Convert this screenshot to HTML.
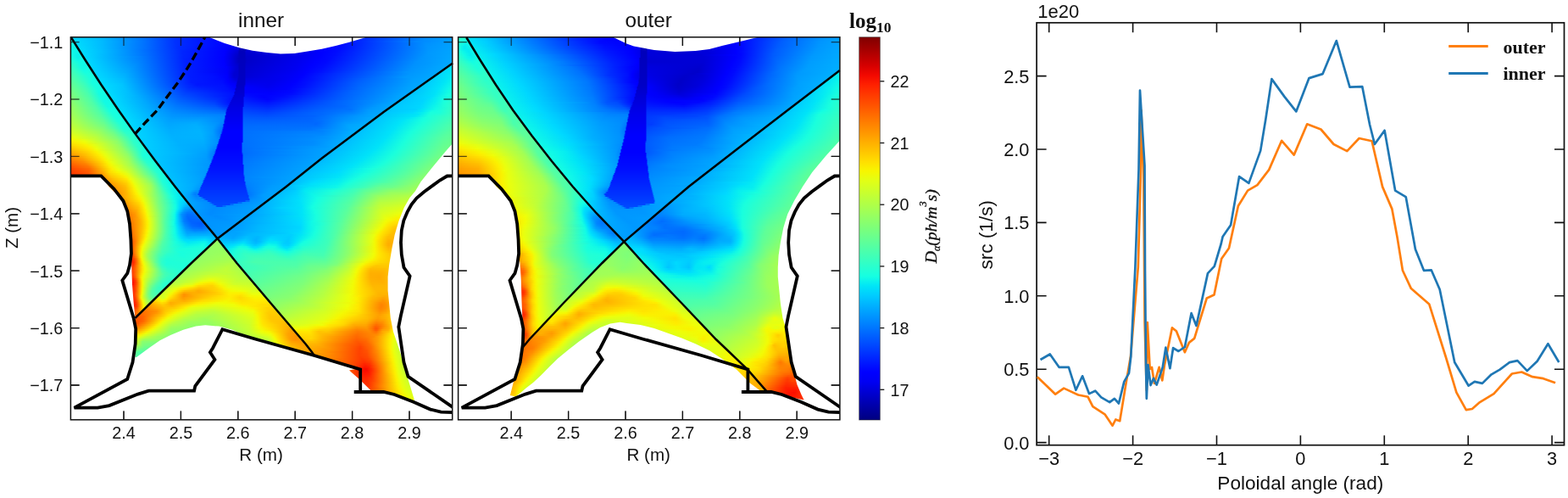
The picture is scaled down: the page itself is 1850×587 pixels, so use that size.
<!DOCTYPE html>
<html lang="en"><head><meta charset="utf-8"><title>Figure</title>
<style>
html,body{margin:0;padding:0;background:#fff}
body{width:1850px;height:587px;position:relative;overflow:hidden;font-family:'Liberation Sans', sans-serif}
.hm{position:absolute;left:0;top:0}
.hm i{display:block;height:2px}
svg{position:absolute;left:0;top:0}
text{font-family:'Liberation Sans', sans-serif;fill:#111}
.tk{font-size:19.8px}
.tt{font-size:24.3px}
.lb{font-size:20.6px}
.lc{font-size:22px}
.sf{font-family:'Liberation Serif', serif;font-weight:bold}
</style></head><body>
<svg width="1850" height="587" viewBox="0 0 1850 587"><path d="M146.0 494.8v-10.2M146.0 43.8v10.2M213.4 494.8v-10.2M213.4 43.8v10.2M280.8 494.8v-10.2M280.8 43.8v10.2M348.2 494.8v-10.2M348.2 43.8v10.2M415.6 494.8v-10.2M415.6 43.8v10.2M483.0 494.8v-10.2M483.0 43.8v10.2M83.4 49.6h10.2M533.7 49.6h-10.2M83.4 117.0h10.2M533.7 117.0h-10.2M83.4 184.4h10.2M533.7 184.4h-10.2M83.4 251.8h10.2M533.7 251.8h-10.2M83.4 319.2h10.2M533.7 319.2h-10.2M83.4 386.6h10.2M533.7 386.6h-10.2M83.4 454.0h10.2M533.7 454.0h-10.2" stroke="#111" stroke-width="1.3" fill="none"/><path d="M603.2 494.8v-10.2M603.2 43.8v10.2M670.6 494.8v-10.2M670.6 43.8v10.2M738.0 494.8v-10.2M738.0 43.8v10.2M805.4 494.8v-10.2M805.4 43.8v10.2M872.8 494.8v-10.2M872.8 43.8v10.2M940.2 494.8v-10.2M940.2 43.8v10.2M540.6 49.6h10.2M990.9 49.6h-10.2M540.6 117.0h10.2M990.9 117.0h-10.2M540.6 184.4h10.2M990.9 184.4h-10.2M540.6 251.8h10.2M990.9 251.8h-10.2M540.6 319.2h10.2M990.9 319.2h-10.2M540.6 386.6h10.2M990.9 386.6h-10.2M540.6 454.0h10.2M990.9 454.0h-10.2" stroke="#111" stroke-width="1.3" fill="none"/></svg>
<div class="hm" style="left:83.4px;top:43.8px;width:450px;height:451px;clip-path:polygon(0.0px 0.0px,163.2px 0.0px,167.0px 1.5px,181.6px 7.2px,199.0px 12.4px,214.6px 15.9px,231.5px 18.3px,247.6px 19.8px,263.9px 19.1px,279.6px 16.8px,296.3px 14.0px,312.6px 10.2px,328.8px 5.9px,345.0px 1.1px,348.6px 0.0px,450.7px 0.0px,450.7px 125.1px,442.3px 134.8px,426.1px 154.3px,413.1px 170.5px,406.6px 181.4px,400.1px 189.2px,393.6px 200.5px,387.1px 216.7px,382.3px 233.0px,379.0px 249.2px,375.8px 268.2px,374.2px 282.4px,374.2px 298.6px,375.8px 314.8px,377.4px 331.1px,380.6px 347.3px,385.5px 361.4px,389.6px 374.2px,393.6px 388.6px,400.1px 409.7px,405.0px 425.9px,405.6px 429.2px,385.5px 422.7px,372.5px 418.6px,354.6px 417.0px,341.7px 404.2px,328.6px 392.7px,341.7px 390.3px,287.2px 375.2px,224.6px 357.2px,206.6px 352.2px,191.6px 345.2px,175.0px 340.8px,158.8px 339.4px,147.8px 340.7px,132.8px 345.0px,117.8px 351.2px,105.3px 357.5px,92.7px 366.2px,77.7px 377.2px,76.1px 377.2px,76.9px 361.2px,76.9px 347.2px,76.1px 331.1px,74.1px 311.2px,72.6px 291.2px,71.9px 271.2px,71.5px 257.2px,71.5px 233.0px,70.4px 216.7px,66.3px 203.8px,58.2px 189.2px,45.2px 176.2px,35.5px 163.3px,0.0px 163.3px)"><i style="background:linear-gradient(90deg,#20ffd7 0px,#00dbff 1px,#00baff 36px,#0071ff 87px,#0030ff 125px,#0000ff 185px,#0000dc 222px,#0000e4 265px,#0000ff 304px,#000bff 322px,#008dff 419px,#009cff 449px)"></i><i style="background:linear-gradient(90deg,#1cffdb 0px,#1bffdc 1px,#00dbff 3px,#00baff 37px,#0075ff 85px,#0030ff 124px,#0000ff 185px,#0000dc 219px,#0000e2 262px,#0000ff 304px,#000cff 322px,#008dff 418px,#009dff 449px)"></i><i style="background:linear-gradient(90deg,#17ffe0 0px,#16ffe1 2px,#00dcfe 4px,#00bbff 37px,#0076ff 85px,#0030ff 124px,#0000ff 185px,#0000db 217px,#0000e0 259px,#0000ff 303px,#000bff 321px,#0086ff 408px,#009eff 449px)"></i><i style="background:linear-gradient(90deg,#12fce4 0px,#13fde4 3px,#00ddfe 5px,#00bbff 37px,#0074ff 86px,#0030ff 124px,#0000ff 185px,#0000dc 213px,#0000dd 254px,#0000ff 303px,#000dff 322px,#0090ff 419px,#009fff 449px)"></i><i style="background:linear-gradient(90deg,#0ff8e8 0px,#11fbe5 5px,#00ddfd 6px,#00bbff 37px,#0072ff 87px,#002fff 125px,#0000ff 185px,#0000dd 208px,#0000da 247px,#0000ff 302px,#000dff 321px,#0092ff 420px,#00a0ff 449px)"></i><i style="background:linear-gradient(90deg,#0ef6e9 0px,#10fae7 6px,#00ddfd 8px,#00bcff 37px,#0071ff 88px,#002dff 126px,#000bff 170px,#0000fa 188px,#0000e2 199px,#0000ce 200px,#0000cb 207px,#0000db 208px,#0000db 250px,#0000ff 301px,#000dff 320px,#0094ff 421px,#00a1ff 449px)"></i><i style="background:linear-gradient(90deg,#0df6e9 0px,#0ff8e8 7px,#00defd 9px,#00bcff 37px,#006fff 89px,#002cff 127px,#000aff 169px,#0000fa 187px,#0000dd 199px,#0000ba 200px,#0000ba 207px,#0000d8 208px,#0000dd 254px,#0000ff 300px,#000dff 319px,#0095ff 422px,#00a2ff 449px)"></i><i style="background:linear-gradient(90deg,#0ff8e8 0px,#0ef7e9 8px,#00defd 10px,#00bfff 36px,#009dff 59px,#0067ff 93px,#0027ff 131px,#0000ff 183px,#0000d9 198px,#0000ba 200px,#0000ba 207px,#0000d5 208px,#0000e0 258px,#0000ff 299px,#000eff 318px,#0096ff 422px,#00a3ff 449px)"></i><i style="background:linear-gradient(90deg,#11fae6 0px,#0cf4eb 8px,#0ef7e9 10px,#00ddfd 11px,#00c0ff 36px,#009fff 58px,#0068ff 93px,#0024ff 133px,#0000ff 182px,#0000ea 190px,#0000d3 198px,#0000bb 199px,#0000bb 206px,#0000d2 207px,#0000e4 263px,#0000ff 297px,#000bff 314px,#0097ff 422px,#00a4ff 449px)"></i><i style="background:linear-gradient(90deg,#14fee3 0px,#0af2ed 8px,#0df6e9 11px,#00ddfe 13px,#00bbff 39px,#006fff 90px,#0025ff 132px,#0000ff 182px,#0000cd 198px,#0000bb 199px,#0000bb 206px,#0000ce 207px,#0000e8 267px,#0000ff 296px,#000cff 313px,#0098ff 422px,#00a4ff 449px)"></i><i style="background:linear-gradient(90deg,#17ffe0 0px,#09f1ee 8px,#0df6e9 12px,#00ddfe 14px,#00b5ff 43px,#006fff 90px,#0023ff 134px,#0000ff 182px,#0000c7 198px,#0000bc 199px,#0000bc 206px,#0000cb 207px,#0000ea 269px,#0000ff 295px,#000bff 311px,#0097ff 420px,#00a5ff 449px)"></i><i style="background:linear-gradient(90deg,#1bffdc 0px,#0af1ed 8px,#0ef7e8 13px,#00dcfe 15px,#0080ff 82px,#0024ff 133px,#0000ff 181px,#0000ea 188px,#0000bc 200px,#0000bc 206px,#0000c9 207px,#0000ed 271px,#0000ff 294px,#000bff 309px,#0096ff 418px,#00a6ff 449px)"></i><i style="background:linear-gradient(90deg,#20ffd7 0px,#0bf3eb 9px,#11fae6 15px,#00dcfe 16px,#007bff 85px,#0022ff 134px,#0000ff 181px,#0000e5 189px,#0000bd 199px,#0000bd 206px,#0000ca 208px,#0000ee 270px,#0000ff 292px,#0009ff 306px,#0094ff 415px,#00a7ff 449px)"></i><i style="background:linear-gradient(90deg,#25ffd2 0px,#0ef7e9 9px,#12fbe5 16px,#00dbff 18px,#007eff 84px,#0021ff 135px,#0000ff 181px,#0000ea 188px,#0000be 199px,#0000be 206px,#0000c9 208px,#0000ef 270px,#0000ff 290px,#0008ff 304px,#0093ff 412px,#00a8ff 449px)"></i><i style="background:linear-gradient(90deg,#2affcd 0px,#0ff9e7 11px,#11fbe5 17px,#00dbff 19px,#0083ff 82px,#0021ff 135px,#0000ff 181px,#0000eb 188px,#0000be 199px,#0000be 206px,#0000ca 208px,#0000ef 269px,#0000ff 288px,#0008ff 302px,#0092ff 409px,#00a8ff 449px)"></i><i style="background:linear-gradient(90deg,#30ffc7 0px,#10fae6 12px,#11fae6 18px,#00dbff 20px,#008aff 79px,#0020ff 136px,#0000ff 182px,#0000c7 198px,#0000bf 200px,#0000bf 206px,#0000cb 207px,#0000f0 268px,#0000ff 286px,#0009ff 301px,#0091ff 407px,#00a9ff 449px)"></i><i style="background:linear-gradient(90deg,#35ffc1 0px,#0ff8e8 14px,#12fbe5 20px,#00dbff 21px,#0091ff 76px,#0020ff 136px,#0000ff 182px,#0000e1 191px,#0000cc 198px,#0000bf 199px,#0000bf 206px,#0000cd 207px,#0000f0 267px,#0000ff 284px,#000bff 300px,#0091ff 405px,#00a9ff 446px,#00defc 448px,#00e0fc 449px)"></i><i style="background:linear-gradient(90deg,#3affbc 0px,#10f9e7 14px,#12fce5 21px,#00daff 23px,#0096ff 74px,#001fff 137px,#0000fe 184px,#0000d1 197px,#0000cf 198px,#0000c0 199px,#0000c0 206px,#0000cf 207px,#0000f1 266px,#0000ff 282px,#000bff 298px,#0092ff 404px,#00a9ff 443px,#00dcfe 445px,#00e1fa 449px)"></i><i style="background:linear-gradient(90deg,#3fffb8 0px,#11fae6 15px,#14fee3 22px,#00daff 24px,#009dff 71px,#001eff 138px,#0000fb 185px,#0000d3 196px,#0000d1 198px,#0000c0 199px,#0000c0 206px,#0000d1 207px,#0000f0 264px,#0000ff 280px,#000dff 297px,#0093ff 403px,#00a8ff 440px,#00daff 442px,#00e2f9 449px)"></i><i style="background:linear-gradient(90deg,#43ffb4 0px,#13fde4 16px,#17ffe0 24px,#00daff 25px,#00a2ff 69px,#001eff 138px,#0000fb 185px,#0000d4 195px,#0000d1 198px,#0000c1 199px,#0000c1 206px,#0000d2 207px,#0000f1 263px,#0000ff 279px,#0010ff 297px,#0094ff 402px,#00a8ff 437px,#00c0ff 438px,#00c0ff 439px,#00d9ff 440px,#00e4f8 449px)"></i><i style="background:linear-gradient(90deg,#47ffb0 0px,#16ffe1 17px,#18ffde 25px,#00daff 27px,#00a6ff 68px,#001dff 139px,#0000fb 185px,#0000d3 194px,#0000d0 198px,#0000c1 199px,#0000c1 206px,#0000d3 207px,#0000f2 261px,#0000ff 277px,#0011ff 295px,#0093ff 397px,#00a7ff 434px,#00beff 435px,#00bfff 436px,#00d7ff 437px,#00e6f7 449px)"></i><i style="background:linear-gradient(90deg,#4bffac 0px,#1affdd 18px,#19ffde 26px,#00daff 28px,#00acff 66px,#001dff 139px,#000cff 168px,#0000fc 185px,#0000d4 193px,#0000d0 198px,#0000c2 199px,#0000c2 206px,#0000d5 207px,#0000f3 260px,#0000ff 276px,#0022ff 304px,#0097ff 401px,#00a7ff 432px,#00d5ff 434px,#01e7f5 449px)"></i><i style="background:linear-gradient(90deg,#4fffa8 0px,#1affdd 21px,#19ffde 28px,#00daff 29px,#00b0ff 65px,#001cff 140px,#000eff 168px,#0000fe 185px,#0000d4 193px,#0000d1 198px,#0000c2 199px,#0000c2 206px,#0000d6 207px,#0000f4 258px,#0000ff 274px,#0024ff 303px,#0097ff 398px,#00a7ff 429px,#00d3ff 431px,#03e9f4 449px)"></i><i style="background:linear-gradient(90deg,#53ffa4 0px,#17ffdf 24px,#17ffdf 29px,#00dbff 30px,#00b4ff 64px,#001bff 141px,#000fff 170px,#0000ff 185px,#0000d7 193px,#0000d4 197px,#0000c3 199px,#0000c3 206px,#0000d9 207px,#0000f2 254px,#0000ff 272px,#0027ff 303px,#0097ff 394px,#00a7ff 426px,#00d0ff 428px,#02e8f5 447px,#04ebf2 449px)"></i><i style="background:linear-gradient(90deg,#57ffa0 0px,#15ffe1 26px,#17ffe0 30px,#00dbff 32px,#00b9ff 63px,#001cff 141px,#0011ff 165px,#0007ff 180px,#0000fd 186px,#0000dc 194px,#0000da 197px,#0000c3 198px,#0000c3 206px,#0000df 207px,#0000ee 247px,#0000ff 269px,#0013ff 287px,#005fff 344px,#009dff 403px,#00a7ff 423px,#00baff 424px,#00bbff 425px,#00cfff 426px,#01e7f5 445px,#06edf1 449px)"></i><i style="background:linear-gradient(90deg,#5bff9c 0px,#2effc9 17px,#15ffe2 27px,#16ffe0 31px,#00dbff 33px,#00bdff 62px,#001bff 142px,#000bff 179px,#0000ff 186px,#0000e3 195px,#0000e3 196px,#0000c4 198px,#0000c4 206px,#0000e5 207px,#0000eb 241px,#0000ff 267px,#0013ff 285px,#005eff 341px,#009fff 403px,#00a7ff 420px,#00b9ff 421px,#00baff 422px,#00cdff 423px,#01e6f6 443px,#08efef 449px)"></i><i style="background:linear-gradient(90deg,#5fff97 0px,#37ffc0 16px,#16ffe1 26px,#18ffdf 33px,#00dcfe 34px,#00bfff 62px,#001aff 143px,#000dff 179px,#0000ff 187px,#0000ed 196px,#0000c4 197px,#0000c4 206px,#0000eb 207px,#0000eb 237px,#0000ff 265px,#0014ff 283px,#005fff 339px,#00a0ff 403px,#00a7ff 417px,#00b8ff 418px,#00b9ff 419px,#00cbff 420px,#00e5f7 441px,#0af1ed 449px)"></i><i style="background:linear-gradient(90deg,#63ff93 0px,#3cffbb 16px,#17ffe0 27px,#18ffdf 34px,#00dcfe 36px,#00c4ff 61px,#0026ff 138px,#0016ff 149px,#000fff 179px,#0000ff 189px,#0000f8 195px,#0000c5 197px,#0000c5 206px,#0000f1 207px,#0000ec 235px,#0000ff 262px,#000eff 277px,#0063ff 340px,#00a2ff 403px,#00a7ff 415px,#00c9ff 417px,#00e3f9 438px,#0bf4eb 449px)"></i><i style="background:linear-gradient(90deg,#67ff8f 0px,#41ffb6 16px,#18ffde 28px,#17ffe0 35px,#00ddfe 37px,#00c6ff 61px,#0031ff 134px,#0019ff 149px,#0011ff 180px,#0000ff 192px,#0000ff 195px,#0000c6 196px,#0000c6 205px,#0000f8 207px,#0000ed 233px,#0000ff 260px,#000eff 275px,#0067ff 342px,#00a2ff 402px,#00a7ff 412px,#00c7ff 414px,#00e2f9 436px,#0ef6e9 449px)"></i><i style="background:linear-gradient(90deg,#6bff8b 0px,#42ffb4 17px,#18ffdf 30px,#17ffe0 37px,#00ddfd 38px,#00c5ff 62px,#0029ff 140px,#001eff 153px,#0011ff 182px,#0000ff 195px,#0000c8 196px,#0000c8 205px,#0000fe 206px,#0000f0 233px,#0000ff 257px,#000dff 272px,#0069ff 341px,#00a3ff 400px,#00a7ff 409px,#00c5ff 411px,#00e3f9 435px,#10f9e7 449px)"></i><i style="background:linear-gradient(90deg,#6fff87 0px,#44ffb2 18px,#16ffe1 32px,#15ffe2 38px,#00ddfd 40px,#00c3ff 64px,#0030ff 139px,#0022ff 156px,#0010ff 185px,#0003ff 194px,#0000cb 195px,#0000cb 205px,#0000ff 206px,#0000f5 235px,#0000ff 256px,#001aff 278px,#0075ff 350px,#00a4ff 400px,#00a7ff 406px,#00b5ff 407px,#00b6ff 408px,#00c4ff 409px,#00e2fa 433px,#12fce4 449px)"></i><i style="background:linear-gradient(90deg,#74ff83 0px,#46ffb1 19px,#14fee3 33px,#14fee3 39px,#00defd 41px,#00c1ff 66px,#0036ff 138px,#0026ff 159px,#000cff 191px,#0009ff 194px,#0000cd 195px,#0000cd 205px,#0000ff 206px,#0000f9 236px,#0007ff 263px,#0063ff 332px,#00a3ff 395px,#00a7ff 403px,#00b4ff 404px,#00b5ff 405px,#00c3ff 406px,#00e2fa 432px,#15ffe2 449px)"></i><i style="background:linear-gradient(90deg,#78ff7f 0px,#48ffaf 20px,#13fde4 34px,#13fee3 41px,#00defd 42px,#00bfff 68px,#003fff 136px,#0029ff 162px,#000eff 193px,#0000cf 194px,#0000cf 205px,#0001ff 206px,#0000fd 236px,#0008ff 261px,#0061ff 328px,#00a2ff 392px,#00a7ff 400px,#00b4ff 401px,#00b5ff 402px,#00c2ff 403px,#00e2f9 431px,#17ffdf 449px)"></i><i style="background:linear-gradient(90deg,#7bff7b 0px,#49ffae 21px,#12fce5 35px,#13fce4 42px,#00defd 44px,#00baff 72px,#0047ff 134px,#0011ff 193px,#0000d2 194px,#0000d2 205px,#0007ff 206px,#0000ff 236px,#000dff 262px,#005bff 321px,#00a2ff 389px,#00a7ff 398px,#00c2ff 400px,#00e2f9 430px,#18ffdf 447px,#1affdd 449px)"></i><i style="background:linear-gradient(90deg,#7fff78 0px,#4affac 22px,#12fce5 36px,#12fbe5 43px,#00defd 45px,#00b7ff 75px,#004eff 133px,#001aff 183px,#0012ff 192px,#0000d4 193px,#0000d4 205px,#000cff 206px,#0000ff 226px,#0008ff 250px,#0022ff 273px,#0064ff 328px,#00a2ff 387px,#00a7ff 395px,#00c2ff 397px,#00e0fb 428px,#18ffdf 445px,#1dffda 449px)"></i><i style="background:linear-gradient(90deg,#83ff74 0px,#4fffa8 22px,#12fce5 37px,#12fce5 45px,#00defd 47px,#00b0ff 80px,#0056ff 131px,#0024ff 178px,#0012ff 191px,#0000d6 192px,#0000d6 204px,#0013ff 205px,#0000ff 229px,#0011ff 254px,#0062ff 324px,#00a4ff 387px,#00a6ff 392px,#00c2ff 394px,#00dcfe 424px,#0cf4eb 436px,#1bffdc 445px,#20ffd7 449px)"></i><i style="background:linear-gradient(90deg,#86ff70 0px,#50ffa6 23px,#12fce5 38px,#11fbe5 46px,#00defd 48px,#00afff 82px,#005dff 130px,#002eff 174px,#0012ff 189px,#0012ff 190px,#0000d9 191px,#0000d9 204px,#0019ff 205px,#0002ff 233px,#0033ff 278px,#00a4ff 384px,#00a6ff 389px,#00b5ff 390px,#00b5ff 391px,#00c3ff 392px,#00d7ff 419px,#07eef0 432px,#1bffdc 443px,#23ffd4 449px)"></i><i style="background:linear-gradient(90deg,#8aff6d 0px,#4effa9 25px,#11fae6 40px,#12fce5 48px,#00defd 49px,#00aeff 84px,#0065ff 128px,#0038ff 171px,#0012ff 189px,#0000db 190px,#0000db 204px,#001eff 205px,#000aff 233px,#003cff 281px,#007cff 342px,#00a6ff 386px,#00b5ff 387px,#00b5ff 388px,#00c4ff 389px,#00d5ff 416px,#07eef0 431px,#1affdd 441px,#26ffd1 449px)"></i><i style="background:linear-gradient(90deg,#8eff69 0px,#50ffa7 26px,#11fbe5 41px,#12fce5 49px,#00ddfd 51px,#00abff 87px,#006bff 127px,#0041ff 170px,#0015ff 188px,#0000dd 189px,#0000dd 204px,#0024ff 205px,#0013ff 233px,#0046ff 286px,#0078ff 338px,#00a5ff 381px,#00a6ff 383px,#00b5ff 384px,#00b6ff 385px,#00c4ff 386px,#00d6ff 415px,#08efef 430px,#1cffdb 441px,#29ffce 449px)"></i><i style="background:linear-gradient(90deg,#92ff65 0px,#4dffa9 28px,#12fce4 42px,#12fbe5 50px,#00ddfd 52px,#00acff 88px,#0072ff 126px,#0049ff 170px,#001dff 187px,#0000df 188px,#0000df 204px,#002bff 205px,#001bff 233px,#0050ff 292px,#0075ff 335px,#009dff 368px,#00a6ff 381px,#00c5ff 383px,#00d5ff 413px,#09f0ee 429px,#1effd9 441px,#2bffcc 449px)"></i><i style="background:linear-gradient(90deg,#95ff61 0px,#4fffa8 29px,#12fbe5 44px,#13fde4 52px,#00defd 53px,#00aeff 88px,#0078ff 125px,#0051ff 171px,#0029ff 186px,#0000e2 187px,#0000e2 204px,#0031ff 205px,#0023ff 233px,#0058ff 296px,#006aff 324px,#009cff 364px,#00a6ff 378px,#00c5ff 380px,#00d7ff 413px,#0cf5ea 430px,#1fffd7 441px,#2dffca 449px)"></i><i style="background:linear-gradient(90deg,#99ff5e 0px,#51ffa6 30px,#13fde4 45px,#14fee3 53px,#00ddfe 55px,#00adff 90px,#007eff 124px,#0059ff 173px,#0039ff 185px,#0000e4 186px,#0000e4 203px,#0038ff 204px,#002bff 233px,#005eff 299px,#006cff 323px,#0076ff 333px,#0099ff 357px,#00a6ff 375px,#00c5ff 377px,#00d7ff 412px,#11fae6 432px,#2fffc8 449px)"></i><i style="background:linear-gradient(90deg,#9bff5b 0px,#52ffa4 31px,#15ffe2 46px,#14ffe3 54px,#00ddfd 56px,#00b0ff 90px,#0084ff 123px,#0060ff 176px,#004bff 184px,#0000e6 185px,#0000e6 203px,#003eff 204px,#0033ff 233px,#0063ff 300px,#0070ff 322px,#0071ff 330px,#0097ff 351px,#00a6ff 372px,#00b5ff 373px,#00b6ff 374px,#00c6ff 375px,#00d2ff 407px,#01e7f6 417px,#12fce5 431px,#31ffc6 449px)"></i><i style="background:linear-gradient(90deg,#9fff58 0px,#51ffa6 33px,#17ffdf 47px,#16ffe1 56px,#00defd 57px,#00b2ff 90px,#0089ff 122px,#0069ff 179px,#005fff 183px,#0000e9 185px,#0000e9 203px,#0045ff 204px,#003aff 232px,#0066ff 300px,#0074ff 321px,#0079ff 331px,#009bff 352px,#00a6ff 369px,#00b5ff 370px,#00b6ff 371px,#00c5ff 372px,#00d6ff 405px,#00e3f9 414px,#15fee2 427px,#1cffdb 437px,#33ffc4 449px)"></i><i style="background:linear-gradient(90deg,#a2ff55 0px,#53ffa4 34px,#18ffdf 49px,#15ffe1 57px,#00ddfd 59px,#00b3ff 91px,#008dff 122px,#0071ff 182px,#006eff 183px,#0000eb 184px,#0000eb 203px,#004aff 204px,#0042ff 232px,#0069ff 300px,#0079ff 321px,#0082ff 333px,#009fff 353px,#00a6ff 367px,#00c5ff 369px,#00daff 404px,#06eef0 416px,#19ffde 425px,#1cffdb 436px,#35ffc1 449px)"></i><i style="background:linear-gradient(90deg,#a5ff52 0px,#55ffa1 35px,#1affdc 50px,#16ffe1 59px,#00defd 60px,#00b7ff 90px,#0093ff 120px,#007eff 182px,#007aff 183px,#0000ec 184px,#0000ec 203px,#0050ff 204px,#0049ff 232px,#0069ff 298px,#007eff 319px,#008cff 335px,#00a2ff 353px,#00a7ff 364px,#00c4ff 366px,#00e5f7 410px,#1affdd 423px,#25ffd2 438px,#38ffbf 449px)"></i><i style="background:linear-gradient(90deg,#a9ff4e 0px,#58ff9f 36px,#1affdd 52px,#16ffe1 60px,#00ddfe 62px,#00b7ff 91px,#0096ff 120px,#008cff 161px,#0084ff 182px,#0000ee 183px,#0000ee 203px,#0055ff 204px,#0050ff 232px,#0062ff 287px,#0083ff 319px,#0098ff 339px,#00a7ff 360px,#00a7ff 361px,#00b5ff 362px,#00b6ff 363px,#00c4ff 364px,#00e5f7 406px,#1cffdb 422px,#32ffc4 443px,#3bffbc 449px)"></i><i style="background:linear-gradient(90deg,#acff4a 0px,#5bff9c 37px,#19ffde 54px,#16ffe0 61px,#00ddfe 63px,#00b9ff 91px,#009aff 120px,#0096ff 156px,#0086ff 182px,#0000f0 183px,#0000f0 203px,#005aff 204px,#0057ff 232px,#0064ff 284px,#0071ff 300px,#0087ff 318px,#00a7ff 353px,#00a9ff 359px,#00c4ff 361px,#00e5f7 399px,#17ffe0 418px,#3effb8 449px)"></i><i style="background:linear-gradient(90deg,#b0ff46 0px,#5fff98 38px,#1bffdc 55px,#19ffde 63px,#00dcfe 65px,#009fff 117px,#009dff 154px,#0087ff 181px,#0000f2 183px,#0000f2 203px,#005eff 204px,#005cff 230px,#0065ff 285px,#0075ff 301px,#008fff 323px,#00a9ff 354px,#00aaff 356px,#00c3ff 358px,#00e3f9 393px,#16ffe0 416px,#42ffb5 449px)"></i><i style="background:linear-gradient(90deg,#b5ff42 0px,#62ff95 39px,#1dffd9 56px,#1affdd 64px,#00dcfe 66px,#00a2ff 116px,#00a4ff 151px,#0087ff 180px,#0085ff 181px,#0000f4 182px,#0000f4 203px,#0062ff 204px,#0061ff 221px,#0066ff 284px,#006dff 295px,#0094ff 323px,#00abff 353px,#00b6ff 354px,#00b7ff 355px,#00c3ff 356px,#00e3f9 390px,#1affdd 416px,#45ffb2 449px)"></i><i style="background:linear-gradient(90deg,#b9ff3e 0px,#69ff8e 39px,#1fffd8 58px,#1bffdc 66px,#00dcff 67px,#00a5ff 116px,#00aaff 149px,#0092ff 173px,#0081ff 181px,#0000f6 182px,#0000f6 203px,#0065ff 204px,#0065ff 220px,#0069ff 283px,#0068ff 291px,#009aff 324px,#00acff 351px,#00c2ff 353px,#00e3f9 388px,#1cffdb 415px,#48ffae 449px)"></i><i style="background:linear-gradient(90deg,#beff39 0px,#6dff8a 40px,#1fffd8 60px,#1cffdb 67px,#00daff 69px,#00a7ff 116px,#00aeff 148px,#0096ff 171px,#007eff 180px,#0000f8 181px,#0000f8 203px,#0068ff 204px,#0069ff 220px,#006cff 282px,#0069ff 290px,#00a3ff 328px,#00adff 348px,#00c1ff 350px,#00e3f9 386px,#1cffdb 413px,#4cffab 449px)"></i><i style="background:linear-gradient(90deg,#c2ff34 0px,#75ff82 40px,#1effd9 62px,#1cffdb 68px,#00daff 70px,#00a9ff 116px,#00b0ff 150px,#009bff 169px,#0078ff 180px,#0000fa 181px,#0000fa 203px,#006aff 204px,#006dff 221px,#006eff 283px,#0071ff 293px,#00a6ff 329px,#00adff 345px,#00c0ff 347px,#00e3f9 384px,#1bffdc 410px,#4fffa8 449px)"></i><i style="background:linear-gradient(90deg,#c7ff2f 0px,#7fff78 39px,#4affad 53px,#21ffd6 62px,#1effd9 70px,#00d9ff 72px,#00abff 117px,#00b1ff 151px,#009bff 169px,#0074ff 179px,#0000fc 181px,#0000fc 203px,#006dff 204px,#0072ff 283px,#007aff 296px,#00a9ff 331px,#00aeff 342px,#00c1ff 346px,#00e3f9 382px,#1bffdc 408px,#52ffa5 449px)"></i><i style="background:linear-gradient(90deg,#cdff2a 0px,#8bff6c 37px,#5eff99 51px,#24ffd2 63px,#20ffd7 71px,#00d8ff 73px,#00adff 117px,#00b2ff 152px,#009dff 168px,#0070ff 179px,#0000fe 180px,#0000fe 203px,#006eff 204px,#0076ff 285px,#0089ff 303px,#00acff 335px,#00aeff 340px,#00c0ff 342px,#00e2f9 380px,#1bffdc 406px,#54ffa2 449px)"></i><i style="background:linear-gradient(90deg,#d3ff24 0px,#99ff5e 34px,#67ff90 51px,#29ffcd 64px,#23ffd4 73px,#00d7ff 74px,#00aeff 118px,#00b3ff 153px,#009dff 168px,#0071ff 178px,#0000ff 180px,#0000ff 203px,#0070ff 204px,#0081ff 296px,#00abff 330px,#00aeff 337px,#00c0ff 340px,#00e2fa 378px,#1affdd 403px,#55ffa1 447px,#57ffa0 449px)"></i><i style="background:linear-gradient(90deg,#daff1d 0px,#a2ff54 33px,#71ff86 51px,#2dffca 66px,#25ffd2 74px,#00d6ff 76px,#00afff 119px,#00b3ff 154px,#009eff 168px,#0072ff 178px,#0000ff 179px,#0000ff 203px,#0070ff 204px,#0086ff 297px,#00acff 330px,#00aeff 334px,#00c0ff 338px,#00e3f9 377px,#19ffdd 401px,#56ffa0 445px,#5aff9d 449px)"></i><i style="background:linear-gradient(90deg,#e2ff15 0px,#acff4b 32px,#76ff81 52px,#32ffc5 67px,#26ffd1 76px,#00d5ff 77px,#00b0ff 120px,#00b2ff 155px,#009bff 169px,#0079ff 177px,#0000ff 178px,#0000ff 203px,#0071ff 204px,#008aff 298px,#00adff 329px,#00afff 332px,#00bfff 335px,#00e2f9 375px,#1bffdc 400px,#57ff9f 443px,#5cff9b 449px)"></i><i style="background:linear-gradient(90deg,#eaff0d 0px,#b6ff41 31px,#7cff7b 53px,#30ffc7 70px,#26ffd1 77px,#00d4ff 79px,#00b1ff 121px,#00b2ff 155px,#0098ff 170px,#0081ff 176px,#0000ff 178px,#0000ff 203px,#0071ff 204px,#0087ff 285px,#0095ff 304px,#00aeff 329px,#00beff 332px,#00e2fa 373px,#1affdd 398px,#58ff9f 441px,#5fff98 449px)"></i><i style="background:linear-gradient(90deg,#f1fc05 0px,#c2ff34 29px,#7eff79 55px,#2fffc8 72px,#25ffd2 79px,#00d3ff 80px,#00b1ff 123px,#00b1ff 156px,#0096ff 171px,#0085ff 176px,#0000ff 177px,#0000ff 203px,#0071ff 204px,#008aff 284px,#0094ff 302px,#00adff 326px,#00beff 330px,#00e3f9 372px,#1bffdc 397px,#59ff9e 439px,#61ff95 449px)"></i><i style="background:linear-gradient(90deg,#f9f300 0px,#e3ff14 17px,#88ff6f 55px,#2fffc8 73px,#25ffd2 80px,#00d2ff 82px,#00b1ff 124px,#00afff 157px,#0091ff 173px,#008cff 175px,#0000ff 176px,#0000ff 203px,#0071ff 204px,#008cff 285px,#009aff 305px,#00adff 324px,#00beff 327px,#00e3f9 370px,#1affdd 395px,#5cff9b 440px,#64ff93 449px)"></i><i style="background:linear-gradient(90deg,#ffea00 0px,#ecff0b 17px,#90ff67 55px,#2cffca 75px,#24ffd3 82px,#00d2ff 83px,#00b1ff 126px,#00aeff 157px,#0090ff 174px,#0000ff 176px,#0000ff 203px,#0071ff 204px,#008cff 287px,#00acff 321px,#00bdff 324px,#00e2f9 368px,#1bffdc 394px,#5fff98 440px,#66ff90 449px)"></i><i style="background:linear-gradient(90deg,#ffe100 0px,#f4f903 17px,#c2ff35 39px,#86ff71 59px,#30ffc7 75px,#23ffd4 83px,#00d0ff 85px,#00b1ff 128px,#00acff 158px,#008fff 174px,#0000ff 175px,#0000ff 202px,#0070ff 203px,#008dff 287px,#00abff 318px,#00bdff 322px,#00e2f9 366px,#1affdc 392px,#61ff95 440px,#69ff8e 449px)"></i><i style="background:linear-gradient(90deg,#ffd800 0px,#f9f300 19px,#e4ff13 28px,#95ff62 57px,#2effc9 77px,#21ffd6 85px,#00d0ff 86px,#00b0ff 129px,#00aaff 158px,#008eff 173px,#0000ff 174px,#0000ff 202px,#0070ff 203px,#008fff 287px,#00aaff 316px,#00bcff 318px,#00e2f9 364px,#1bffdc 391px,#64ff93 440px,#6bff8b 449px)"></i><i style="background:linear-gradient(90deg,#ffcd00 0px,#faf200 22px,#e6ff10 30px,#93ff63 59px,#2bffcb 79px,#1fffd7 86px,#00ceff 88px,#00b1ff 130px,#00a8ff 159px,#008bff 172px,#0000ff 174px,#0000ff 202px,#006fff 203px,#009bff 300px,#00a8ff 313px,#00bbff 315px,#00e2f9 362px,#1affdc 389px,#66ff90 440px,#6dff89 448px)"></i><i style="background:linear-gradient(90deg,#ffc200 0px,#ffe900 22px,#ebff0c 31px,#92ff65 61px,#28ffcf 81px,#1dffd9 87px,#00ceff 89px,#00b1ff 131px,#00a5ff 160px,#0085ff 172px,#0001ff 173px,#0001ff 202px,#006eff 203px,#0084ff 254px,#00a3ff 306px,#00a6ff 310px,#00bcff 314px,#00e2f9 360px,#1bffdc 388px,#69ff8e 440px,#6eff88 446px)"></i><i style="background:linear-gradient(90deg,#ffb700 0px,#ffe100 22px,#f2fb05 31px,#94ff63 62px,#27ffd0 82px,#1bffdc 89px,#00ccff 91px,#00b0ff 133px,#00a3ff 160px,#0081ff 171px,#0003ff 172px,#0003ff 202px,#006dff 203px,#0077ff 220px,#00a3ff 305px,#00a6ff 308px,#00baff 310px,#00e3f9 358px,#1bffdc 386px,#6cff8b 440px,#6fff88 444px)"></i><i style="background:linear-gradient(90deg,#ffad00 0px,#ffd300 20px,#f9f300 31px,#e5ff11 38px,#8eff69 65px,#21ffd5 84px,#19ffde 90px,#00ccff 92px,#00afff 136px,#00a1ff 160px,#007fff 170px,#0004ff 172px,#0004ff 202px,#006dff 203px,#0074ff 217px,#0085ff 250px,#00a4ff 305px,#00baff 307px,#00e2fa 355px,#1bffdc 384px,#6eff88 440px,#71ff86 443px)"></i><i style="background:linear-gradient(90deg,#ffa200 0px,#ffc500 18px,#fbf100 33px,#e6ff11 40px,#8dff6a 67px,#1effd9 85px,#18ffdf 92px,#00caff 94px,#00aeff 140px,#009dff 161px,#007aff 170px,#0006ff 171px,#0006ff 202px,#006dff 204px,#0086ff 248px,#00a3ff 302px,#00aeff 303px,#00afff 304px,#00baff 305px,#00e3f9 353px,#1affdc 382px,#71ff86 440px,#72ff85 441px)"></i><i style="background:linear-gradient(90deg,#ff9800 0px,#ffba00 17px,#fcf000 35px,#e9ff0e 41px,#90ff67 68px,#1bffdc 86px,#18ffdf 93px,#00caff 95px,#009eff 160px,#007dff 169px,#0007ff 170px,#0007ff 203px,#006fff 204px,#0087ff 252px,#00a3ff 300px,#00b9ff 302px,#00e2f9 350px,#1affdc 380px,#73ff84 439px)"></i><i style="background:linear-gradient(90deg,#ff8e00 0px,#ffaa00 15px,#fcef00 37px,#e8ff0f 43px,#93ff64 69px,#20ffd7 86px,#18ffde 95px,#00c8ff 97px,#009dff 160px,#0081ff 168px,#0009ff 169px,#0009ff 203px,#0071ff 204px,#00a2ff 297px,#00b9ff 299px,#00e2fa 347px,#1bffdc 378px,#75ff82 438px)"></i><i style="background:linear-gradient(90deg,#ff8400 0px,#ff9f00 15px,#fcef00 39px,#e6ff10 45px,#9aff5c 69px,#23ffd3 87px,#19ffde 96px,#00c8ff 98px,#009aff 161px,#0087ff 167px,#000aff 169px,#000aff 203px,#0073ff 204px,#00a2ff 294px,#00adff 295px,#00aeff 296px,#00b9ff 297px,#00e3f9 345px,#1bffdc 376px,#76ff81 436px)"></i><i style="background:linear-gradient(90deg,#ff7900 0px,#ff9400 15px,#ffdf00 37px,#f4f903 43px,#d1ff26 54px,#9eff58 69px,#27ffcf 88px,#1affdd 96px,#1bffdc 98px,#00c7ff 100px,#009aff 161px,#008dff 166px,#000cff 168px,#000cff 203px,#0075ff 204px,#00a3ff 292px,#00b9ff 294px,#00e2f9 342px,#1bffdc 374px,#76ff80 434px)"></i><i style="background:linear-gradient(90deg,#ff6e00 0px,#ff8a00 16px,#ffd200 36px,#faf100 43px,#e9ff0e 48px,#a4ff53 69px,#27ffcf 90px,#1bffdb 99px,#00c6ff 101px,#0099ff 162px,#008fff 166px,#000dff 167px,#000dff 203px,#0077ff 204px,#00a3ff 289px,#00aeff 290px,#00aeff 291px,#00b9ff 292px,#00e2f9 339px,#1bffdc 371px,#78ff7e 433px)"></i><i style="background:linear-gradient(90deg,#ff6400 0px,#ff8300 18px,#ffcd00 37px,#f9f300 45px,#e8ff0f 50px,#a5ff52 70px,#2cffcb 91px,#1cffdb 100px,#1cffdb 101px,#00c5ff 103px,#0097ff 163px,#0093ff 165px,#000fff 166px,#000fff 203px,#0079ff 204px,#00a3ff 287px,#00baff 289px,#00e2f9 336px,#1affdd 368px,#79ff7d 431px)"></i><i style="background:linear-gradient(90deg,#ff5900 0px,#ff7b00 20px,#ffde00 42px,#f4f903 48px,#d4ff23 59px,#98ff5e 74px,#2cffcb 93px,#1cffdb 102px,#00c5ff 104px,#0096ff 164px,#0010ff 165px,#0010ff 204px,#007aff 205px,#00a3ff 284px,#00afff 285px,#00afff 286px,#00bbff 287px,#00e2fa 333px,#1affdc 365px,#56ffa1 405px,#7aff7c 429px)"></i><i style="background:linear-gradient(90deg,#ff4f00 0px,#ff7500 22px,#fdee00 47px,#e8ff0f 54px,#afff48 71px,#28ffcf 96px,#1cffdb 104px,#00c4ff 106px,#0098ff 163px,#0012ff 165px,#0012ff 204px,#007cff 205px,#00a3ff 282px,#00bcff 284px,#00e2fa 330px,#1affdd 361px,#4fffa8 399px,#7dff7a 428px)"></i><i style="background:linear-gradient(90deg,#ff4600 0px,#ff6900 22px,#fcf000 49px,#e9ff0e 56px,#b3ff44 72px,#27ffcf 98px,#1cffda 105px,#00c4ff 107px,#0098ff 162px,#0013ff 164px,#0013ff 204px,#007dff 205px,#00a3ff 279px,#00b0ff 280px,#00b1ff 281px,#00bdff 282px,#00ddfd 323px,#14fee3 352px,#4affad 394px,#7eff79 426px)"></i><i style="background:linear-gradient(90deg,#ff3f00 0px,#ff6000 22px,#ffbd00 40px,#ffe600 48px,#eeff09 57px,#c0ff36 71px,#27ffd0 100px,#1cffdb 107px,#00c3ff 109px,#0098ff 162px,#0015ff 163px,#0015ff 204px,#007fff 205px,#00a3ff 277px,#00beff 279px,#00d9ff 317px,#0cf4eb 341px,#1effd9 358px,#51ffa5 396px,#7fff78 424px)"></i><i style="background:linear-gradient(90deg,#ff3a00 0px,#ff5800 21px,#ffae00 39px,#ffd900 46px,#f8f501 56px,#e1ff16 65px,#b4ff43 75px,#26ffd1 102px,#1affdd 109px,#00c3ff 110px,#0098ff 161px,#0018ff 162px,#0018ff 204px,#0080ff 205px,#00a3ff 274px,#00b1ff 275px,#00b2ff 276px,#00c0ff 277px,#00daff 315px,#0df5ea 339px,#1fffd7 356px,#54ffa3 395px,#82ff75 423px)"></i><i style="background:linear-gradient(90deg,#ff3600 0px,#ff5400 21px,#ffa700 39px,#ffd300 47px,#f7f501 60px,#e0ff17 68px,#4effa9 96px,#21ffd6 105px,#19ffde 110px,#00c3ff 112px,#009aff 159px,#0099ff 160px,#001aff 161px,#001aff 204px,#0081ff 205px,#00a3ff 272px,#00c0ff 274px,#00e0fb 318px,#1affdd 348px,#56ffa1 394px,#83ff73 421px)"></i><i style="background:linear-gradient(90deg,#ff3200 0px,#ff4d00 20px,#ff9a00 38px,#ffcc00 48px,#f9f300 63px,#e4ff12 69px,#60ff97 95px,#24ffd3 105px,#17ffe0 112px,#00c3ff 113px,#009fff 155px,#009aff 159px,#001dff 161px,#001dff 204px,#0083ff 206px,#00a3ff 269px,#00b1ff 270px,#00b2ff 271px,#00c1ff 272px,#00e2f9 317px,#1affdd 345px,#5bff9c 394px,#86ff70 420px)"></i><i style="background:linear-gradient(90deg,#ff8500 35px,#ffc500 49px,#faf200 66px,#e4ff13 71px,#6cff8b 95px,#23ffd4 106px,#15ffe2 113px,#00c2ff 115px,#00a2ff 153px,#009aff 158px,#001fff 160px,#001fff 205px,#0084ff 206px,#008eff 222px,#00a3ff 267px,#00c0ff 269px,#00e3f9 315px,#19ffde 341px,#5fff97 394px,#88ff6f 418px)"></i><i style="background:linear-gradient(90deg,#ff8900 37px,#ffc000 51px,#ffe600 66px,#edff0a 71px,#9cff5b 88px,#6aff8d 97px,#22ffd4 107px,#14fee3 115px,#00c2ff 117px,#00a3ff 152px,#009bff 157px,#0022ff 159px,#0022ff 205px,#0084ff 206px,#008aff 219px,#00a3ff 264px,#00beff 266px,#00d7ff 294px,#05ecf2 319px,#19ffde 337px,#66ff91 395px,#8aff6c 416px)"></i><i style="background:linear-gradient(90deg,#ff8700 38px,#ffb900 52px,#ffdc00 66px,#fbf100 70px,#e5ff12 74px,#a3ff54 89px,#75ff82 97px,#21ffd6 108px,#12fce4 115px,#12fce4 116px,#00c2ff 118px,#00a5ff 151px,#009cff 156px,#0024ff 158px,#0024ff 205px,#0084ff 206px,#008cff 220px,#00a3ff 262px,#00bdff 264px,#00d9ff 289px,#06ecf1 317px,#19ffde 333px,#4cffab 373px,#8eff69 415px)"></i><i style="background:linear-gradient(90deg,#ff8900 40px,#ffb600 55px,#ffd200 66px,#f8f400 72px,#e7ff10 75px,#8eff68 95px,#20ffd7 109px,#11fbe5 117px,#11fbe5 118px,#00c1ff 120px,#00a6ff 150px,#009bff 156px,#0027ff 157px,#0027ff 206px,#0083ff 207px,#00a0ff 253px,#00a3ff 259px,#00bbff 261px,#00dcfe 287px,#07eff0 316px,#19ffde 329px,#39ffbe 352px,#52ffa5 373px,#90ff67 413px)"></i><i style="background:linear-gradient(90deg,#ff8700 41px,#ffaf00 56px,#ffca00 66px,#f9f300 73px,#e8ff0e 76px,#98ff5f 95px,#27ffd0 109px,#12fbe5 116px,#10fae6 119px,#00c1ff 121px,#00aaff 147px,#009bff 155px,#0029ff 156px,#0029ff 206px,#0081ff 207px,#009bff 242px,#00a3ff 257px,#00baff 259px,#00e0fc 285px,#09f1ee 315px,#1affdd 326px,#39ffbe 349px,#58ff9f 368px,#66ff91 384px,#94ff63 412px)"></i><i style="background:linear-gradient(90deg,#ff8800 43px,#ffbf00 65px,#f9f300 74px,#e9ff0e 77px,#9fff57 95px,#28ffcf 110px,#11fbe6 117px,#0ff9e7 121px,#00c0ff 123px,#00acff 145px,#009aff 154px,#002bff 155px,#002bff 206px,#0080ff 208px,#009bff 238px,#00a2ff 254px,#00b9ff 256px,#00d5ff 272px,#04eaf3 297px,#0df5ea 315px,#1dffd9 325px,#3affbc 347px,#5fff97 366px,#69ff8e 381px,#98ff5f 411px)"></i><i style="background:linear-gradient(90deg,#ff8500 44px,#ffb900 65px,#f9f300 75px,#e9ff0d 78px,#a3ff53 95px,#29ffce 111px,#11fae6 118px,#0ef7e9 122px,#00bfff 124px,#00acff 144px,#0098ff 153px,#002eff 154px,#002eff 207px,#007eff 208px,#009cff 237px,#00a3ff 252px,#00b9ff 254px,#00cbff 267px,#01e6f6 282px,#0ef6e9 313px,#1effd9 322px,#40ffb7 346px,#67ff90 364px,#6fff88 379px,#8eff68 401px,#9cff5a 410px)"></i><i style="background:linear-gradient(90deg,#ff8500 46px,#ffb500 65px,#fdee00 75px,#eaff0d 79px,#a5ff52 95px,#29ffce 112px,#0ef7e8 120px,#0cf5ea 124px,#00beff 126px,#00adff 143px,#0095ff 152px,#0030ff 154px,#0030ff 207px,#007dff 209px,#009dff 235px,#00a2ff 249px,#00b9ff 251px,#00c7ff 265px,#01e7f6 278px,#20ffd7 319px,#5bff9c 352px,#7aff7d 374px,#8eff69 398px,#a0ff57 408px)"></i><i style="background:linear-gradient(90deg,#ff8500 48px,#ffb300 65px,#fcef00 76px,#eaff0d 80px,#a5ff51 95px,#23ffd3 114px,#0cf4eb 122px,#0af2ed 126px,#00bdff 127px,#00aaff 142px,#0092ff 148px,#008fff 151px,#0033ff 153px,#0033ff 208px,#007bff 209px,#009fff 235px,#00a2ff 246px,#00aeff 247px,#00aeff 248px,#00baff 249px,#00ceff 266px,#03e9f4 277px,#1cffda 309px,#40ffb7 336px,#5cff9a 347px,#8cff6a 378px,#94ff63 397px,#a5ff52 407px)"></i><i style="background:linear-gradient(90deg,#ff8600 50px,#ffb000 65px,#fcef00 77px,#eaff0d 81px,#9fff57 96px,#1effd8 116px,#09f0ee 125px,#08f0ef 127px,#00bbff 129px,#00a6ff 141px,#0085ff 147px,#0089ff 151px,#0035ff 152px,#0035ff 208px,#0079ff 210px,#009fff 233px,#00a3ff 244px,#00baff 246px,#00d1ff 266px,#08efef 281px,#22ffd5 309px,#42ffb5 334px,#68ff8e 349px,#97ff60 378px,#9dff5a 397px,#aaff4d 406px)"></i><i style="background:linear-gradient(90deg,#ff8700 52px,#ffb300 66px,#fdef00 78px,#ebff0c 82px,#9aff5d 97px,#1affdd 118px,#06edf0 127px,#06ecf1 129px,#00b9ff 131px,#00a1ff 141px,#007dff 147px,#0083ff 150px,#0038ff 151px,#0038ff 209px,#0077ff 210px,#009cff 228px,#00a3ff 241px,#00baff 243px,#00d3ff 266px,#0bf4eb 284px,#22ffd5 307px,#48ffaf 334px,#81ff76 357px,#9fff58 379px,#a8ff4f 399px,#aeff48 404px)"></i><i style="background:linear-gradient(90deg,#ff8800 54px,#ffc300 70px,#faf200 80px,#e7ff0f 84px,#15ffe2 120px,#03eaf3 129px,#03e9f4 130px,#00b7ff 132px,#00a0ff 141px,#0083ff 148px,#0086ff 151px,#003aff 153px,#003aff 210px,#007cff 211px,#009cff 227px,#00a3ff 238px,#00aeff 239px,#00aeff 240px,#00baff 241px,#00d7ff 267px,#10f9e7 288px,#48ffaf 332px,#96ff61 363px,#a7ff50 381px,#b2ff44 402px)"></i><i style="background:linear-gradient(90deg,#ff8a00 56px,#fcf000 81px,#e8ff0f 85px,#28ffcf 117px,#11fbe6 122px,#00e4f8 132px,#00b4ff 134px,#0089ff 149px,#008aff 154px,#0063ff 155px,#0063ff 156px,#003dff 157px,#003dff 210px,#0082ff 211px,#009fff 230px,#00a3ff 236px,#00b9ff 238px,#00daff 268px,#15ffe2 292px,#4fffa8 333px,#a1ff55 365px,#afff48 385px,#b8ff3f 401px)"></i><i style="background:linear-gradient(90deg,#ff8d00 58px,#feed00 82px,#e8ff0e 86px,#65ff92 107px,#11fae6 123px,#00e3f9 130px,#00ddfe 134px,#00b1ff 135px,#008eff 150px,#008cff 157px,#0065ff 158px,#0065ff 159px,#003fff 160px,#003fff 211px,#008bff 212px,#00a2ff 233px,#00b8ff 235px,#00ddfe 269px,#16ffe1 291px,#51ffa6 332px,#a9ff4e 365px,#bdff39 399px)"></i><i style="background:linear-gradient(90deg,#ff8c00 59px,#ffe500 82px,#eefe08 86px,#72ff84 105px,#14fee3 123px,#00e2f9 129px,#00d6ff 135px,#00acff 137px,#0092ff 152px,#008bff 161px,#0042ff 163px,#0042ff 206px,#0066ff 207px,#0068ff 211px,#0090ff 212px,#00a1ff 230px,#00b8ff 234px,#00e1fb 271px,#17ffe0 291px,#55ffa2 332px,#b0ff47 365px,#c4ff33 398px)"></i><i style="background:linear-gradient(90deg,#ff8a00 60px,#ffd800 81px,#fbf100 85px,#e7ff10 88px,#7aff7d 104px,#11fae6 124px,#00e0fb 129px,#00caff 137px,#00a8ff 139px,#008aff 164px,#0067ff 165px,#0067ff 166px,#0045ff 167px,#0045ff 197px,#0067ff 198px,#0068ff 202px,#008bff 203px,#00a1ff 228px,#00b4ff 230px,#00e0fb 271px,#16ffe1 289px,#56ffa0 331px,#b7ff40 365px,#caff2d 397px)"></i><i style="background:linear-gradient(90deg,#ff8900 61px,#ffd100 81px,#faf200 86px,#e5ff12 89px,#7dff7a 104px,#13fde4 124px,#00dffc 129px,#00bcff 138px,#00a6ff 140px,#0089ff 167px,#0068ff 168px,#0068ff 169px,#0047ff 170px,#0047ff 188px,#0068ff 189px,#0069ff 192px,#008aff 193px,#00a0ff 225px,#00b2ff 228px,#00ceff 254px,#00e2fa 272px,#16ffe1 288px,#5aff9d 331px,#bcff3b 365px,#d0ff26 396px)"></i><i style="background:linear-gradient(90deg,#ff8600 62px,#ffc500 80px,#feec00 86px,#eaff0d 89px,#7aff7d 105px,#14fee3 124px,#00ddfd 129px,#00b2ff 137px,#009cff 148px,#0089ff 170px,#0089ff 171px,#004aff 173px,#004aff 179px,#0069ff 180px,#006aff 183px,#008aff 184px,#00a0ff 222px,#00b1ff 227px,#00ceff 252px,#00e3f9 273px,#14ffe3 286px,#56ffa1 328px,#c1ff36 365px,#d6ff21 395px)"></i><i style="background:linear-gradient(90deg,#ff8400 63px,#ffbe00 80px,#fdef00 87px,#eeff09 89px,#7cff7b 105px,#14ffe2 124px,#00dcfe 129px,#00acff 135px,#009bff 142px,#00a1ff 144px,#008aff 169px,#009aff 212px,#00a5ff 221px,#00ceff 247px,#00e0fc 272px,#13fee3 285px,#54ffa3 326px,#a9ff4e 354px,#ccff2a 370px,#dbff1c 394px)"></i><i style="background:linear-gradient(90deg,#ff8400 65px,#ffb300 79px,#faf200 88px,#e3ff14 91px,#72ff85 107px,#13fde4 124px,#00ddfd 128px,#009eff 135px,#008dff 141px,#008eff 143px,#009fff 145px,#008aff 168px,#009dff 215px,#00b1ff 226px,#00cfff 253px,#00e3f9 273px,#16ffe1 287px,#59ff9e 327px,#cbff2c 366px,#e0ff16 393px)"></i><i style="background:linear-gradient(90deg,#ff8100 66px,#ffa900 78px,#feee00 88px,#eefe08 90px,#73ff84 107px,#17ffe0 123px,#00dbfe 127px,#0095ff 134px,#0080ff 140px,#0085ff 145px,#009dff 147px,#008bff 167px,#009dff 214px,#00aeff 223px,#00cfff 254px,#00e3f9 273px,#18ffdf 289px,#5cff9b 327px,#cfff28 366px,#e5ff11 392px)"></i><i style="background:linear-gradient(90deg,#ff7b00 66px,#ff9e00 77px,#ffe900 88px,#eaff0c 91px,#68ff8f 109px,#14fee3 123px,#00defd 126px,#0096ff 132px,#0077ff 138px,#0078ff 144px,#007dff 146px,#009bff 148px,#008bff 166px,#009dff 212px,#00abff 219px,#00d0ff 258px,#00e3f9 273px,#18ffdf 289px,#5cff9b 326px,#d4ff23 367px,#ebff0c 391px)"></i><i style="background:linear-gradient(90deg,#ff7800 67px,#ff9400 76px,#ffe500 88px,#eeff09 91px,#62ff95 110px,#12fce5 123px,#00e6f7 125px,#00ccff 127px,#0092ff 131px,#006fff 138px,#006fff 144px,#0079ff 148px,#0098ff 150px,#008cff 165px,#00a0ff 210px,#00d0ff 259px,#00e4f8 274px,#19ffde 290px,#5cff9b 325px,#d9ff1e 368px,#f0fd07 390px)"></i><i style="background:linear-gradient(90deg,#ff7300 67px,#ff9600 77px,#ffe100 88px,#f2fb05 91px,#61ff96 110px,#11fbe5 123px,#00e5f7 125px,#00caff 127px,#008bff 132px,#006aff 138px,#006bff 145px,#0075ff 150px,#0096ff 152px,#008dff 172px,#009fff 208px,#00e2fa 273px,#19ffde 290px,#59ff9d 323px,#e0ff16 370px,#f6f701 390px)"></i><i style="background:linear-gradient(90deg,#ff7200 68px,#ff9f00 79px,#fdee00 90px,#edff09 92px,#5aff9d 111px,#12fbe5 123px,#00e6f6 125px,#00cbff 127px,#0084ff 133px,#0066ff 139px,#006dff 151px,#0095ff 153px,#008fff 177px,#00a1ff 206px,#00dffc 272px,#19ffde 290px,#56ffa0 321px,#e8ff0e 372px,#faf200 386px,#fbf100 389px)"></i><i style="background:linear-gradient(90deg,#ff7200 69px,#ffa800 81px,#ffeb00 90px,#e8ff0f 93px,#59ff9e 111px,#10fae6 123px,#00e5f7 125px,#00cdff 127px,#007dff 134px,#0065ff 140px,#0067ff 153px,#0094ff 155px,#0092ff 184px,#00a5ff 209px,#00defd 272px,#19ffde 290px,#56ffa1 320px,#f1fc06 374px,#ffea00 388px)"></i><i style="background:linear-gradient(90deg,#ff6f00 69px,#ffad00 82px,#faf200 91px,#e2ff15 94px,#58ff9f 111px,#16ffe1 122px,#00e5f7 125px,#00ceff 127px,#007fff 134px,#0063ff 142px,#0063ff 155px,#0093ff 157px,#0096ff 190px,#00ddfe 272px,#12fce5 286px,#4fffa7 317px,#f1fc06 372px,#ffe600 382px,#ffe300 387px)"></i><i style="background:linear-gradient(90deg,#ff6f00 70px,#ffb200 83px,#fbf100 91px,#e3ff14 94px,#58ff9e 111px,#16ffe1 122px,#00e5f7 125px,#00d1ff 127px,#0081ff 135px,#0064ff 143px,#005cff 154px,#0061ff 156px,#0094ff 158px,#0098ff 193px,#00b5ff 227px,#00dcff 272px,#0ff8e8 284px,#23ffd4 296px,#5dff9a 321px,#f3fa04 371px,#ffe300 379px,#ffdc00 387px)"></i><i style="background:linear-gradient(90deg,#ff6d00 70px,#ffb200 83px,#fbf000 91px,#e3ff13 94px,#52ffa4 112px,#16ffe1 122px,#00dffc 126px,#0089ff 135px,#0068ff 143px,#005dff 154px,#0069ff 158px,#0094ff 160px,#009aff 195px,#00b4ff 222px,#00dbff 272px,#0ff8e8 284px,#25ffd2 297px,#5cff9b 320px,#f1fc05 369px,#ffe400 376px,#ffd400 385px,#ffd500 386px)"></i><i style="background:linear-gradient(90deg,#ff6a00 70px,#ffba00 84px,#fbf100 91px,#e3ff14 94px,#52ffa4 112px,#11fbe5 123px,#00daff 127px,#008bff 136px,#006cff 144px,#0062ff 154px,#0077ff 160px,#0094ff 162px,#009dff 197px,#00b6ff 222px,#00d7ff 271px,#0af2ed 281px,#1bffdc 291px,#55ffa2 317px,#f2fb04 368px,#ffe400 374px,#ffcc00 383px,#ffcd00 385px)"></i><i style="background:linear-gradient(90deg,#ff6700 70px,#ffbb00 84px,#f9f300 91px,#e2ff15 94px,#52ffa4 112px,#13fde4 123px,#00defc 127px,#0094ff 136px,#0076ff 144px,#006fff 155px,#0083ff 161px,#0095ff 163px,#009eff 197px,#00b8ff 223px,#00d7ff 271px,#0af2ed 281px,#1bffdc 291px,#56ffa0 317px,#f1fc06 366px,#ffe100 373px,#ffc500 383px,#ffc700 385px)"></i><i style="background:linear-gradient(90deg,#ff6400 70px,#ffbc00 84px,#ffec00 90px,#e8ff0f 93px,#4bffab 113px,#13fee3 123px,#00e1fb 127px,#0097ff 137px,#0080ff 146px,#007fff 156px,#0095ff 165px,#00a1ff 198px,#00b9ff 223px,#00d9ff 271px,#08f0ef 280px,#1affdd 290px,#55ffa2 316px,#f0fd07 364px,#ffe300 371px,#ffc200 382px,#ffc200 384px)"></i><i style="background:linear-gradient(90deg,#ff6100 70px,#ffb600 83px,#fdef00 90px,#edff0a 92px,#4bffac 113px,#14fee3 123px,#00dcfe 128px,#00a0ff 137px,#008fff 147px,#0095ff 159px,#00a1ff 165px,#0095ff 168px,#009cff 184px,#00a9ff 202px,#00c7ff 244px,#00d8ff 269px,#07efef 279px,#19ffde 289px,#51ffa6 314px,#f1fc05 363px,#ffe400 369px,#ffc100 381px,#ffc000 384px)"></i><i style="background:linear-gradient(90deg,#ff5e00 70px,#ffaf00 82px,#faf200 90px,#e2ff14 93px,#49ffad 113px,#14ffe2 123px,#00dffc 128px,#00a5ff 138px,#00a3ff 157px,#00a9ff 166px,#0096ff 168px,#0097ff 180px,#00a3ff 183px,#00a4ff 197px,#00b7ff 214px,#00caff 252px,#00dffc 271px,#19ffde 288px,#4fffa7 313px,#f3fa04 362px,#ffe500 367px,#ffbf00 380px,#ffbd00 383px)"></i><i style="background:linear-gradient(90deg,#ff5a00 70px,#ffa800 81px,#feee00 89px,#eeff08 91px,#4effa9 112px,#11fbe6 124px,#00defd 129px,#00afff 138px,#00b1ff 168px,#0097ff 170px,#0098ff 177px,#00a2ff 178px,#00a8ff 182px,#00a4ff 195px,#00b8ff 211px,#00beff 225px,#00cdff 243px,#00d0ff 261px,#01e6f6 273px,#18ffde 287px,#4effa9 312px,#ebff0c 359px,#feec00 364px,#ffbf00 377px,#ffbb00 382px)"></i><i style="background:linear-gradient(90deg,#ff5600 70px,#ff9700 79px,#faf200 89px,#e3ff14 92px,#4cffab 112px,#13fde4 124px,#00dffc 130px,#00bdff 138px,#00c3ff 160px,#00b8ff 170px,#0098ff 172px,#0098ff 175px,#00b1ff 177px,#00a5ff 193px,#00bdff 208px,#00b7ff 221px,#00d2ff 238px,#00cdff 259px,#01e6f6 271px,#19ffde 286px,#4affad 310px,#eaff0d 358px,#ffec00 363px,#ffbe00 375px,#ffb800 382px)"></i><i style="background:linear-gradient(90deg,#ff5100 70px,#ff8d00 78px,#fdee00 88px,#eeff09 90px,#4fffa7 111px,#12fbe5 125px,#00ddfd 132px,#00c9ff 140px,#00d4ff 159px,#00beff 171px,#00acff 172px,#00aaff 173px,#00b8ff 174px,#00a9ff 192px,#00c3ff 207px,#00b4ff 220px,#00d8ff 236px,#00ccff 258px,#00e3f9 268px,#17ffe0 283px,#45ffb1 308px,#e8ff0f 357px,#feee00 362px,#ffbc00 374px,#ffb600 382px)"></i><i style="background:linear-gradient(90deg,#ff4d00 70px,#ff8000 77px,#ffeb00 87px,#f0fd07 89px,#52ffa5 110px,#11fbe6 126px,#00defd 135px,#00d9ff 145px,#01e4f8 159px,#00c6ff 170px,#95ff62 172px,#95ff62 173px,#00bdff 175px,#00b3ff 192px,#00ccff 206px,#00b2ff 219px,#00c5ff 226px,#00dffc 236px,#00d3ff 248px,#00caff 257px,#00e4f8 267px,#17ffe0 280px,#3fffb8 305px,#e5ff12 356px,#f7f600 360px,#ffe100 364px,#ffb500 375px,#ffb300 381px)"></i><i style="background:linear-gradient(90deg,#ff4a00 70px,#ff7300 76px,#ffe900 86px,#e9ff0d 89px,#53ffa4 109px,#1affdd 124px,#00e3f9 138px,#0af2ed 159px,#00d7ff 166px,#00d2ff 168px,#94ff62 170px,#95ff62 175px,#00c2ff 176px,#00c0ff 192px,#00d7ff 205px,#00b5ff 219px,#00bfff 224px,#00e3f9 233px,#00e5f7 242px,#00c9ff 256px,#00e0fb 265px,#16ffe1 276px,#3effb9 304px,#e6ff11 356px,#f3fa04 359px,#ffdf00 364px,#ffb200 375px,#ffb200 381px)"></i><i style="background:linear-gradient(90deg,#ff4700 70px,#ff7600 76px,#fbf100 86px,#eaff0d 88px,#4fffa8 109px,#19ffdd 125px,#05ecf2 140px,#11fae6 158px,#00dffc 166px,#94ff63 168px,#95ff62 176px,#00c8ff 178px,#00ceff 192px,#01e5f7 204px,#00c9ff 213px,#00bcff 219px,#00cfff 225px,#08efef 234px,#04eaf3 243px,#00ceff 252px,#00cdff 258px,#01e7f6 265px,#16ffe1 273px,#3dffba 303px,#daff1c 353px,#f3fa04 359px,#ffdf00 364px,#ffae00 375px,#ffb000 380px)"></i><i style="background:linear-gradient(90deg,#ff4600 70px,#ff7900 76px,#fbf100 85px,#eaff0d 87px,#50ffa7 108px,#22ffd5 122px,#0bf4eb 138px,#15fee2 157px,#04ebf2 164px,#94ff63 166px,#96ff61 178px,#00cfff 180px,#00defc 193px,#0cf4eb 203px,#00e2f9 210px,#00c8ff 218px,#00dcfd 225px,#11fbe6 234px,#0bf3ec 243px,#00d6ff 251px,#00d0ff 257px,#01e6f7 263px,#18ffde 271px,#3fffb8 303px,#d3ff23 351px,#f3fa04 359px,#ffdf00 364px,#ffae00 375px,#ffb100 380px)"></i><i style="background:linear-gradient(90deg,#ff4400 70px,#ff7c00 76px,#fdee00 84px,#ebff0c 86px,#51ffa5 107px,#2affcd 119px,#11fae6 135px,#1affdd 155px,#0ff9e7 161px,#93ff64 163px,#96ff61 179px,#00d7ff 181px,#02e8f5 192px,#16fee0 200px,#11fae6 208px,#00dcfd 215px,#00ddfd 221px,#17ffdf 231px,#16ffe1 241px,#00dcfe 252px,#00dcfe 258px,#0ff8e8 265px,#24ffd3 274px,#3dffba 301px,#91ff66 330px,#f3fa04 359px,#ffe000 364px,#ffb400 375px,#ffb400 380px)"></i><i style="background:linear-gradient(90deg,#ff4300 70px,#ff7e00 76px,#faf100 84px,#effe07 85px,#95ff62 96px,#45ffb2 109px,#17ffdf 129px,#1bffdc 145px,#1fffd8 153px,#16ffe1 159px,#93ff64 161px,#97ff60 181px,#00e0fb 183px,#0ef7e9 193px,#21ffd6 200px,#19ffde 209px,#04eaf3 218px,#1effd9 229px,#21ffd5 239px,#0ef7e8 247px,#00e3f9 255px,#10fae6 263px,#2cffca 276px,#3dffba 300px,#88ff6f 327px,#f3fa04 359px,#ffe200 364px,#ffba00 375px,#ffb700 379px)"></i><i style="background:linear-gradient(90deg,#ff4100 70px,#ff7f00 76px,#ffe600 83px,#f8f500 84px,#ecff0b 85px,#a3ff54 93px,#46ffb1 108px,#1effd9 125px,#19ffdd 140px,#21ffd6 153px,#1bffdc 157px,#93ff64 159px,#99ff5e 183px,#03eaf3 184px,#1fffd8 196px,#29ffce 205px,#14fce3 219px,#2dffc9 234px,#17ffe0 247px,#0af1ed 256px,#20ffd7 265px,#34ffc3 278px,#3fffb8 300px,#8cff6b 328px,#f3fa04 359px,#ffe300 364px,#ffbf00 375px,#ffbc00 379px)"></i><i style="background:linear-gradient(90deg,#ff3d00 70px,#ff7d00 76px,#ffe900 83px,#f5f802 84px,#d1ff26 87px,#86ff70 96px,#3effb8 109px,#19ffde 129px,#20ffd7 154px,#1effd8 155px,#93ff64 157px,#9aff5c 184px,#0cf5ea 186px,#20ffd6 195px,#2effc9 206px,#23ffd4 220px,#36ffc1 234px,#15fee2 256px,#39ffbe 275px,#40ffb7 299px,#8aff6d 327px,#f3fa04 359px,#ffe500 364px,#ffc300 376px,#ffc100 378px)"></i><i style="background:linear-gradient(90deg,#ff3900 70px,#ff7700 76px,#ffeb00 83px,#f2fb05 84px,#a6ff51 91px,#4cffab 105px,#2cffcb 115px,#19ffdd 132px,#21ffd6 153px,#93ff64 155px,#9dff5a 186px,#14fee3 187px,#32ffc4 205px,#31ffc6 222px,#3bffbb 235px,#20ffd7 256px,#40ffb7 276px,#43ffb4 299px,#8eff69 328px,#f0fe07 358px,#ffe600 364px,#ffc500 378px)"></i><i style="background:linear-gradient(90deg,#ff3300 70px,#ff5f00 75px,#ffc600 81px,#ffec00 83px,#f0fd06 84px,#a4ff53 91px,#4cffaa 104px,#2affcc 113px,#1affdd 131px,#22ffd5 151px,#93ff64 153px,#a0ff57 187px,#1cffdb 189px,#37ffc0 207px,#3effb8 238px,#2affcd 256px,#45ffb1 276px,#44ffb2 298px,#85ff72 324px,#d5ff22 349px,#f2fc05 358px,#ffe600 364px,#ffc800 378px)"></i><i style="background:linear-gradient(90deg,#ff3100 71px,#ff5300 75px,#ff9600 79px,#ffe900 83px,#f2fc05 84px,#9cff5b 92px,#3dffba 106px,#25ffd2 114px,#1cffdb 134px,#23ffd4 149px,#94ff63 151px,#a3ff54 189px,#23ffd3 191px,#3dffba 213px,#41ffb5 239px,#33ffc3 257px,#4bffac 277px,#4bffac 299px,#82ff74 322px,#d7ff1f 348px,#f1fc06 357px,#ffe700 363px,#ffcc00 377px)"></i><i style="background:linear-gradient(90deg,#ff2700 71px,#ff4300 75px,#ff7400 78px,#faf200 84px,#ebff0b 85px,#97ff5f 93px,#33ffc4 107px,#20ffd6 115px,#20ffd7 138px,#23ffd4 147px,#94ff63 149px,#a7ff50 190px,#28ffce 192px,#44ffb3 219px,#42ffb5 242px,#3cffbb 260px,#50ffa7 280px,#51ffa6 299px,#7dff7a 319px,#dcff1b 347px,#f3fa04 356px,#ffe400 363px,#ffcd00 377px)"></i><i style="background:linear-gradient(90deg,#ff1f00 71px,#ff3500 75px,#ff6700 78px,#ffe800 84px,#f4f903 85px,#baff3d 90px,#36ffc1 106px,#1effd8 113px,#22ffd4 141px,#23ffd4 144px,#94ff63 146px,#a9ff4d 192px,#2effc9 194px,#47ffb0 219px,#44ffb2 264px,#55ffa2 282px,#59ff9d 301px,#7fff78 318px,#e6ff10 348px,#f8f401 355px,#ffdc00 365px,#ffce00 377px)"></i><i style="background:linear-gradient(90deg,#ff1b00 71px,#ff2d00 75px,#ff7800 79px,#ffe000 84px,#eefe08 86px,#5fff98 101px,#2bffcc 108px,#1dffda 115px,#21ffd5 142px,#95ff62 144px,#adff49 191px,#abff4c 194px,#32ffc5 195px,#49ffae 217px,#4affad 266px,#5aff9c 283px,#60ff97 301px,#7dff7a 316px,#f2fa04 349px,#ffe100 358px,#ffcd00 376px)"></i><i style="background:linear-gradient(90deg,#ff1d00 71px,#ff3500 75px,#ff7a00 79px,#ffea00 85px,#eaff0d 87px,#33ffc4 107px,#1effd8 113px,#1fffd8 140px,#95ff61 142px,#b2ff45 189px,#adff4a 195px,#36ffc1 197px,#48ffaf 223px,#4cffab 266px,#60ff97 282px,#66ff91 301px,#7cff7b 314px,#f1fd06 345px,#ffe200 353px,#ffcf00 366px,#ffcb00 376px)"></i><i style="background:linear-gradient(90deg,#ff2100 71px,#ff4100 75px,#ffa500 81px,#f9f200 86px,#f0fe07 87px,#39ffbe 107px,#22ffd5 113px,#1dffd9 138px,#96ff60 140px,#b6ff40 188px,#adff4a 197px,#39ffbe 199px,#4dffaa 246px,#4fffa8 266px,#66ff91 282px,#6dff8a 301px,#85ff72 314px,#caff2d 333px,#f2fb05 343px,#ffe300 349px,#ffc800 361px,#ffc900 376px)"></i><i style="background:linear-gradient(90deg,#ff2400 71px,#ff5700 76px,#ffe500 85px,#ebff0c 88px,#82ff74 100px,#3bffbc 108px,#25ffd2 115px,#1dffda 136px,#97ff5f 138px,#bbff3c 185px,#adff4a 199px,#3bffbc 200px,#3fffb8 217px,#4fffa8 242px,#54ffa2 267px,#6bff8c 282px,#73ff83 301px,#b2ff45 326px,#f2fb04 341px,#ffe000 347px,#ffc200 357px,#ffc500 376px)"></i><i style="background:linear-gradient(90deg,#ff2600 71px,#ff5b00 76px,#ffe300 85px,#ecff0b 88px,#95ff62 99px,#43ffb4 108px,#2bffcc 115px,#1effd8 134px,#99ff5e 136px,#beff39 184px,#adff4a 200px,#3dffba 202px,#40ffb7 218px,#52ffa4 247px,#5aff9d 268px,#6eff89 283px,#7cff7b 302px,#bcff3b 327px,#f1fd06 339px,#ffe100 345px,#ffbc00 354px,#ffbd00 371px,#ffc100 375px)"></i><i style="background:linear-gradient(90deg,#ff2600 71px,#ff6a00 77px,#ffe300 85px,#ecff0b 88px,#9aff5d 99px,#4bffac 108px,#31ffc6 115px,#22ffd5 132px,#9bff5c 134px,#c1ff36 183px,#adff4a 202px,#3fffb8 204px,#46ffb1 221px,#61ff96 270px,#73ff84 288px,#8bff6c 306px,#c5ff32 328px,#f1fc06 338px,#ffe400 343px,#ffb500 354px,#ffb700 370px,#ffbe00 375px)"></i><i style="background:linear-gradient(90deg,#ff2600 71px,#ff5a00 76px,#ffd900 84px,#f2fb05 87px,#89ff6e 101px,#4affac 109px,#32ffc5 117px,#25ffd2 130px,#9dff5a 132px,#bbff3c 163px,#c1ff35 187px,#adff49 204px,#41ffb6 205px,#4effa9 228px,#64ff92 270px,#8cff6a 304px,#ceff29 329px,#f0fe07 337px,#ffe400 342px,#ffb100 354px,#ffb100 368px,#ffbc00 375px)"></i><i style="background:linear-gradient(90deg,#ff2500 71px,#ff5c00 76px,#ffdf00 84px,#f6f701 86px,#e5ff12 88px,#6fff88 104px,#3fffb7 112px,#29ffce 128px,#9fff57 130px,#bdff3a 160px,#c7ff2f 173px,#bcff3a 192px,#afff47 205px,#43ffb3 207px,#69ff8e 271px,#92ff65 304px,#d6ff21 330px,#f3fa04 337px,#ffe100 342px,#ffaf00 354px,#ffae00 367px,#ffba00 375px)"></i><i style="background:linear-gradient(90deg,#ff2200 71px,#ff5900 76px,#ffd800 83px,#f9f300 85px,#e6ff11 87px,#4cffab 109px,#34ffc3 117px,#2dffca 126px,#a2ff55 128px,#b8ff3f 149px,#cbff2c 163px,#cbff2c 181px,#b2ff44 205px,#b3ff44 207px,#46ffb0 209px,#6fff88 273px,#97ff60 304px,#ddff1a 331px,#f1fc06 336px,#ffe400 341px,#ffaf00 354px,#ffac00 366px,#ffb700 374px)"></i><i style="background:linear-gradient(90deg,#ff1d00 71px,#ff4f00 76px,#ff9d00 80px,#ffdc00 83px,#ffeb00 84px,#e9ff0e 86px,#58ff9f 106px,#36ffc1 114px,#2fffc8 124px,#a5ff52 126px,#baff3d 146px,#d4ff23 162px,#d7ff20 171px,#b6ff41 205px,#b6ff40 209px,#4affad 211px,#73ff84 274px,#9cff5b 304px,#e4ff13 332px,#f3fa04 336px,#ffe200 341px,#ffaf00 354px,#ffab00 366px,#ffb700 374px)"></i><i style="background:linear-gradient(90deg,#ff1500 71px,#ff3100 75px,#ff6200 78px,#ffe900 84px,#f3fa04 85px,#b8ff3f 91px,#41ffb6 109px,#2effc8 117px,#2fffc8 122px,#a8ff4f 124px,#c1ff36 145px,#e5ff11 166px,#bbff3c 202px,#bbff3c 210px,#4dffa9 212px,#76ff81 274px,#a1ff56 304px,#eaff0d 333px,#ffea00 339px,#ffb100 354px,#ffac00 366px,#ffb600 374px)"></i><i style="background:linear-gradient(90deg,#f90e00 71px,#ff2100 75px,#ff3b00 77px,#ffe400 84px,#f6f701 85px,#daff1d 87px,#91ff66 95px,#3dffba 108px,#2bffcc 116px,#2dffca 120px,#adff4a 122px,#b9ff3e 133px,#cbff2c 145px,#e9ff0e 158px,#f1fc06 168px,#c2ff34 197px,#bfff38 212px,#52ffa5 214px,#7aff7d 275px,#a5ff51 304px,#f3fa04 335px,#ffe100 341px,#ffb100 355px,#ffaf00 368px,#ffb600 374px)"></i><i style="background:linear-gradient(90deg,#f60c00 72px,#ff1a00 75px,#ff4900 78px,#ffe000 84px,#f8f500 85px,#e7ff0f 86px,#a1ff56 92px,#4affad 104px,#2affcd 112px,#2affcd 118px,#b4ff42 120px,#b4ff43 127px,#c9ff2d 138px,#d2ff25 144px,#f2fa04 154px,#fdec00 167px,#e7ff10 178px,#c9ff2d 194px,#c3ff33 214px,#56ffa1 216px,#7cff7b 274px,#aaff4d 304px,#f1fc05 334px,#ffe500 340px,#ffb400 355px,#ffb000 368px,#ffb600 374px)"></i><i style="background:linear-gradient(90deg,#f70c00 72px,#ff1e00 75px,#ff4c00 78px,#ffdf00 84px,#f8f400 85px,#e7ff10 86px,#99ff5d 92px,#52ffa5 101px,#2bffcc 110px,#27ffd0 116px,#bcff3b 118px,#beff39 127px,#d8ff1f 136px,#dcff1b 143px,#f6f602 149px,#ffdf00 162px,#ffdf00 168px,#f2fb05 177px,#d0ff27 193px,#c7ff2f 216px,#5aff9d 217px,#7fff78 274px,#aeff49 304px,#f3fa04 334px,#ffe500 340px,#ffb500 356px,#ffb400 371px,#ffb700 374px)"></i><i style="background:linear-gradient(90deg,#fb1000 72px,#ff3200 76px,#ff6800 79px,#ffe000 84px,#f7f500 85px,#d5ff22 87px,#7dff7a 94px,#49ffae 101px,#28ffcf 111px,#27ffd0 113px,#75ff82 114px,#76ff81 115px,#c3ff34 116px,#cfff28 127px,#ebfe0c 137px,#f4f804 144px,#ffdc00 151px,#ffd100 167px,#f7f501 178px,#e3ff14 186px,#d8ff1f 198px,#cbff2b 217px,#5eff99 219px,#80ff77 272px,#adff4a 302px,#f1fc06 333px,#ffe500 340px,#ffb700 357px,#ffb700 374px)"></i><i style="background:linear-gradient(90deg,#ff1300 72px,#ff3800 76px,#ff6d00 79px,#ffe200 84px,#f4f903 85px,#98ff5f 91px,#59ff9d 97px,#37ffbf 104px,#2bffcc 111px,#c7ff2f 113px,#deff19 126px,#f8f402 133px,#ffdd00 145px,#ffc800 152px,#ffd000 169px,#f9f300 180px,#e8ff0f 187px,#d0ff27 219px,#63ff94 221px,#82ff75 271px,#aeff48 301px,#f2fb04 333px,#ffe200 341px,#ffb900 358px,#ffb700 374px)"></i><i style="background:linear-gradient(90deg,#ff1400 72px,#ff4600 77px,#ffb400 82px,#ffe500 84px,#f1fc06 85px,#91ff66 91px,#52ffa5 97px,#39ffbe 103px,#32ffc5 109px,#cbff2c 111px,#e8ff0f 124px,#ffe400 131px,#ffd300 139px,#ffc200 147px,#ffb800 152px,#ffd400 173px,#f7f500 183px,#eaff0d 193px,#deff18 209px,#d4ff23 218px,#d6ff20 221px,#66ff90 222px,#83ff74 269px,#b0ff47 300px,#f3fa04 333px,#ffe300 341px,#ffba00 359px,#ffb700 374px)"></i><i style="background:linear-gradient(90deg,#ff1500 72px,#ff4500 77px,#ffe700 84px,#f0fe07 85px,#8bff6c 91px,#54ffa3 96px,#3bffbb 102px,#3affbd 107px,#cdff2a 109px,#dfff17 118px,#f3fa04 123px,#ffd800 129px,#ffbe00 135px,#ffb700 146px,#ffaa00 151px,#ffc300 165px,#ffdb00 177px,#f3fa03 189px,#ecff0b 206px,#d9ff1e 217px,#ddff1a 222px,#6bff8c 224px,#84ff73 267px,#b1ff46 299px,#f3fa04 333px,#ffe100 342px,#ffb900 361px,#ffb600 374px)"></i><i style="background:linear-gradient(90deg,#ff1500 72px,#ff3e00 76px,#ff7400 79px,#ffeb00 84px,#ecff0b 85px,#86ff71 91px,#52ffa5 96px,#40ffb7 102px,#41ffb6 105px,#d1ff26 107px,#d5ff22 113px,#f2fb04 120px,#ffde00 125px,#ffa800 134px,#ffaf00 146px,#ffac00 152px,#ffc900 171px,#ffd700 177px,#f9f300 188px,#f9f300 203px,#e3ff14 214px,#e4ff13 224px,#6fff88 226px,#85ff72 265px,#b4ff43 299px,#f3fa04 333px,#ffdf00 343px,#ffb600 363px,#ffb500 374px)"></i><i style="background:linear-gradient(90deg,#ff1600 72px,#ff4100 76px,#ff8f00 80px,#fbf100 84px,#e7ff10 85px,#84ff73 91px,#59ff9e 95px,#47ffb0 100px,#48ffaf 103px,#daff1d 105px,#cfff28 110px,#f4f903 118px,#ffdc00 123px,#ff9200 134px,#ffac00 144px,#ffb900 156px,#ffd300 176px,#fdef00 187px,#ffe800 202px,#ebff0c 215px,#ebff0c 226px,#73ff84 228px,#85ff71 262px,#b4ff42 298px,#f0fe07 331px,#ffe000 343px,#ffb300 364px,#ffb400 375px)"></i><i style="background:linear-gradient(90deg,#ff1f00 73px,#ff4f00 77px,#ff9000 80px,#ffe100 83px,#f4f903 84px,#a2ff55 89px,#64ff93 94px,#50ffa7 99px,#50ffa7 101px,#e9ff0e 103px,#ceff29 109px,#e6ff11 114px,#feec00 118px,#ff9100 134px,#ffb200 148px,#ffe100 179px,#feed00 189px,#ffdd00 200px,#f6f701 212px,#f2fb05 227px,#76ff80 229px,#87ff70 260px,#b7ff40 298px,#edff0a 329px,#ffea00 340px,#ffba00 358px,#ffac00 371px,#ffb100 375px)"></i><i style="background:linear-gradient(90deg,#ff1c00 73px,#ff4500 77px,#ff8a00 80px,#ffe200 83px,#f2fb05 84px,#73ff83 93px,#5cff9b 98px,#5aff9c 99px,#fbf000 101px,#e7ff10 105px,#d2ff25 110px,#f1fc06 114px,#ffe400 117px,#ff9a00 133px,#ffa600 140px,#ffd700 167px,#fdee00 188px,#ffd800 200px,#f8f500 217px,#f8f400 229px,#7aff7c 231px,#88ff6f 258px,#baff3d 298px,#ecff0b 328px,#faf200 338px,#ffba00 356px,#ffa400 369px,#ffad00 375px)"></i><i style="background:linear-gradient(90deg,#ff1800 73px,#ff3c00 77px,#ff7f00 80px,#fee900 84px,#effd08 85px,#8bff6c 92px,#6eff89 96px,#6bff8c 97px,#ffda00 99px,#f8f401 104px,#e6ff11 109px,#f8f401 113px,#ffc800 119px,#ffa200 134px,#ffd500 158px,#faf200 187px,#ffdb00 201px,#fdef00 218px,#feee00 231px,#7fff78 233px,#90ff66 263px,#c2ff35 301px,#ecff0a 328px,#fbf100 338px,#ffb600 356px,#ff9b00 369px,#ffa900 375px)"></i><i style="background:linear-gradient(90deg,#ff1400 73px,#ff2700 76px,#ff5a00 79px,#fcef00 85px,#ebff0c 86px,#a3ff53 91px,#82ff75 95px,#ffc500 97px,#faf201 108px,#ffe700 112px,#ffbc00 118px,#ffaf00 135px,#ffdc00 154px,#f5f802 184px,#ffe800 195px,#ffe100 203px,#ffea00 219px,#ffe800 232px,#83ff74 234px,#99ff5e 268px,#caff2d 304px,#edff09 329px,#ffe900 340px,#ffb300 355px,#ff9100 369px,#ffa400 375px)"></i><i style="background:linear-gradient(90deg,#fd1200 73px,#ff2000 76px,#ff4f00 79px,#ffe300 85px,#f5f802 86px,#c7ff30 89px,#9dff5a 93px,#c9d532 94px,#ffb100 95px,#ffde00 108px,#ffd000 113px,#ffac00 118px,#ffc300 137px,#ffe600 151px,#f0fd07 175px,#f6f701 192px,#ffe600 202px,#ffe700 219px,#ffe200 234px,#87ff70 236px,#a4ff53 275px,#d9ff1e 311px,#f4f903 334px,#ffdd00 343px,#ff8c00 366px,#ff8f00 371px,#ffa500 376px)"></i><i style="background:linear-gradient(90deg,#ff1400 73px,#ff2800 77px,#ff6000 80px,#fcf000 86px,#ebff0c 87px,#b9ff3d 91px,#d7cd24 92px,#ffa000 93px,#ffcf00 109px,#ffbc00 115px,#ffb000 119px,#ffd700 138px,#fbf100 148px,#e7ff10 170px,#effe08 192px,#feec00 203px,#ffe800 218px,#ffdd00 227px,#ffdd00 236px,#8cff6b 238px,#afff48 282px,#edff0a 327px,#ffea00 339px,#ff8400 367px,#ff9300 373px,#ffa300 376px)"></i><i style="background:linear-gradient(90deg,#ff1f00 74px,#ff2d00 77px,#ff4a00 79px,#ffec00 86px,#efff08 87px,#d4ff23 89px,#e4c617 90px,#ff9200 91px,#ffc500 110px,#ffbb00 120px,#ffe900 138px,#f0fc07 144px,#dcff1a 172px,#eefe09 194px,#f8f400 208px,#ffe300 221px,#ffd900 237px,#ffd900 238px,#90ff67 239px,#b7ff40 286px,#efff08 327px,#ffe600 340px,#ff8200 367px,#ff9200 373px,#ffa300 376px)"></i><i style="background:linear-gradient(90deg,#ff2d00 74px,#ff4600 78px,#ffea00 86px,#f0fd07 87px,#f0c00b 88px,#ff8500 89px,#ffac00 104px,#ffc200 112px,#ffcc00 123px,#fbf100 136px,#e4ff13 142px,#d1ff26 170px,#f1fc06 206px,#ffeb00 219px,#ffd400 232px,#ffd500 239px,#95ff61 241px,#c2ff34 293px,#f0fd07 326px,#ffe900 339px,#ff8400 366px,#ff8f00 372px,#ffa600 376px)"></i><i style="background:linear-gradient(90deg,#ff3d00 74px,#ff6800 79px,#ffd200 85px,#ffaf00 86px,#ff7a00 87px,#ff9d00 103px,#ffc300 112px,#f9f300 132px,#e0ff17 140px,#c4ff33 166px,#e9ff0d 205px,#f4f802 216px,#ffe000 224px,#ffd000 236px,#ffd100 241px,#9bff5c 243px,#ccff2b 298px,#f4f903 328px,#ffe400 340px,#ff8800 366px,#ff9500 372px,#ffaa00 376px)"></i><i style="background:linear-gradient(90deg,#ff4a00 74px,#ff7d00 80px,#ffa800 83px,#ff9400 84px,#ff7000 85px,#ff9100 102px,#ffc500 111px,#f9f301 127px,#e1ff16 136px,#c7ff30 149px,#bcff3a 169px,#e2ff14 203px,#effe07 216px,#ffe300 224px,#ffcd00 235px,#ffcf00 243px,#a1ff56 245px,#d4ff23 301px,#f4f903 324px,#ffe200 340px,#ff9000 365px,#ff9d00 372px,#ffb500 377px)"></i><i style="background:linear-gradient(90deg,#ff5400 74px,#ff6c00 77px,#ff7c00 80px,#ff8700 81px,#ff7d00 82px,#ff6700 83px,#ff9600 102px,#ffd300 113px,#f7f501 123px,#e2ff15 131px,#bdff3a 149px,#b5ff42 169px,#dcff1b 203px,#e8ff0f 215px,#fbf100 221px,#ffcc00 233px,#ffcc00 244px,#a6ff51 246px,#d8ff1e 302px,#f4f903 321px,#ffd900 342px,#ff9700 365px,#ffa900 373px,#ffba00 377px)"></i><i style="background:linear-gradient(90deg,#ff5f00 75px,#ff6700 77px,#ff6900 80px,#ff5f00 81px,#ff7f00 93px,#ffac00 104px,#ffea00 116px,#e8ff0f 124px,#b4ff42 148px,#afff48 169px,#d6ff21 203px,#e4ff13 215px,#f4f903 220px,#ffe300 225px,#ffc900 235px,#ffca00 246px,#adff4a 248px,#ddff1a 303px,#f5f802 319px,#ffe100 336px,#ffb400 354px,#ff9d00 365px,#ffbe00 377px)"></i><i style="background:linear-gradient(90deg,#ff5700 75px,#ff6400 86px,#ffbc00 105px,#faf200 115px,#e5ff12 121px,#b3ff44 143px,#a7ff50 165px,#d1ff26 204px,#e3ff14 216px,#f6f701 221px,#ffe000 226px,#ffc700 236px,#ffc800 248px,#b3ff44 250px,#dfff18 302px,#f5f701 317px,#ffdf00 332px,#ffbf00 350px,#ff9f00 363px,#ffb000 372px,#ffc100 377px)"></i><i style="background:linear-gradient(90deg,#ff5300 75px,#ff5f00 85px,#ffe100 109px,#eefe09 115px,#b6ff41 135px,#a0ff56 158px,#b5ff41 181px,#daff1c 214px,#f4f903 221px,#ffe100 226px,#ffc700 236px,#ffc600 250px,#baff3d 251px,#e0ff17 300px,#f7f601 315px,#ffd700 332px,#ffbd00 350px,#ff9c00 363px,#ffb100 373px,#ffc100 377px)"></i><i style="background:linear-gradient(90deg,#ff5b00 75px,#ff5600 82px,#ff6900 87px,#fcef00 109px,#e6ff11 114px,#aeff49 134px,#9bff5c 160px,#d6ff21 213px,#f3fa04 221px,#ffe300 226px,#ffc700 237px,#ffc200 251px,#c1ff36 253px,#e1ff16 298px,#f6f601 311px,#ffd600 328px,#ffb600 351px,#ff9500 362px,#ffa600 371px,#ffc500 378px)"></i><i style="background:linear-gradient(90deg,#ff5d00 75px,#ff5400 80px,#ff6800 86px,#fbf000 107px,#e7ff10 111px,#b8ff3f 125px,#9eff59 141px,#99ff5e 164px,#d4ff23 213px,#f1fc05 221px,#ffe500 226px,#ffc800 238px,#ffbe00 253px,#c9ff2e 255px,#d7ff20 279px,#ebff0c 301px,#feed00 313px,#ffda00 324px,#ffbf00 337px,#ffb300 350px,#ff8a00 361px,#ff9700 369px,#ffc300 378px)"></i><i style="background:linear-gradient(90deg,#ff6200 75px,#ff5400 79px,#ff8300 88px,#faf200 105px,#e5ff12 109px,#b6ff41 121px,#98ff5f 141px,#95ff61 164px,#d0ff27 212px,#f0fd07 221px,#ffe400 227px,#ffc700 242px,#ffb900 255px,#d1ff26 257px,#d8ff1f 276px,#e6ff10 293px,#f5f702 303px,#ffe400 316px,#ffd800 323px,#ffb600 335px,#ffae00 349px,#ff7c00 361px,#ff8b00 368px,#ffc800 379px)"></i><i style="background:linear-gradient(90deg,#ff6c00 75px,#ff6500 80px,#ffa100 90px,#fcee00 102px,#e8ff0e 106px,#afff48 119px,#91ff65 143px,#95ff62 167px,#cbff2b 211px,#f3fa04 222px,#ffe500 228px,#ffb300 256px,#d9ff1e 258px,#d9ff1e 270px,#effd07 292px,#eefe09 297px,#ffe800 306px,#ffdb00 318px,#ffd400 322px,#ffac00 334px,#ffa600 349px,#ff6d00 361px,#ff8400 368px,#ffb800 377px,#ffc800 379px)"></i><i style="background:linear-gradient(90deg,#ff7900 76px,#ff7d00 81px,#faf200 100px,#e6ff11 104px,#a3ff54 119px,#8bff6c 148px,#98ff5f 173px,#caff2d 211px,#f1fd06 222px,#ffe500 230px,#ffad00 258px,#e2ff14 260px,#e9ff0d 278px,#faf100 293px,#feec00 300px,#ffcd00 318px,#ffbb00 325px,#ff9d00 337px,#ff9e00 349px,#ff8200 355px,#ff6100 360px,#ff6b00 364px,#ffaf00 376px,#ffca00 379px)"></i><i style="background:linear-gradient(90deg,#ff8b00 76px,#ff9600 82px,#faf200 97px,#e2ff15 102px,#99ff5d 119px,#87ff70 152px,#a3ff54 185px,#c8ff2f 211px,#f1fc06 223px,#ffe400 234px,#ffa600 260px,#edff0a 262px,#f6f601 282px,#ffe100 294px,#ffd500 306px,#ffa800 327px,#ff8f00 338px,#ff9500 350px,#ff7700 356px,#ff5700 360px,#ff5a00 362px,#ff9000 369px,#ffaf00 376px,#ffd900 380px)"></i><i style="background:linear-gradient(90deg,#ff9e00 76px,#ffb000 83px,#faf201 94px,#e6ff11 98px,#93ff63 119px,#84ff73 151px,#a2ff55 187px,#c6ff31 211px,#f3fa04 226px,#ffd900 241px,#ffa300 259px,#ffa000 262px,#f6f601 263px,#fcef00 269px,#faf100 280px,#ffd100 294px,#ffcf00 304px,#ffab00 320px,#ff8200 338px,#ff8e00 351px,#ff7b00 356px,#ff5b00 360px,#ff6000 362px,#ff9a00 368px,#ffaf00 375px,#ffe400 380px)"></i><i style="background:linear-gradient(90deg,#ffb100 76px,#ffc100 82px,#f8f402 91px,#dfff18 96px,#8eff68 119px,#81ff76 149px,#9cff5a 185px,#c3ff34 211px,#ecff0b 225px,#f8f400 235px,#ffc700 247px,#ff9e00 260px,#ff9b00 263px,#ffe900 265px,#ffe700 270px,#ffe700 282px,#ffc400 293px,#ffc700 303px,#ff9e00 320px,#ff7900 339px,#ff8900 353px,#ff7a00 357px,#ff6e00 361px,#ff8b00 365px,#ffa700 368px,#ffbf00 375px,#f8f400 381px)"></i><i style="background:linear-gradient(90deg,#ffc500 76px,#ffdf00 83px,#edfd0a 89px,#b5ff42 103px,#85ff71 122px,#7fff78 154px,#b0ff47 203px,#e2ff15 226px,#f2fb05 236px,#ffe200 242px,#ffa200 257px,#ff9700 265px,#ffe000 267px,#ffe100 283px,#ffc100 294px,#ffb700 307px,#ff8f00 324px,#ff7200 339px,#ff8500 354px,#ff7e00 361px,#ffb900 371px,#ffe200 378px,#f5f702 381px)"></i><i style="background:linear-gradient(90deg,#ffda00 76px,#f9f302 82px,#dfff18 87px,#a7ff50 103px,#7fff78 124px,#7eff79 157px,#b3ff44 207px,#d6ff20 226px,#e9ff0e 236px,#fdee00 241px,#ffa200 257px,#ff9500 267px,#ffdb00 269px,#ffdb00 284px,#ffbd00 296px,#ffa600 311px,#ff6c00 338px,#ff8e00 362px,#fdef00 379px,#eeff09 382px)"></i><i style="background:linear-gradient(90deg,#fded00 76px,#e8ff0e 81px,#beff39 90px,#9aff5c 103px,#79ff7e 127px,#7fff78 162px,#b7ff40 211px,#cbff2c 227px,#dbff1c 235px,#f2fb05 240px,#ffe400 244px,#ffa000 258px,#ff9300 266px,#ff9400 268px,#ffd600 270px,#ffd700 285px,#ffb800 297px,#ff9300 316px,#ff6700 338px,#ff8700 358px,#ffb100 367px,#f9f300 379px,#e8ff0f 383px)"></i><i style="background:linear-gradient(90deg,#eefd08 76px,#c6ff31 83px,#aaff4d 89px,#79ff7e 121px,#77ff80 153px,#aeff49 208px,#c0ff37 226px,#c8ff2f 233px,#f0fd06 241px,#ffe400 245px,#ff9e00 259px,#ff9200 266px,#ff9600 270px,#ffd100 272px,#ffd500 281px,#ffd800 284px,#ffb300 298px,#ff6200 338px,#ff7200 350px,#ff9e00 363px,#fbf100 378px,#e9ff0d 382px,#e5ff11 383px)"></i><i style="background:linear-gradient(90deg,#e0ff17 76px,#c4ff33 81px,#99ff5d 86px,#70ff87 130px,#80ff77 168px,#b8ff3f 224px,#b8ff3f 232px,#f0fd07 242px,#ffe400 246px,#ff9e00 260px,#ff9200 265px,#ff9900 272px,#ffcb00 274px,#ffcd00 285px,#ff5c00 338px,#ff6a00 349px,#ff9f00 363px,#feed00 377px,#ecff0b 381px,#e0ff17 384px)"></i><i style="background:linear-gradient(90deg,#d3ff24 76px,#c1ff36 80px,#89ff6e 85px,#81ff76 101px,#6dff8a 134px,#84ff72 175px,#b1ff45 223px,#b3ff44 232px,#f0fd06 243px,#ffe300 247px,#ffa200 261px,#ff9a00 269px,#ff9b00 274px,#ffc400 275px,#ffc000 288px,#ff5600 339px,#ff6400 349px,#ff9f00 363px,#fdee00 377px,#eaff0d 381px,#daff1d 385px)"></i><i style="background:linear-gradient(90deg,#c4ff32 76px,#baff3d 80px,#84ff73 85px,#7bff7c 91px,#6bff8c 138px,#8cff6a 185px,#adff4a 224px,#b3ff44 232px,#f1fc06 244px,#ffe400 248px,#ffad00 260px,#ff9d00 273px,#ff9d00 275px,#ffbd00 277px,#ffb500 291px,#ff6a00 326px,#ff5000 341px,#ff6900 352px,#ffba00 368px,#fdef00 377px,#e9ff0e 381px,#d4ff23 386px)"></i><i style="background:linear-gradient(90deg,#b3ff44 76px,#a5ff52 80px,#79ff7e 86px,#67ff90 125px,#79ff7e 166px,#aaff4d 224px,#b7ff40 233px,#f2fb05 245px,#ffe400 249px,#ffb300 261px,#ff9e00 276px,#ff9e00 277px,#ffb700 279px,#ffac00 294px,#ff6200 328px,#ff4b00 342px,#ff6c00 354px,#fdee00 377px,#e9ff0e 381px,#d1ff26 386px)"></i><i style="background:linear-gradient(90deg,#9fff58 76px,#6cff8b 88px,#67ff90 142px,#b4ff43 232px,#f2fb05 246px,#ffe500 250px,#ffb800 262px,#ff9f00 278px,#ffb400 280px,#ffa100 299px,#ff4400 342px,#ff6c00 355px,#feee00 377px,#e9ff0e 381px,#caff2d 387px)"></i><i style="background:linear-gradient(90deg,#8cff6b 76px,#64ff92 87px,#66ff91 143px,#b2ff45 231px,#f3fa04 247px,#ffe200 252px,#ffaf00 268px,#ffa100 280px,#ffb000 282px,#ff9400 305px,#ff4100 342px,#ff6900 355px,#ffec00 377px,#e9ff0d 381px,#c9ff2e 387px)"></i><i style="background:linear-gradient(90deg,#7fff78 75px,#61ff96 82px,#5dff9a 110px,#6bff8c 155px,#b3ff44 231px,#f3fa04 248px,#ffe300 253px,#ffab00 272px,#ffa300 281px,#ffac00 284px,#ff8800 310px,#ff4200 341px,#ff5200 350px,#ff8d00 362px,#fbf100 378px,#ebff0c 381px,#c9ff2e 388px)"></i><i style="background:linear-gradient(90deg,#72ff85 75px,#52ffa4 80px,#68ff8f 152px,#b1ff45 230px,#f3f903 249px,#ffe400 254px,#ffa900 275px,#ff9f00 295px,#ff6800 323px,#ff4200 341px,#ff5000 350px,#ff9000 363px,#fcef00 378px,#e7ff10 382px,#c9ff2e 389px)"></i><i style="background:linear-gradient(90deg,#68ff8f 75px,#4effa9 81px,#67ff90 153px,#b2ff45 230px,#f0fd07 249px,#ffe500 255px,#ffac00 276px,#ff8d00 306px,#ff4100 341px,#ff4d00 350px,#ff8700 362px,#feed00 378px,#e9ff0e 382px,#cbff2c 389px)"></i><i style="background:linear-gradient(90deg,#62ff95 75px,#4bffac 82px,#65ff92 152px,#b1ff46 229px,#f1fd06 250px,#ffe600 256px,#ffb100 276px,#ffa700 287px,#ff7500 317px,#ff4100 341px,#ff4a00 350px,#ff7e00 361px,#fbf000 379px,#e7ff10 383px,#caff2d 390px)"></i><i style="background:linear-gradient(90deg,#5eff99 75px,#48ffaf 84px,#64ff92 153px,#b2ff45 229px,#f1fc05 251px,#ffe300 258px,#ffb400 277px,#ffad00 288px,#ff9d00 291px,#ff7b00 314px,#ff3e00 342px,#ff4900 351px,#ff8000 362px,#feee00 379px,#e9ff0e 383px,#c9ff2e 391px)"></i><i style="background:linear-gradient(90deg,#ff9400 298px,#ff6800 322px,#ff3a00 344px,#ff4600 352px,#ff8900 364px,#fbf100 380px,#e6ff10 384px,#caff2d 391px)"></i><i style="background:linear-gradient(90deg,#ff8b00 305px,#ff3400 346px,#ff4700 354px,#fdef00 380px,#e9ff0e 384px,#c8ff2f 392px)"></i><i style="background:linear-gradient(90deg,#ff7a00 313px,#ff4300 337px,#ff2d00 347px,#ff3e00 354px,#faf200 381px,#ebff0c 384px,#c8ff2e 392px)"></i><i style="background:linear-gradient(90deg,#ff6c00 320px,#ff4500 336px,#ff2400 347px,#ff3000 353px,#fcef00 381px,#e8ff0f 385px,#c5ff32 393px)"></i><i style="background:linear-gradient(90deg,#ff6100 327px,#ff3300 340px,#ff1b00 348px,#ff2d00 354px,#ffda00 378px,#f9f300 382px,#eaff0d 385px,#c5ff32 393px)"></i><i style="background:linear-gradient(90deg,#ff4d00 334px,#fd1200 347px,#ff1b00 352px,#ff5b00 361px,#ffd100 377px,#fbf000 382px,#e7ff10 386px,#c1ff36 394px)"></i><i style="background:linear-gradient(90deg,#ff4d00 334px,#fa0f00 346px,#f50b00 349px,#ff2700 355px,#ffbb00 374px,#fdee00 382px,#e9ff0e 386px,#c1ff36 394px)"></i><i style="background:linear-gradient(90deg,#ff5e00 329px,#fa0f00 346px,#f80d00 350px,#ff2c00 356px,#ffb900 374px,#faf200 383px,#ebff0c 386px,#c0ff37 395px)"></i><i style="background:linear-gradient(90deg,#ff5700 330px,#fc1000 347px,#ff1600 352px,#ff4c00 360px,#ffc400 376px,#fcef00 383px,#e8ff0f 387px,#c2ff35 396px)"></i><i style="background:linear-gradient(90deg,#ff4e00 332px,#ff1500 347px,#ff1e00 353px,#ff6d00 364px,#feed00 383px,#eaff0d 387px,#c6ff31 396px)"></i><i style="background:linear-gradient(90deg,#ff4500 334px,#ff1b00 347px,#ff2300 353px,#ff6d00 364px,#fbf100 384px,#e8ff0f 388px,#c7ff30 397px)"></i><i style="background:linear-gradient(90deg,#ff3e00 336px,#ff2000 348px,#ff3200 355px,#fdee00 384px,#eaff0c 388px,#c8ff2f 398px)"></i><i style="background:linear-gradient(90deg,#ff3500 339px,#ff2500 349px,#ff3b00 356px,#fbf100 385px,#e9ff0e 389px,#cbff2c 398px)"></i><i style="background:linear-gradient(90deg,#ff3100 341px,#ff2a00 350px,#ff4900 358px,#fdef00 385px,#ebff0b 389px,#cbff2c 399px)"></i><i style="background:linear-gradient(90deg,#ff2f00 343px,#ff2e00 351px,#ff6300 362px,#faf100 386px,#eaff0d 390px,#ceff29 399px)"></i><i style="background:linear-gradient(90deg,#ff2e00 345px,#ff3200 352px,#ff8800 368px,#fdef00 386px,#e9ff0e 391px,#ceff29 400px)"></i><i style="background:linear-gradient(90deg,#ff2e00 347px,#ff3400 352px,#ff9a00 371px,#fbf100 387px,#e8ff0f 392px,#cfff28 401px)"></i><i style="background:linear-gradient(90deg,#ff3100 349px,#ff5700 359px,#fdee00 387px,#ebff0b 392px,#d2ff24 401px)"></i><i style="background:linear-gradient(90deg,#ff3b00 351px,#ff7d00 366px,#fdef00 388px,#e8ff0e 394px,#d5ff22 402px)"></i><i style="background:linear-gradient(90deg,#ff4600 353px,#ff9800 371px,#fcef00 389px,#e9ff0e 395px,#d9ff1e 402px)"></i><i style="background:linear-gradient(90deg,#ff9300 370px,#fcf000 390px,#eaff0d 396px,#dbff1b 403px)"></i><i style="background:linear-gradient(90deg,#ffb900 378px,#f9f300 392px,#e7ff10 399px,#ddff19 404px)"></i><i style="background:linear-gradient(90deg,#ffd200 384px,#f9f300 393px,#e8ff0e 400px,#e1ff16 404px)"></i><i style="background:linear-gradient(90deg,#ffe500 390px,#eeff09 399px,#e3ff14 405px)"></i><i style="background:linear-gradient(90deg,#f8f400 396px,#e8ff0f 404px,#e6ff10 405px)"></i><i style="background:linear-gradient(90deg,#efff08 402px,#e9ff0d 405px)"></i><i></i><i></i><i></i><i></i><i></i><i></i><i></i><i></i><i></i><i></i><i></i></div>
<div class="hm" style="left:540.6px;top:43.8px;width:450px;height:451px;clip-path:polygon(0.0px 0.0px,182.7px 0.0px,190.4px 3.7px,198.8px 7.6px,207.2px 10.8px,231.3px 15.1px,255.7px 17.3px,280.0px 16.2px,296.2px 14.2px,312.3px 10.0px,336.7px 4.3px,352.9px 0.2px,354.4px 0.0px,450.3px 0.0px,450.2px 121.9px,434.0px 139.7px,417.7px 159.2px,406.4px 176.2px,396.7px 192.4px,388.6px 208.6px,383.7px 224.8px,380.4px 241.1px,378.0px 257.2px,377.2px 271.2px,377.2px 282.4px,378.8px 298.6px,380.4px 314.8px,382.9px 331.1px,385.3px 339.2px,386.9px 350.5px,388.9px 358.2px,392.4px 376.2px,396.7px 397.5px,399.9px 409.7px,404.8px 421.1px,408.0px 427.6px,385.3px 422.7px,372.3px 418.6px,357.7px 417.8px,344.8px 408.1px,328.6px 391.9px,311.4px 379.2px,296.1px 369.2px,279.9px 361.4px,263.7px 354.6px,247.5px 348.9px,231.3px 343.2px,215.0px 339.2px,198.8px 337.2px,191.0px 335.9px,179.4px 337.7px,167.7px 342.2px,158.5px 347.7px,142.6px 358.7px,130.4px 368.2px,117.6px 378.8px,107.4px 388.7px,97.6px 398.8px,88.4px 407.2px,80.0px 413.8px,72.4px 420.2px,67.5px 423.8px,61.3px 422.2px,66.1px 403.2px,74.2px 375.7px,76.4px 361.2px,75.9px 334.3px,74.9px 311.2px,74.2px 286.2px,72.9px 266.2px,71.4px 257.2px,71.3px 233.0px,70.2px 216.7px,66.1px 200.5px,58.0px 187.6px,45.0px 176.2px,35.5px 163.3px,0.0px 163.3px)"><i style="background:linear-gradient(90deg,#2effc9 0px,#20ffd6 9px,#00e2fa 10px,#00caff 32px,#0092ff 69px,#000cff 160px,#0000ff 188px,#0000f6 205px,#0000d7 239px,#0000dd 288px,#0000ff 325px,#000fff 337px,#0063ff 387px,#0095ff 431px,#00a0ff 449px)"></i><i style="background:linear-gradient(90deg,#29ffce 0px,#1affdd 10px,#00e3f8 12px,#00ccff 32px,#00a3ff 58px,#002cff 137px,#0003ff 173px,#0000f9 203px,#0000d7 237px,#0000dc 288px,#0000ff 325px,#000fff 337px,#0060ff 384px,#0094ff 428px,#00a1ff 449px)"></i><i style="background:linear-gradient(90deg,#24ffd3 0px,#13fce4 9px,#14fee3 11px,#00e5f7 13px,#00cfff 32px,#00acff 53px,#0038ff 132px,#0007ff 168px,#0000f9 204px,#0000d8 235px,#0000db 287px,#0000ff 325px,#000dff 336px,#005fff 382px,#0094ff 426px,#00a3ff 449px)"></i><i style="background:linear-gradient(90deg,#20ffd7 0px,#0cf4eb 8px,#10f9e7 12px,#01e7f5 14px,#00ceff 34px,#00adff 54px,#003bff 132px,#0009ff 168px,#0000fb 204px,#0000d7 234px,#0000da 287px,#0000ff 326px,#000dff 336px,#005eff 380px,#0095ff 426px,#00a4ff 449px)"></i><i style="background:linear-gradient(90deg,#1dffda 0px,#07eef0 8px,#10f9e7 14px,#03e9f4 15px,#00caff 38px,#0039ff 135px,#000bff 172px,#0000fb 205px,#0000d7 233px,#0000da 288px,#0000ff 326px,#000bff 335px,#005cff 378px,#0097ff 426px,#00a4ff 449px)"></i><i style="background:linear-gradient(90deg,#1bffdb 0px,#04ebf2 7px,#0ff8e8 15px,#04eaf3 16px,#00c8ff 41px,#003fff 134px,#000eff 173px,#0000ff 203px,#0000ec 214px,#0000d2 215px,#0000cd 222px,#0000de 223px,#0000d3 258px,#0000e0 297px,#0000ff 326px,#000bff 335px,#005cff 377px,#0097ff 425px,#00a5ff 449px)"></i><i style="background:linear-gradient(90deg,#1cffdb 0px,#04eaf3 7px,#0cf4eb 15px,#0af2ed 17px,#03e9f4 20px,#00c8ff 43px,#0043ff 134px,#0011ff 173px,#0000ff 203px,#0000ec 214px,#0000ba 215px,#0000ba 222px,#0000de 223px,#0000d3 257px,#0000de 296px,#0000ff 326px,#000aff 335px,#005dff 376px,#0098ff 424px,#00a6ff 449px)"></i><i style="background:linear-gradient(90deg,#1effd8 0px,#0af3ec 5px,#04ebf3 12px,#0ef7e9 17px,#04ebf3 20px,#00c8ff 45px,#0048ff 134px,#0014ff 174px,#0000ff 203px,#0000ed 214px,#0000ba 215px,#0000ba 222px,#0000dd 223px,#0000d3 257px,#0000dd 296px,#0000ff 327px,#000aff 335px,#005dff 375px,#0098ff 423px,#00a7ff 449px)"></i><i style="background:linear-gradient(90deg,#22ffd5 0px,#0ff8e8 5px,#04eaf3 12px,#11fbe6 19px,#05ecf1 20px,#00ccff 45px,#004dff 134px,#0017ff 175px,#0000ff 204px,#0000ed 214px,#0000bb 215px,#0000bb 222px,#0000dc 223px,#0000d3 259px,#0000dc 295px,#0000ff 327px,#000bff 335px,#005cff 374px,#0098ff 421px,#00a7ff 449px)"></i><i style="background:linear-gradient(90deg,#26ffd1 0px,#10fae7 6px,#05ecf2 14px,#12fbe5 20px,#06edf1 21px,#00d4ff 43px,#0050ff 135px,#0019ff 176px,#0000ff 204px,#0000ee 214px,#0000bb 215px,#0000bb 222px,#0000db 223px,#0000d3 265px,#0000dc 296px,#0000ff 327px,#0008ff 334px,#005bff 372px,#0099ff 420px,#00a8ff 449px)"></i><i style="background:linear-gradient(90deg,#2affcc 0px,#12fbe5 7px,#05ecf1 14px,#13fde4 21px,#06edf1 24px,#00d7ff 43px,#0087ff 102px,#001dff 175px,#0000ff 206px,#0000ef 214px,#0000bc 215px,#0000bc 222px,#0000da 223px,#0000d4 285px,#0000fc 320px,#0006ff 333px,#005aff 371px,#0099ff 418px,#00a9ff 449px)"></i><i style="background:linear-gradient(90deg,#2fffc8 0px,#10fae7 9px,#08efef 16px,#16ffe1 22px,#07eef0 24px,#00d4ff 46px,#008cff 101px,#001eff 177px,#0000ff 207px,#0000f0 214px,#0000bc 215px,#0000bc 222px,#0000d8 223px,#0000d6 290px,#0000ff 326px,#000aff 334px,#005fff 373px,#009aff 417px,#00a9ff 449px)"></i><i style="background:linear-gradient(90deg,#33ffc4 0px,#10f9e7 11px,#0cf5ea 18px,#19ffde 23px,#08efef 25px,#00ceff 52px,#008fff 102px,#0020ff 178px,#0000ff 208px,#0000f4 213px,#0000bd 214px,#0000bd 222px,#0000d6 223px,#0000d6 290px,#0000ff 325px,#0009ff 333px,#0061ff 373px,#009aff 416px,#00aaff 449px)"></i><i style="background:linear-gradient(90deg,#37ffc0 0px,#0ff8e8 15px,#1effd9 25px,#08f0ee 26px,#00cfff 53px,#0095ff 100px,#0076ff 123px,#0020ff 180px,#0000ff 210px,#0000f6 213px,#0000be 214px,#0000be 222px,#0000d4 223px,#0000d5 290px,#0000ff 324px,#000bff 333px,#0066ff 375px,#009bff 415px,#00abff 449px)"></i><i style="background:linear-gradient(90deg,#3cffbb 0px,#13fde4 16px,#20ffd7 26px,#09f1ee 27px,#00cfff 55px,#0098ff 100px,#0081ff 119px,#0021ff 181px,#0000fe 211px,#0000f6 213px,#0000be 214px,#0000be 222px,#0000d3 223px,#0000d5 290px,#0000ff 323px,#000aff 332px,#0069ff 376px,#009dff 415px,#00abff 449px)"></i><i style="background:linear-gradient(90deg,#40ffb7 0px,#16ffe0 18px,#21ffd6 27px,#09f0ee 29px,#00d1ff 56px,#009bff 101px,#006bff 136px,#0022ff 182px,#0000ff 210px,#0000f7 213px,#0000bf 214px,#0000bf 222px,#0000d7 223px,#0000d3 288px,#0000ff 322px,#000aff 331px,#006cff 377px,#009dff 414px,#00acff 449px)"></i><i style="background:linear-gradient(90deg,#44ffb3 0px,#18ffdf 21px,#22ffd5 28px,#09f1ee 30px,#00d3ff 56px,#009cff 103px,#0048ff 158px,#0020ff 185px,#0000ff 209px,#0000f6 213px,#0000bf 214px,#0000bf 222px,#0000db 223px,#0000d1 287px,#0000ff 321px,#000aff 330px,#0070ff 378px,#009eff 413px,#00adff 449px)"></i><i style="background:linear-gradient(90deg,#48ffae 0px,#19ffdd 22px,#27ffd0 30px,#09f1ed 31px,#00d3ff 58px,#0077ff 133px,#0024ff 182px,#0005ff 203px,#0000fa 211px,#0000f4 213px,#0000c0 214px,#0000c0 222px,#0000de 223px,#0000cf 285px,#0000ff 320px,#000aff 329px,#0074ff 379px,#009eff 412px,#00adff 449px)"></i><i style="background:linear-gradient(90deg,#4dffaa 0px,#1bffdb 23px,#2affcd 31px,#09f1ee 33px,#00d3ff 60px,#0074ff 137px,#0026ff 182px,#0007ff 202px,#0000fb 210px,#0000f1 213px,#0000c0 214px,#0000c0 222px,#0000e0 223px,#0000cd 284px,#0000ff 319px,#000dff 329px,#0077ff 380px,#009fff 411px,#00aeff 449px)"></i><i style="background:linear-gradient(90deg,#50ffa6 0px,#1fffd8 24px,#2dffca 32px,#09f1ed 34px,#00d4ff 61px,#0073ff 140px,#0028ff 181px,#000aff 201px,#0000ff 207px,#0000ed 213px,#0000c1 214px,#0000c1 222px,#0000e2 223px,#0000cb 283px,#0000ff 317px,#0008ff 326px,#0075ff 378px,#009dff 407px,#00afff 449px)"></i><i style="background:linear-gradient(90deg,#54ffa2 0px,#23ffd4 25px,#30ffc7 33px,#0af1ed 35px,#00d4ff 63px,#0072ff 143px,#002aff 180px,#000dff 200px,#0000ff 206px,#0000e9 213px,#0000c1 214px,#0000c1 222px,#0000e3 223px,#0000ca 282px,#0000ff 316px,#0009ff 325px,#0070ff 374px,#009bff 403px,#00afff 446px,#06edf1 448px,#07eef0 449px)"></i><i style="background:linear-gradient(90deg,#58ff9f 0px,#27ffcf 26px,#33ffc4 35px,#0af2ed 36px,#00d3ff 65px,#0070ff 146px,#002dff 179px,#0011ff 199px,#0000ff 205px,#0000e6 213px,#0000c2 214px,#0000c2 222px,#0000e5 223px,#0000ca 277px,#0000ec 303px,#0000ff 316px,#000bff 325px,#006aff 370px,#0099ff 400px,#00afff 444px,#05ecf2 446px,#08f0ef 449px)"></i><i style="background:linear-gradient(90deg,#5cff9b 0px,#2bffcc 28px,#33ffc3 36px,#0af2ed 38px,#00d2ff 68px,#0071ff 148px,#0031ff 177px,#0012ff 199px,#0000ff 205px,#0000e5 213px,#0000c2 214px,#0000c2 222px,#0000e6 223px,#0000cb 268px,#0000d4 287px,#0000ff 314px,#0009ff 323px,#0062ff 365px,#009aff 399px,#00afff 441px,#03e9f4 443px,#09f1ee 449px)"></i><i style="background:linear-gradient(90deg,#5fff98 0px,#2bffcb 30px,#33ffc4 37px,#0af2ed 39px,#00d4ff 68px,#0073ff 149px,#0031ff 180px,#000eff 200px,#0000ff 205px,#0000e6 213px,#0000c3 214px,#0000c3 222px,#0000e9 223px,#0000ca 266px,#0000d7 288px,#0000ff 313px,#000aff 322px,#0066ff 366px,#009cff 400px,#00afff 438px,#00cbfb 439px,#01cbfa 440px,#02e8f5 441px,#0af2ed 449px)"></i><i style="background:linear-gradient(90deg,#63ff94 0px,#2bffcc 32px,#35ffc2 39px,#0af2ec 40px,#00d5ff 69px,#0073ff 151px,#002aff 186px,#000bff 201px,#0000ff 206px,#0000ec 212px,#0000c3 214px,#0000c3 222px,#0000ec 223px,#0000c9 264px,#0000da 289px,#0000ff 312px,#000aff 321px,#006aff 367px,#009dff 400px,#00afff 436px,#00e6f6 438px,#0bf3ec 449px)"></i><i style="background:linear-gradient(90deg,#66ff91 0px,#2affcd 33px,#36ffc1 40px,#0bf3ec 41px,#00d6ff 70px,#0075ff 152px,#0009ff 202px,#0000ff 208px,#0000f3 212px,#0000c4 213px,#0000c4 222px,#0000f0 223px,#0000c8 263px,#0000dd 289px,#0000ff 311px,#000aff 320px,#006dff 368px,#009eff 401px,#00afff 433px,#00e4f8 435px,#0cf5ea 449px)"></i><i style="background:linear-gradient(90deg,#69ff8d 0px,#35ffc2 27px,#2cffca 36px,#37ffc0 41px,#0af2ec 43px,#00d7ff 71px,#0078ff 152px,#0005ff 204px,#0000fa 212px,#0000c4 213px,#0000c4 222px,#0000f4 223px,#0000c8 262px,#0000df 289px,#0000ff 310px,#000bff 319px,#006fff 368px,#00a0ff 402px,#00afff 430px,#00c8fd 431px,#00c9fc 432px,#00e3f9 433px,#0ef7e9 449px)"></i><i style="background:linear-gradient(90deg,#6dff8a 0px,#39ffbe 27px,#2dffca 36px,#38ffbf 42px,#0bf3ec 44px,#00d8ff 72px,#0077ff 153px,#0000ff 209px,#0000ff 211px,#0000c5 213px,#0000c5 222px,#0000f8 223px,#0000c8 260px,#0000db 284px,#0000ff 309px,#0009ff 317px,#006cff 365px,#00a1ff 402px,#00afff 428px,#00e1fb 430px,#10f9e7 449px)"></i><i style="background:linear-gradient(90deg,#70ff87 0px,#3affbd 28px,#30ffc7 38px,#3bffbc 44px,#0bf3ec 45px,#00d8ff 73px,#0077ff 154px,#0000ff 211px,#0000c6 212px,#0000c6 222px,#0000fc 223px,#0000c9 259px,#0000d8 280px,#0000ff 308px,#000aff 316px,#0067ff 361px,#00a1ff 401px,#00aeff 425px,#00c6fe 426px,#00c7fe 427px,#00e0fc 428px,#11fbe5 449px)"></i><i style="background:linear-gradient(90deg,#73ff84 0px,#30ffc7 37px,#3affbc 45px,#0af2ec 47px,#00d8ff 75px,#0079ff 154px,#0002ff 210px,#0000c8 211px,#0000c8 222px,#0000ff 223px,#0000cb 259px,#0000da 279px,#0000ff 306px,#0008ff 314px,#005bff 353px,#009fff 398px,#00aeff 423px,#00ddfe 425px,#11fbe6 447px,#13fee3 449px)"></i><i style="background:linear-gradient(90deg,#75ff81 0px,#31ffc6 39px,#3affbd 46px,#0bf3ec 48px,#00d7ff 77px,#0078ff 155px,#0007ff 209px,#0005ff 210px,#0000cb 211px,#0000cb 222px,#0000ff 223px,#0000cd 260px,#0000e1 281px,#0000ff 305px,#000cff 314px,#0054ff 348px,#009fff 397px,#00aeff 420px,#00daff 422px,#0bf3ec 440px,#15ffe1 449px)"></i><i style="background:linear-gradient(90deg,#78ff7f 0px,#31ffc6 41px,#3cffbb 48px,#0bf3ec 49px,#00d7ff 78px,#007aff 155px,#000eff 206px,#0009ff 209px,#0000cd 210px,#0000cd 222px,#0000ff 223px,#0000f4 233px,#0000d0 261px,#0000f4 294px,#0000ff 305px,#005aff 350px,#00a0ff 397px,#00adff 417px,#00c2ff 418px,#00c3ff 419px,#00d9ff 420px,#09f1ee 437px,#18ffdf 449px)"></i><i style="background:linear-gradient(90deg,#7aff7c 0px,#3cffbb 35px,#32ffc5 44px,#3cffbb 49px,#0af2ec 51px,#00d7ff 80px,#007aff 156px,#000dff 207px,#000aff 209px,#0000cf 210px,#0000cf 222px,#0000ff 223px,#0000f8 233px,#0000d5 260px,#0000e6 278px,#0000ff 303px,#0051ff 343px,#009fff 395px,#00adff 415px,#00d7ff 417px,#07eef0 434px,#1affdd 449px)"></i><i style="background:linear-gradient(90deg,#7dff7a 0px,#41ffb6 35px,#32ffc5 44px,#3cffbb 50px,#0bf3ec 52px,#00d7ff 81px,#007aff 157px,#000bff 208px,#0000d2 209px,#0000d2 221px,#0000ff 223px,#0000f9 234px,#0000da 261px,#0000f1 282px,#0005ff 304px,#0049ff 336px,#009fff 394px,#00acff 412px,#00d4ff 414px,#06edf1 432px,#1affdd 447px,#1cffdb 449px)"></i><i style="background:linear-gradient(90deg,#7fff78 0px,#46ffb1 35px,#32ffc4 45px,#3fffb8 52px,#0bf3ec 53px,#00d7ff 82px,#007aff 158px,#000cff 207px,#000aff 208px,#0000d4 209px,#0000d4 221px,#0002ff 222px,#0000f9 236px,#0000e1 265px,#0000ff 293px,#0008ff 303px,#004aff 334px,#00a1ff 395px,#00acff 409px,#00bfff 410px,#00bfff 411px,#00d3ff 412px,#04ebf2 430px,#1affdd 445px,#1effd8 449px)"></i><i style="background:linear-gradient(90deg,#81ff75 0px,#49ffae 36px,#34ffc3 46px,#3fffb8 53px,#0af2ec 55px,#00d7ff 84px,#007dff 158px,#0048ff 180px,#000aff 207px,#0000d6 208px,#0000d6 221px,#0005ff 222px,#0000f7 243px,#0000eb 267px,#0000ff 287px,#0007ff 300px,#004bff 331px,#00a3ff 396px,#00abff 407px,#00d1ff 409px,#02e8f5 427px,#19ffdd 443px,#21ffd6 449px)"></i><i style="background:linear-gradient(90deg,#84ff73 0px,#61ff96 25px,#49ffae 38px,#35ffc2 48px,#3fffb8 54px,#0bf3ec 56px,#00d7ff 85px,#007dff 159px,#004eff 178px,#002bff 195px,#0008ff 207px,#0000d9 208px,#0000d9 221px,#0008ff 222px,#0000fc 247px,#0000f5 267px,#0000ff 287px,#000cff 299px,#004fff 330px,#00a5ff 396px,#00aaff 404px,#00bcff 405px,#00bdff 406px,#00d0ff 407px,#01e7f6 425px,#1affdc 442px,#23ffd4 449px)"></i><i style="background:linear-gradient(90deg,#86ff71 0px,#64ff92 24px,#4fffa7 38px,#36ffc1 49px,#42ffb5 56px,#0bf3ec 57px,#00d7ff 86px,#007eff 160px,#0052ff 176px,#003eff 190px,#000bff 206px,#0000db 207px,#0000db 221px,#000cff 222px,#0000ff 247px,#0006ff 289px,#002aff 308px,#0059ff 334px,#006fff 352px,#00a7ff 397px,#00aaff 402px,#00ceff 404px,#00e5f8 422px,#1bffdc 441px,#26ffd1 449px)"></i><i style="background:linear-gradient(90deg,#89ff6e 0px,#68ff8f 23px,#56ffa1 38px,#37ffbf 50px,#42ffb4 57px,#0af2ec 59px,#00d8ff 87px,#0092ff 149px,#007bff 162px,#0055ff 175px,#004cff 187px,#002bff 197px,#0011ff 205px,#0000dd 206px,#0000dd 221px,#0010ff 222px,#0000ff 256px,#0008ff 283px,#0026ff 303px,#005cff 331px,#006eff 349px,#00a5ff 393px,#00a9ff 399px,#00cdff 401px,#00e4f8 420px,#1bffdc 440px,#28ffcf 449px)"></i><i style="background:linear-gradient(90deg,#8bff6c 0px,#6bff8c 23px,#5dff9a 38px,#39ffbe 51px,#43ffb4 58px,#0bf3ec 60px,#00d9ff 88px,#0081ff 161px,#005aff 176px,#004fff 189px,#001bff 204px,#0000df 206px,#0000df 221px,#0015ff 222px,#0004ff 266px,#0024ff 298px,#0061ff 330px,#0074ff 350px,#00a9ff 396px,#00baff 397px,#00bbff 398px,#00ccff 399px,#00e3f9 418px,#1bffdc 439px,#29ffcd 449px)"></i><i style="background:linear-gradient(90deg,#8eff69 0px,#6eff89 23px,#60ff97 39px,#3affbd 52px,#45ffb1 60px,#0af2ec 62px,#00d9ff 90px,#0084ff 161px,#0062ff 177px,#0051ff 192px,#0029ff 203px,#0000e2 205px,#0000e2 221px,#001aff 222px,#000dff 266px,#002bff 297px,#0067ff 330px,#0080ff 354px,#00a9ff 394px,#00ccff 396px,#00e0fb 415px,#1affdd 438px,#2bffcc 449px)"></i><i style="background:linear-gradient(90deg,#91ff66 0px,#70ff86 23px,#66ff91 39px,#3bffbc 53px,#46ffb1 61px,#0bf3ec 63px,#00daff 91px,#0084ff 162px,#0069ff 178px,#0055ff 195px,#003bff 202px,#0000e4 204px,#0000e4 221px,#0020ff 222px,#0018ff 267px,#0030ff 295px,#006eff 330px,#00a8ff 391px,#00cbff 393px,#00e0fb 414px,#19ffdd 437px,#2dffca 449px)"></i><i style="background:linear-gradient(90deg,#93ff63 0px,#73ff83 23px,#68ff8f 40px,#3dffba 54px,#49ffad 63px,#0bf3ec 64px,#00dbff 92px,#0084ff 164px,#006fff 181px,#005dff 197px,#004aff 202px,#0000e6 203px,#0000e6 221px,#0026ff 222px,#0022ff 268px,#0036ff 294px,#0074ff 330px,#00a9ff 389px,#00caff 391px,#00e3f9 414px,#14fee3 433px,#2effc9 449px)"></i><i style="background:linear-gradient(90deg,#96ff60 0px,#76ff80 23px,#6bff8c 41px,#40ffb7 55px,#4affad 64px,#0bf3ec 66px,#00daff 95px,#007fff 169px,#0068ff 198px,#005dff 201px,#0000e8 202px,#0000e8 221px,#002cff 222px,#002bff 268px,#003cff 293px,#007aff 329px,#00a8ff 386px,#00c9ff 388px,#00e2f9 412px,#14fee2 429px,#30ffc7 449px)"></i><i style="background:linear-gradient(90deg,#9aff5d 0px,#79ff7d 23px,#6bff8b 43px,#44ffb3 57px,#4affad 65px,#0bf3ec 67px,#00d5ff 101px,#007fff 178px,#0074ff 199px,#006bff 201px,#0000ea 202px,#0000ea 221px,#0031ff 222px,#0034ff 268px,#0043ff 293px,#007eff 326px,#00a9ff 383px,#00b8ff 384px,#00b9ff 385px,#00c9ff 386px,#00e4f8 411px,#17ffe0 427px,#28ffcf 442px,#32ffc5 449px)"></i><i style="background:linear-gradient(90deg,#9dff5a 0px,#7cff7b 24px,#6fff88 44px,#45ffb2 60px,#4cffab 67px,#0bf3ec 69px,#00d3ff 105px,#0085ff 177px,#0080ff 199px,#007bff 200px,#0000ec 201px,#0000ec 221px,#0035ff 222px,#0038ff 247px,#003fff 270px,#0047ff 292px,#0075ff 316px,#008bff 336px,#00aaff 381px,#00c7ff 383px,#00e3f9 409px,#1affdd 425px,#2bffcb 443px,#33ffc3 449px)"></i><i style="background:linear-gradient(90deg,#a0ff56 0px,#7fff78 25px,#71ff86 46px,#45ffb1 62px,#4cffab 68px,#0cf4eb 70px,#00d6ff 104px,#008bff 174px,#0083ff 199px,#007fff 200px,#0000ed 201px,#0000ed 221px,#0038ff 222px,#003eff 235px,#0041ff 244px,#0042ff 265px,#0045ff 279px,#0053ff 295px,#0071ff 309px,#008fff 333px,#00abff 378px,#00c6ff 380px,#00e3f9 407px,#19ffdd 424px,#35ffc2 449px)"></i><i style="background:linear-gradient(90deg,#a4ff52 0px,#82ff75 26px,#73ff83 48px,#46ffb1 63px,#4effa9 70px,#0cf4eb 72px,#00daff 102px,#0090ff 171px,#0087ff 197px,#0082ff 199px,#0000ef 201px,#0000ef 221px,#003aff 222px,#0040ff 234px,#0048ff 242px,#0047ff 264px,#004cff 276px,#0053ff 293px,#0075ff 308px,#0094ff 333px,#00acff 375px,#00b8ff 376px,#00b8ff 377px,#00c5ff 378px,#00e2f9 405px,#19ffde 423px,#37ffc0 449px)"></i><i style="background:linear-gradient(90deg,#a9ff4e 0px,#86ff71 26px,#77ff7f 49px,#46ffb0 64px,#4effa9 71px,#0df5ea 73px,#00d6ff 108px,#0094ff 170px,#0089ff 195px,#0081ff 199px,#0000f0 200px,#0000f0 221px,#003bff 222px,#0041ff 233px,#004bff 244px,#0051ff 268px,#0057ff 293px,#007dff 311px,#0098ff 335px,#00adff 373px,#00c4ff 375px,#00e3f9 404px,#1affdd 423px,#38ffbe 449px)"></i><i style="background:linear-gradient(90deg,#adff49 0px,#89ff6d 27px,#7aff7d 50px,#47ffb0 65px,#51ffa6 73px,#0df6ea 75px,#00d7ff 109px,#0098ff 169px,#008aff 194px,#007eff 199px,#0000f2 200px,#0000f2 221px,#003cff 222px,#0040ff 231px,#004fff 245px,#005cff 294px,#0085ff 314px,#009dff 338px,#00aeff 370px,#00c4ff 374px,#00e3f9 403px,#1affdd 422px,#3affbd 449px)"></i><i style="background:linear-gradient(90deg,#b2ff44 0px,#8eff69 27px,#7cff7a 51px,#49ffae 65px,#51ffa5 74px,#0ef6e9 76px,#00d7ff 110px,#009bff 168px,#008dff 192px,#007eff 198px,#0000f3 199px,#0000f3 221px,#003cff 222px,#003eff 229px,#0052ff 245px,#0060ff 295px,#008aff 315px,#00a3ff 344px,#00afff 368px,#00c2ff 370px,#00e2fa 401px,#1affdd 421px,#3bffbb 449px)"></i><i style="background:linear-gradient(90deg,#b7ff3f 0px,#92ff65 28px,#81ff76 51px,#4bffab 66px,#55ffa2 76px,#0ef7e9 78px,#00d9ff 111px,#009dff 167px,#008fff 191px,#007aff 198px,#0000f5 199px,#0000f5 221px,#003eff 222px,#003cff 227px,#0055ff 245px,#0063ff 295px,#008eff 316px,#00abff 353px,#00b0ff 365px,#00c1ff 367px,#00e2f9 400px,#1affdd 420px,#3dffba 449px)"></i><i style="background:linear-gradient(90deg,#bcff3a 0px,#96ff60 29px,#84ff73 52px,#4effa9 68px,#56ffa1 77px,#0ef7e8 79px,#00daff 112px,#00a0ff 166px,#008eff 191px,#007aff 197px,#0000f6 199px,#0000f6 221px,#0041ff 222px,#0049ff 232px,#005aff 251px,#0068ff 295px,#0096ff 320px,#00b0ff 362px,#00c1ff 366px,#00e3f9 399px,#1affdd 419px,#3effb8 449px)"></i><i style="background:linear-gradient(90deg,#c2ff35 0px,#9bff5c 30px,#87ff70 53px,#51ffa6 70px,#59ff9e 79px,#0ff8e8 80px,#00daff 114px,#00a1ff 166px,#0090ff 190px,#0076ff 197px,#0000f8 198px,#0000f8 221px,#0046ff 222px,#0053ff 236px,#0063ff 276px,#006fff 296px,#009cff 323px,#00b1ff 360px,#00c1ff 363px,#00e2fa 397px,#1affdd 418px,#40ffb7 449px)"></i><i style="background:linear-gradient(90deg,#c7ff30 0px,#a0ff57 31px,#87ff6f 55px,#55ffa1 71px,#5aff9d 80px,#0ff8e8 82px,#00daff 116px,#00a3ff 165px,#0090ff 190px,#0074ff 197px,#0000f9 198px,#0000f9 221px,#004aff 222px,#0061ff 255px,#0070ff 294px,#009fff 324px,#00b1ff 357px,#00c1ff 362px,#00e3f9 396px,#1affdd 417px,#41ffb5 449px)"></i><i style="background:linear-gradient(90deg,#ccff2b 0px,#a4ff53 33px,#8bff6c 56px,#58ff9f 73px,#5dff9a 82px,#0ff9e7 83px,#00daff 118px,#00a5ff 164px,#0090ff 190px,#0079ff 196px,#0000fb 197px,#0000fb 221px,#004eff 222px,#0064ff 255px,#0073ff 293px,#00a2ff 325px,#00b2ff 355px,#00c0ff 358px,#00e3f9 394px,#1affdc 416px,#43ffb4 449px)"></i><i style="background:linear-gradient(90deg,#d1ff26 0px,#a6ff51 37px,#8aff6d 59px,#5bff9c 75px,#5dff99 83px,#0ff9e7 85px,#00daff 120px,#00a8ff 162px,#0091ff 190px,#0079ff 196px,#0000fd 197px,#0000fd 221px,#0051ff 222px,#0067ff 254px,#0075ff 292px,#00a3ff 325px,#00b2ff 352px,#00bfff 355px,#00e3f9 392px,#1bffdc 415px,#45ffb2 449px)"></i><i style="background:linear-gradient(90deg,#d6ff21 0px,#91ff66 59px,#5dff9a 77px,#5fff98 85px,#10f9e7 86px,#00d9ff 123px,#00abff 160px,#0092ff 190px,#0081ff 195px,#0000fe 197px,#0000fe 221px,#0054ff 222px,#0069ff 251px,#0077ff 291px,#00a4ff 324px,#00b8ff 351px,#00e2fa 389px,#1affdd 413px,#46ffb1 449px)"></i><i style="background:linear-gradient(90deg,#dbff1c 0px,#93ff64 61px,#5fff98 79px,#5eff98 86px,#10f9e7 88px,#00d8ff 126px,#00aeff 158px,#0092ff 191px,#0083ff 195px,#0000ff 196px,#0000ff 221px,#0057ff 222px,#006cff 248px,#0079ff 290px,#00a2ff 321px,#00b7ff 348px,#00e2fa 387px,#1bffdc 412px,#48ffaf 449px)"></i><i style="background:linear-gradient(90deg,#e0ff17 0px,#97ff60 62px,#5eff99 82px,#5eff99 88px,#10fae6 89px,#00d6ff 129px,#00afff 158px,#0091ff 192px,#0086ff 195px,#0000ff 196px,#0000ff 221px,#0059ff 222px,#006eff 246px,#007aff 289px,#00a1ff 318px,#00b7ff 346px,#00e2fa 385px,#1affdd 410px,#4affad 449px)"></i><i style="background:linear-gradient(90deg,#e5ff12 0px,#9bff5b 63px,#5eff99 83px,#5dff9a 89px,#10fae6 91px,#00d6ff 131px,#00afff 160px,#0091ff 192px,#008bff 194px,#0000ff 195px,#0000ff 221px,#005aff 222px,#0070ff 248px,#007cff 288px,#00a6ff 323px,#00b7ff 343px,#00e2fa 383px,#1affdd 408px,#4cffab 449px)"></i><i style="background:linear-gradient(90deg,#eaff0c 0px,#a1ff56 63px,#5cff9a 85px,#5cff9b 91px,#11fae6 93px,#00d9ff 130px,#00afff 163px,#0090ff 192px,#008bff 194px,#0000ff 195px,#0000ff 220px,#005bff 222px,#0072ff 250px,#007cff 286px,#00abff 328px,#00b6ff 340px,#00e2f9 381px,#19ffde 405px,#4effa9 449px)"></i><i style="background:linear-gradient(90deg,#f0fe07 0px,#a9ff4e 62px,#83ff74 75px,#5cff9b 86px,#5bff9c 92px,#11fbe6 94px,#00ddfd 129px,#00aeff 166px,#008fff 192px,#008cff 193px,#0000ff 194px,#0000ff 220px,#005bff 221px,#0075ff 252px,#007cff 283px,#00afff 332px,#00e2f9 379px,#1affdd 403px,#4fffa8 448px)"></i><i style="background:linear-gradient(90deg,#f5f701 0px,#e1ff16 22px,#a4ff53 67px,#5cff9b 87px,#59ff9e 94px,#12fbe5 96px,#00dffc 129px,#00abff 170px,#008dff 192px,#008aff 193px,#0000ff 194px,#0000ff 220px,#005bff 221px,#0077ff 253px,#007dff 281px,#00b5ff 335px,#00e2f9 377px,#19ffde 400px,#4fffa8 446px)"></i><i style="background:linear-gradient(90deg,#fbf000 0px,#e6ff10 23px,#a7ff50 68px,#70ff86 82px,#57ff9f 91px,#58ff9f 96px,#12fce4 97px,#00e3f9 128px,#00bbff 156px,#0092ff 189px,#008aff 192px,#0000ff 193px,#0000ff 220px,#005aff 221px,#0079ff 253px,#0083ff 287px,#00b5ff 333px,#00e2f9 375px,#1affdd 398px,#4fffa8 444px)"></i><i style="background:linear-gradient(90deg,#ffe900 0px,#edff0a 23px,#acff4b 68px,#81ff76 80px,#57ff9f 91px,#55ffa1 97px,#13fde4 99px,#01e7f6 127px,#00cdff 144px,#0093ff 188px,#0086ff 192px,#0000ff 193px,#0000ff 220px,#0059ff 221px,#007aff 252px,#008aff 295px,#00b4ff 330px,#00e2f9 373px,#19ffde 395px,#4fffa8 442px)"></i><i style="background:linear-gradient(90deg,#ffe200 0px,#f4f802 22px,#d9ff1e 44px,#a0ff56 74px,#56ffa1 92px,#54ffa3 99px,#14fee3 100px,#04eaf3 126px,#00d1ff 143px,#0098ff 186px,#0087ff 191px,#0000ff 192px,#0000ff 220px,#0058ff 221px,#006dff 236px,#007fff 262px,#0090ff 298px,#00b3ff 327px,#00e2f9 371px,#19ffdd 393px,#50ffa6 441px)"></i><i style="background:linear-gradient(90deg,#ffdb00 0px,#f8f400 24px,#e5ff12 40px,#a3ff54 75px,#55ffa2 93px,#52ffa5 100px,#14ffe2 102px,#07eef0 125px,#00d3ff 143px,#0097ff 186px,#0084ff 191px,#0000ff 192px,#0000ff 220px,#0058ff 221px,#0062ff 229px,#007dff 250px,#0092ff 298px,#00b2ff 325px,#00e3f9 369px,#19ffdd 391px,#51ffa6 439px)"></i><i style="background:linear-gradient(90deg,#ffd400 0px,#faf200 27px,#e3ff14 45px,#a1ff55 77px,#56ffa1 94px,#51ffa6 102px,#15ffe2 104px,#06edf1 127px,#00d2ff 145px,#009aff 185px,#0087ff 190px,#0001ff 191px,#0001ff 221px,#005bff 222px,#0080ff 251px,#0096ff 299px,#00b1ff 322px,#00e3f9 367px,#1affdd 389px,#51ffa6 437px)"></i><i style="background:linear-gradient(90deg,#ffcd00 0px,#ffe800 25px,#effe08 41px,#a4ff53 78px,#56ffa0 95px,#4fffa8 103px,#15ffe1 105px,#05ecf2 129px,#00d2ff 147px,#009aff 185px,#0087ff 190px,#0002ff 191px,#0002ff 221px,#0060ff 222px,#0083ff 253px,#009aff 300px,#00b1ff 320px,#00e2f9 365px,#19ffdd 387px,#52ffa5 435px)"></i><i style="background:linear-gradient(90deg,#ffc700 0px,#ffde00 24px,#f5f701 40px,#deff19 53px,#a2ff55 80px,#54ffa2 97px,#4dffaa 105px,#16ffe1 107px,#04ebf3 131px,#00d3ff 148px,#009bff 185px,#008dff 189px,#0004ff 190px,#0004ff 221px,#0065ff 222px,#0086ff 255px,#009eff 302px,#00afff 317px,#00e2fa 363px,#1bffdc 386px,#52ffa4 433px)"></i><i style="background:linear-gradient(90deg,#ffc000 0px,#ffd600 24px,#f9f300 41px,#e6ff11 51px,#a3ff54 81px,#52ffa5 99px,#4bffac 107px,#16ffe0 108px,#03eaf3 133px,#00d2ff 150px,#0099ff 186px,#008fff 189px,#0005ff 190px,#0005ff 221px,#006aff 223px,#0088ff 255px,#00a3ff 306px,#00aeff 314px,#00e2fa 361px,#1bffdc 384px,#54ffa3 432px)"></i><i style="background:linear-gradient(90deg,#ffba00 0px,#ffce00 24px,#faf200 43px,#e8ff0f 52px,#a4ff53 82px,#50ffa7 101px,#48ffaf 108px,#16ffe0 110px,#00e6f6 137px,#00ceff 155px,#0098ff 187px,#0095ff 188px,#0007ff 189px,#0007ff 222px,#006eff 223px,#008aff 255px,#00a8ff 311px,#00b4ff 314px,#00e2f9 360px,#1affdc 382px,#55ffa2 430px)"></i><i style="background:linear-gradient(90deg,#ffb400 0px,#ffc700 24px,#faf200 45px,#e8ff0e 53px,#a2ff55 84px,#4effa9 103px,#46ffb1 110px,#17ffe0 111px,#01e7f6 138px,#00cdff 157px,#0097ff 188px,#0008ff 189px,#0008ff 222px,#0073ff 223px,#008bff 254px,#00a7ff 308px,#00b4ff 312px,#00e2fa 358px,#1affdd 380px,#54ffa3 426px,#56ffa1 428px)"></i><i style="background:linear-gradient(90deg,#ffae00 0px,#ffc000 24px,#fbf100 46px,#e9ff0e 54px,#a3ff54 85px,#4cffab 105px,#46ffb0 111px,#16ffe0 113px,#00e4f8 142px,#00bcff 169px,#009bff 187px,#000aff 188px,#000aff 222px,#0076ff 223px,#008cff 250px,#00a7ff 305px,#00b5ff 311px,#00e1fb 356px,#19ffdd 378px,#53ffa4 422px,#58ff9f 427px)"></i><i style="background:linear-gradient(90deg,#ffa900 0px,#ffba00 24px,#fcf000 47px,#e9ff0e 55px,#a1ff55 87px,#4bffac 107px,#4affad 113px,#16ffe1 115px,#00e0fb 146px,#009dff 187px,#000bff 188px,#000bff 222px,#007aff 224px,#008dff 247px,#009eff 290px,#00acff 304px,#00e1fa 355px,#1affdd 377px,#53ffa4 419px,#58ff9e 425px)"></i><i style="background:linear-gradient(90deg,#ffa400 0px,#ffb400 24px,#fcf000 48px,#e8ff0f 56px,#a0ff57 89px,#4dffa9 108px,#4cffab 115px,#16ffe0 116px,#00e4f8 145px,#00beff 169px,#009fff 186px,#000dff 187px,#000dff 223px,#007dff 224px,#0090ff 251px,#00a1ff 293px,#00acff 302px,#00e1fa 354px,#19ffdd 375px,#54ffa3 417px,#59ff9d 423px)"></i><i style="background:linear-gradient(90deg,#ff9f00 0px,#ffad00 23px,#fbf100 49px,#eaff0d 56px,#9eff58 91px,#50ffa7 109px,#4dffa9 116px,#16ffe1 118px,#00e3f9 147px,#00b4ff 175px,#00a1ff 185px,#000eff 186px,#000eff 223px,#0080ff 224px,#0093ff 259px,#00a6ff 298px,#00b2ff 302px,#00e1fa 353px,#18ffde 373px,#55ffa2 415px,#5bff9c 422px)"></i><i style="background:linear-gradient(90deg,#ff9b00 0px,#ffaa00 23px,#ffe600 46px,#f0fe07 54px,#9dff59 93px,#53ffa4 110px,#4fffa8 118px,#16ffe1 120px,#00e5f7 147px,#00c5ff 166px,#00a3ff 184px,#0010ff 186px,#0010ff 223px,#0083ff 224px,#0096ff 268px,#00aaff 296px,#00e2fa 352px,#19ffde 372px,#56ffa1 413px,#5cff9b 420px)"></i><i style="background:linear-gradient(90deg,#ff9800 0px,#ffaa00 24px,#ffde00 44px,#f6f701 52px,#e6ff11 59px,#a0ff57 94px,#69ff8e 106px,#50ffa7 114px,#50ffa7 120px,#16ffe1 121px,#03eaf4 145px,#00ceff 162px,#00a3ff 184px,#0013ff 185px,#0013ff 223px,#0086ff 225px,#00a5ff 293px,#00b1ff 297px,#00e2fa 351px,#19ffdd 371px,#58ff9f 412px,#5dff9a 418px)"></i><i style="background:linear-gradient(90deg,#ff9600 0px,#ffa800 24px,#ffd500 42px,#f9f300 51px,#e9ff0e 58px,#9fff57 96px,#55ffa2 113px,#50ffa7 121px,#15ffe1 123px,#00e4f8 150px,#00bcff 171px,#00a4ff 183px,#0015ff 184px,#0015ff 224px,#0088ff 225px,#00a4ff 290px,#00b0ff 294px,#00e2fa 350px,#19ffde 369px,#59ff9e 411px,#5fff98 417px)"></i><i style="background:linear-gradient(90deg,#ff9400 0px,#ffa700 24px,#ffd800 43px,#faf200 51px,#e7ff0f 59px,#a2ff55 97px,#54ffa3 115px,#50ffa7 123px,#15ffe2 125px,#00ddfd 155px,#00a4ff 182px,#0018ff 183px,#0018ff 224px,#008aff 225px,#00a4ff 287px,#00b0ff 293px,#00e1fb 348px,#19ffde 368px,#5aff9d 409px,#60ff97 416px)"></i><i style="background:linear-gradient(90deg,#ffbf00 35px,#faf200 51px,#e8ff0f 59px,#a3ff53 98px,#52ffa4 117px,#50ffa6 125px,#15ffe2 126px,#00dbff 157px,#00a5ff 181px,#001aff 183px,#001aff 224px,#008cff 225px,#00a9ff 286px,#00e1fa 347px,#1affdd 367px,#5dff9a 410px,#61ff96 414px)"></i><i style="background:linear-gradient(90deg,#ffc400 37px,#faf200 51px,#e9ff0e 59px,#a5ff52 99px,#53ffa3 118px,#50ffa7 126px,#14fee3 128px,#00daff 158px,#00a3ff 181px,#001dff 182px,#001dff 224px,#008fff 226px,#00a9ff 284px,#00e2fa 346px,#19ffde 365px,#60ff97 411px,#62ff95 413px)"></i><i style="background:linear-gradient(90deg,#ffc700 38px,#fbf100 51px,#e9ff0d 59px,#a6ff51 100px,#55ffa2 119px,#4fffa8 128px,#13fde4 130px,#00dbff 157px,#00a3ff 180px,#001fff 181px,#001fff 225px,#0090ff 226px,#00a9ff 281px,#00e2f9 345px,#19ffdd 364px,#63ff94 412px)"></i><i style="background:linear-gradient(90deg,#ffce00 40px,#f9f300 52px,#e8ff0e 60px,#a7ff4f 101px,#53ffa3 121px,#4effa9 129px,#13fde4 131px,#00dffc 155px,#00a2ff 179px,#0021ff 180px,#0021ff 225px,#0093ff 227px,#00a8ff 278px,#00d2ff 321px,#04ebf3 349px,#19ffde 362px,#63ff94 410px)"></i><i style="background:linear-gradient(90deg,#ffd100 41px,#faf200 52px,#e9ff0e 60px,#a8ff4e 102px,#52ffa5 123px,#4cffab 131px,#11fbe5 133px,#00dffc 155px,#00a1ff 178px,#0024ff 180px,#0024ff 226px,#0095ff 227px,#00a9ff 276px,#00cfff 318px,#00e2fa 337px,#07efef 350px,#1affdd 361px,#63ff94 409px)"></i><i style="background:linear-gradient(90deg,#ffd600 43px,#f8f400 53px,#e8ff0f 61px,#a9ff4e 103px,#52ffa5 124px,#4affad 133px,#10fae7 135px,#00e1fa 154px,#009cff 178px,#0026ff 179px,#0026ff 226px,#0097ff 228px,#00a4ff 272px,#00afff 277px,#00ceff 316px,#00e4f8 334px,#06edf1 348px,#19ffdd 359px,#64ff93 408px)"></i><i style="background:linear-gradient(90deg,#ffd900 44px,#f9f300 53px,#e8ff0f 61px,#a8ff4f 104px,#50ffa6 126px,#47ffb0 134px,#0ff9e7 136px,#00e1fb 154px,#00a2ff 173px,#0097ff 177px,#0029ff 178px,#0029ff 227px,#0098ff 228px,#00a8ff 271px,#00d0ff 316px,#02e8f5 333px,#06edf0 347px,#1bffdc 358px,#54ffa3 396px,#63ff94 406px)"></i><i style="background:linear-gradient(90deg,#ffe100 47px,#f5f802 55px,#e4ff13 64px,#a9ff4e 104px,#4bffac 129px,#43ffb3 136px,#0ef7e9 138px,#00e0fb 154px,#008dff 176px,#002bff 177px,#002bff 227px,#009aff 229px,#00a7ff 268px,#00d3ff 316px,#05ebf2 332px,#09f1ed 347px,#1cffdb 357px,#52ffa5 395px,#62ff94 405px)"></i><i style="background:linear-gradient(90deg,#ffe600 49px,#efff08 58px,#a9ff4e 104px,#61ff96 123px,#41ffb6 134px,#3fffb8 138px,#0cf4eb 140px,#00daff 156px,#009bff 170px,#007fff 175px,#002eff 177px,#002eff 228px,#009bff 229px,#00a7ff 266px,#00d5ff 316px,#07eef0 331px,#0ff8e8 348px,#24ffd3 360px,#54ffa3 396px,#62ff95 404px)"></i><i style="background:linear-gradient(90deg,#ffeb00 51px,#ebff0c 60px,#abff4c 103px,#6eff89 121px,#3fffb8 134px,#3bffbc 140px,#0af1ed 142px,#00d3ff 158px,#008cff 172px,#0086ff 173px,#0031ff 175px,#0031ff 228px,#009cff 230px,#00a7ff 264px,#00d8ff 316px,#09f1ee 332px,#18ffde 352px,#59ff9e 398px,#62ff95 403px)"></i><i style="background:linear-gradient(90deg,#fcef00 53px,#e9ff0e 61px,#aeff48 101px,#72ff85 121px,#3bffbc 135px,#36ffc1 142px,#08efef 143px,#00d0ff 159px,#0094ff 171px,#0033ff 173px,#0033ff 229px,#009dff 230px,#00adff 267px,#00daff 316px,#0bf4eb 334px,#22ffd5 356px,#5cff9b 399px,#5fff97 401px)"></i><i style="background:linear-gradient(90deg,#f6f601 56px,#e6ff10 64px,#b2ff45 99px,#75ff82 121px,#38ffbf 136px,#31ffc6 143px,#05ecf2 145px,#00d1ff 159px,#0093ff 172px,#0036ff 174px,#0036ff 229px,#009fff 231px,#00b2ff 276px,#00e1fb 319px,#14fee2 344px,#5fff98 400px)"></i><i style="background:linear-gradient(90deg,#f3fa04 58px,#b3ff44 98px,#73ff84 122px,#32ffc5 138px,#2affcc 145px,#02e8f5 147px,#00cdff 160px,#008eff 175px,#0063ff 176px,#0062ff 177px,#0039ff 178px,#0039ff 230px,#00a0ff 231px,#00b7ff 281px,#00e2fa 319px,#17ffdf 344px,#5fff98 399px)"></i><i style="background:linear-gradient(90deg,#f2fb04 59px,#b9ff3e 95px,#71ff86 123px,#2bffcc 140px,#23ffd3 147px,#00e4f8 149px,#00ccff 160px,#0092ff 175px,#008dff 178px,#0064ff 179px,#0064ff 180px,#003cff 181px,#003cff 230px,#00a1ff 232px,#00b4ff 277px,#00e1fa 318px,#18ffde 342px,#5fff98 398px)"></i><i style="background:linear-gradient(90deg,#f2fb05 60px,#bdff3a 93px,#6fff88 124px,#22ffd4 142px,#1bffdb 149px,#00dffc 151px,#00bfff 163px,#0092ff 177px,#008cff 182px,#003fff 184px,#003fff 231px,#00a1ff 232px,#00acff 262px,#00c4ff 291px,#00e2fa 318px,#19ffde 340px,#5fff98 397px)"></i><i style="background:linear-gradient(90deg,#f2fb05 61px,#bcff3a 93px,#68ff8f 126px,#1cffdb 143px,#13fde4 150px,#00dcfe 152px,#0092ff 179px,#008dff 185px,#0067ff 186px,#0067ff 187px,#0042ff 188px,#0042ff 230px,#00a1ff 232px,#00a3ff 249px,#00c4ff 291px,#00e2f9 318px,#18ffde 338px,#5fff98 396px)"></i><i style="background:linear-gradient(90deg,#f0fd07 63px,#c1ff36 91px,#65ff91 127px,#13fde4 145px,#09f1ee 152px,#00d6ff 154px,#0094ff 179px,#008eff 188px,#0069ff 189px,#0069ff 190px,#0045ff 191px,#0045ff 220px,#006eff 221px,#0070ff 225px,#009dff 226px,#00a6ff 246px,#009fff 249px,#00c7ff 294px,#00e2f9 318px,#19ffde 337px,#60ff97 395px)"></i><i style="background:linear-gradient(90deg,#f1fd06 64px,#c6ff31 89px,#62ff95 128px,#13fde4 144px,#01e4f8 153px,#00d9fd 155px,#00c9ff 159px,#0095ff 180px,#008eff 192px,#006bff 193px,#006bff 194px,#0048ff 195px,#0048ff 211px,#006dff 212px,#006eff 216px,#0096ff 217px,#00a6ff 244px,#009aff 246px,#00b1ff 270px,#00cdff 302px,#00e5f7 320px,#1affdd 337px,#51ffa6 382px,#60ff97 394px)"></i><i style="background:linear-gradient(90deg,#f1fc05 65px,#ccff2a 87px,#5eff98 129px,#12fbe5 144px,#00e0fb 150px,#00cfff 157px,#0097ff 180px,#008fff 195px,#006dff 196px,#006dff 197px,#004bff 198px,#004bff 201px,#006dff 202px,#006eff 206px,#0091ff 207px,#00a5ff 241px,#0094ff 243px,#00b0ff 267px,#00c1ff 292px,#00e1fa 318px,#19ffdd 336px,#50ffa7 378px,#61ff96 393px)"></i><i style="background:linear-gradient(90deg,#f3fa04 66px,#d4ff23 85px,#5bff9c 130px,#11fbe6 144px,#00defd 149px,#00c7ff 158px,#0096ff 183px,#0095ff 215px,#00a4ff 239px,#008eff 241px,#00b0ff 266px,#00bfff 292px,#00e2fa 319px,#18ffde 335px,#52ffa5 378px,#62ff95 392px)"></i><i style="background:linear-gradient(90deg,#f5f702 66px,#dcff1b 83px,#56ffa0 131px,#12fce5 144px,#00e0fb 148px,#00bfff 156px,#00bdff 160px,#00baff 164px,#0096ff 185px,#0097ff 218px,#00a3ff 237px,#0089ff 239px,#00afff 266px,#00beff 293px,#00e3f9 320px,#19ffde 335px,#55ffa2 378px,#63ff94 391px)"></i><i style="background:linear-gradient(90deg,#f7f500 67px,#e1ff15 82px,#83ff73 116px,#45ffb1 135px,#13fde4 144px,#00dffc 148px,#00b6ff 156px,#00adff 161px,#00bdff 163px,#0097ff 186px,#0097ff 219px,#00a1ff 234px,#0083ff 236px,#00adff 266px,#00baff 292px,#00e1fa 320px,#19ffde 335px,#54ffa2 375px,#65ff92 390px)"></i><i style="background:linear-gradient(90deg,#faf200 67px,#eaff0d 80px,#99ff5e 108px,#46ffb1 135px,#15ffe2 144px,#00e0fb 148px,#00abff 157px,#00a0ff 163px,#00b8ff 165px,#0097ff 188px,#0099ff 221px,#00a0ff 232px,#0080ff 234px,#008bff 245px,#00abff 264px,#00b5ff 290px,#00e1fa 321px,#19ffdd 335px,#54ffa3 372px,#66ff91 389px)"></i><i style="background:linear-gradient(90deg,#fcf000 68px,#efff08 79px,#a1ff55 105px,#46ffb1 135px,#11fbe6 145px,#00dcfe 149px,#009cff 159px,#0092ff 165px,#00b5ff 167px,#0097ff 191px,#009bff 224px,#009fff 229px,#0090ff 230px,#008fff 231px,#007fff 232px,#0081ff 243px,#00a6ff 266px,#00b6ff 293px,#00dffc 321px,#1affdd 335px,#54ffa3 370px,#68ff8f 388px)"></i><i style="background:linear-gradient(90deg,#feed00 68px,#f0fd07 79px,#a8ff4f 103px,#46ffb1 135px,#14fee3 145px,#00e0fb 149px,#0098ff 159px,#0086ff 167px,#00b2ff 169px,#0097ff 194px,#009eff 227px,#0080ff 229px,#0078ff 241px,#00a1ff 268px,#00b5ff 294px,#00daff 320px,#0bf3ec 329px,#1affdd 335px,#54ffa3 368px,#69ff8d 387px)"></i><i style="background:linear-gradient(90deg,#ffec00 69px,#f1fc06 79px,#abff4b 102px,#49ffae 134px,#11fbe5 146px,#00ddfe 150px,#0094ff 160px,#007dff 167px,#007eff 169px,#00afff 171px,#0097ff 196px,#009dff 225px,#0082ff 227px,#0072ff 241px,#009eff 271px,#00b0ff 293px,#00d8ff 320px,#07eef0 328px,#1affdd 335px,#54ffa2 366px,#6cff8b 387px)"></i><i style="background:linear-gradient(90deg,#ffea00 69px,#f0fd07 79px,#afff48 101px,#64ff93 126px,#1affdd 145px,#04eaf3 149px,#00d3ff 152px,#008aff 162px,#0078ff 168px,#007cff 171px,#00acff 173px,#0097ff 199px,#009bff 222px,#0091ff 223px,#0091ff 224px,#0084ff 225px,#006dff 240px,#009aff 274px,#00adff 293px,#00d2ff 319px,#03e9f4 327px,#1affdd 335px,#56ffa1 365px,#6eff89 386px)"></i><i style="background:linear-gradient(90deg,#ffea00 69px,#f1fc05 78px,#b3ff44 100px,#7cff7b 119px,#18ffdf 146px,#00e1fb 151px,#0086ff 163px,#0078ff 169px,#007fff 173px,#00aaff 175px,#0097ff 202px,#009bff 220px,#0086ff 222px,#0071ff 237px,#0076ff 247px,#00a9ff 293px,#00ceff 319px,#01e7f6 327px,#1affdd 335px,#58ff9e 365px,#70ff86 386px)"></i><i style="background:linear-gradient(90deg,#ffea00 69px,#effe07 78px,#b6ff41 99px,#87ff6f 116px,#11fbe6 148px,#00dffc 152px,#008bff 163px,#007aff 169px,#0083ff 175px,#00a8ff 177px,#0098ff 204px,#009bff 218px,#0088ff 220px,#0078ff 235px,#0071ff 244px,#0099ff 288px,#00cdff 320px,#00e4f8 327px,#1affdd 335px,#5bff9c 365px,#72ff85 385px)"></i><i style="background:linear-gradient(90deg,#ffed00 70px,#edff0a 78px,#b8ff3f 98px,#8fff68 114px,#10fae6 149px,#00dcfe 153px,#0098ff 162px,#0081ff 169px,#0086ff 177px,#00a7ff 179px,#0098ff 206px,#009aff 215px,#0088ff 220px,#007fff 233px,#0071ff 243px,#007cff 267px,#00bcff 314px,#00e0fb 327px,#1affdd 335px,#5dff9a 364px,#73ff84 384px)"></i><i style="background:linear-gradient(90deg,#feed00 70px,#eaff0c 78px,#bbff3b 96px,#97ff60 112px,#14fee3 149px,#00daff 154px,#00a1ff 162px,#0088ff 170px,#0085ff 179px,#00a5ff 181px,#0099ff 207px,#0096ff 214px,#0083ff 225px,#0083ff 232px,#0071ff 243px,#0073ff 266px,#00b2ff 311px,#00dcfe 327px,#0cf4eb 332px,#19ffde 335px,#5fff98 364px,#76ff81 384px)"></i><i style="background:linear-gradient(90deg,#fdee00 70px,#e8ff0f 78px,#b9ff3d 97px,#92ff64 113px,#11fae6 150px,#00dffc 154px,#00a3ff 164px,#0082ff 179px,#0081ff 181px,#00a4ff 183px,#009aff 207px,#0093ff 214px,#0080ff 229px,#0071ff 250px,#006fff 266px,#0085ff 286px,#00c6ff 322px,#00e1fa 329px,#16ffe0 335px,#5fff97 363px,#77ff80 383px)"></i><i style="background:linear-gradient(90deg,#feee00 70px,#eaff0d 77px,#b9ff3e 97px,#91ff66 113px,#12fbe5 150px,#00defd 155px,#00a8ff 166px,#007fff 181px,#007fff 182px,#00a3ff 184px,#009aff 206px,#0097ff 213px,#0079ff 230px,#006aff 265px,#007eff 281px,#0090ff 297px,#00ccff 325px,#00e2fa 330px,#18ffdf 336px,#5fff98 362px,#7aff7d 383px)"></i><i style="background:linear-gradient(90deg,#feed00 70px,#e9ff0e 77px,#b6ff41 98px,#8cff6b 114px,#13fde4 150px,#00dffc 156px,#0083ff 180px,#0082ff 184px,#00a2ff 186px,#009bff 206px,#00a3ff 209px,#0072ff 230px,#006eff 256px,#006bff 266px,#007bff 281px,#0086ff 295px,#00c8ff 325px,#00e4f8 331px,#1affdd 337px,#5eff98 361px,#7cff7a 383px)"></i><i style="background:linear-gradient(90deg,#ffec00 70px,#e9ff0d 77px,#b1ff46 100px,#7aff7c 118px,#11fae6 151px,#00ddfe 158px,#0087ff 182px,#008cff 186px,#00a1ff 188px,#009bff 204px,#00adff 206px,#006eff 231px,#0077ff 247px,#006cff 265px,#007aff 280px,#007bff 291px,#00a9ff 312px,#00c5ff 325px,#00e2f9 331px,#18ffde 337px,#5bff9b 359px,#7eff79 382px)"></i><i style="background:linear-gradient(90deg,#ffea00 70px,#edff09 76px,#83ff74 115px,#13fde4 151px,#00defd 160px,#00aaff 175px,#0090ff 183px,#009fff 191px,#009cff 201px,#00b6ff 203px,#0091ff 218px,#0079ff 226px,#0076ff 234px,#0078ff 252px,#006fff 265px,#007bff 279px,#0077ff 290px,#00a5ff 309px,#00b8ff 322px,#00e2f9 331px,#18ffdf 337px,#5dff9a 359px,#80ff76 382px)"></i><i style="background:linear-gradient(90deg,#ffe800 70px,#ecff0b 77px,#76ff81 118px,#12fbe5 152px,#00defd 163px,#00afff 177px,#009dff 184px,#00a4ff 191px,#009dff 199px,#00bdff 201px,#009eff 216px,#0080ff 225px,#0080ff 240px,#0073ff 265px,#007fff 278px,#0073ff 289px,#00a4ff 307px,#00b3ff 321px,#00e3f9 331px,#18ffdf 337px,#5eff99 359px,#82ff75 381px)"></i><i style="background:linear-gradient(90deg,#ffe500 70px,#eeff09 77px,#16ffe1 151px,#00dffc 167px,#00a9ff 184px,#00aeff 192px,#00a0ff 195px,#009fff 197px,#00c4ff 199px,#00a8ff 215px,#0086ff 227px,#007fff 256px,#007bff 265px,#0085ff 278px,#0079ff 289px,#00a6ff 306px,#00b0ff 321px,#00dffc 330px,#19ffde 337px,#60ff97 359px,#84ff72 381px)"></i><i style="background:linear-gradient(90deg,#ffe100 70px,#f1fc06 77px,#22ffd4 146px,#0ef7e8 156px,#00dcfe 171px,#00b3ff 186px,#00b5ff 194px,#42d0b9 195px,#00cbff 196px,#00b1ff 215px,#008fff 228px,#0086ff 266px,#008cff 278px,#0084ff 289px,#00acff 307px,#00b1ff 321px,#00e2fa 330px,#16ffe0 336px,#5fff98 358px,#87ff70 381px)"></i><i style="background:linear-gradient(90deg,#ffdc00 70px,#f5f802 77px,#d7ff20 86px,#38ffbf 138px,#10f9e7 157px,#00e2f9 172px,#00bdff 187px,#00bbff 192px,#84ff73 194px,#84ff73 196px,#00ceff 198px,#00b8ff 216px,#0097ff 230px,#008fff 265px,#0096ff 277px,#0090ff 289px,#00b4ff 309px,#00b9ff 321px,#00e0fb 329px,#19ffde 336px,#63ff93 359px,#88ff6e 380px)"></i><i style="background:linear-gradient(90deg,#ffd600 70px,#faf200 77px,#e6ff11 83px,#69ff8e 120px,#17ffe0 153px,#02e8f5 173px,#00cdff 183px,#00c2ff 190px,#84ff73 192px,#83ff74 198px,#00d2ff 200px,#00c3ff 216px,#00a1ff 230px,#0098ff 264px,#00a1ff 276px,#009cff 289px,#00bcff 310px,#00c3ff 321px,#00e1fb 328px,#17ffdf 335px,#68ff8f 360px,#8bff6c 380px)"></i><i style="background:linear-gradient(90deg,#ffcf00 70px,#f9f300 79px,#e3ff13 85px,#76ff81 115px,#19ffde 152px,#0af2ed 172px,#00d5ff 183px,#00cbff 188px,#84ff73 190px,#82ff75 200px,#00d7ff 201px,#00cdff 216px,#00abff 230px,#00a1ff 263px,#00adff 274px,#00a7ff 288px,#00c6ff 312px,#00d3ff 323px,#08f0ee 330px,#1bffdc 335px,#6dff8a 361px,#8eff69 380px)"></i><i style="background:linear-gradient(90deg,#ffc800 70px,#f8f400 81px,#e4ff12 86px,#8eff69 107px,#1affdd 152px,#0ef7e9 173px,#00dbfe 183px,#00d5ff 186px,#84ff73 188px,#82ff75 201px,#00dbfe 203px,#00d7ff 216px,#00b4ff 231px,#00aaff 263px,#00b9ff 273px,#00b0ff 286px,#00d0ff 313px,#00e0fb 324px,#18ffdf 333px,#72ff85 362px,#8fff67 379px)"></i><i style="background:linear-gradient(90deg,#ffc000 70px,#fcf000 82px,#e6ff11 87px,#80ff77 111px,#1cffda 152px,#10f9e7 174px,#00defc 184px,#86ff71 186px,#81ff75 202px,#82ff75 203px,#00e0fb 205px,#00dbff 217px,#00baff 233px,#00b2ff 263px,#00bdff 274px,#00bbff 287px,#00d0ff 302px,#01e6f6 323px,#19ffde 332px,#7aff7d 364px,#92ff65 379px)"></i><i style="background:linear-gradient(90deg,#ffb800 70px,#fcf000 84px,#e8ff0e 88px,#82ff75 110px,#1fffd8 152px,#13fde4 174px,#02e8f5 182px,#87ff6f 184px,#7fff78 200px,#83ff74 205px,#00e5f7 207px,#00dbfe 219px,#00beff 238px,#00b9ff 264px,#00c0ff 278px,#00d0ff 293px,#04ebf2 321px,#1bffdc 331px,#81ff76 366px,#95ff62 379px)"></i><i style="background:linear-gradient(90deg,#ffb000 70px,#ffc100 76px,#ffe100 82px,#faf200 86px,#e9ff0d 89px,#82ff75 110px,#21ffd6 153px,#18ffde 172px,#09f1ed 180px,#8aff6d 182px,#7eff79 199px,#85ff72 207px,#03eaf3 209px,#00d5ff 225px,#00c0ff 247px,#00c3ff 270px,#00d3ff 291px,#09f1ee 319px,#20ffd7 331px,#87ff70 367px,#97ff60 378px)"></i><i style="background:linear-gradient(90deg,#ffa900 70px,#ffba00 76px,#ffdb00 81px,#feed00 86px,#e8ff0f 90px,#83ff74 110px,#23ffd4 153px,#1effd9 170px,#10f9e7 178px,#8cff6a 180px,#7eff78 199px,#88ff6f 209px,#06edf0 210px,#00cdff 235px,#00c2ff 262px,#00daff 291px,#08efef 310px,#22ffd5 330px,#8fff68 369px,#9aff5d 378px)"></i><i style="background:linear-gradient(90deg,#ffa600 71px,#ffc500 78px,#fbf100 87px,#eaff0d 90px,#86ff70 110px,#24ffd3 154px,#1cffdb 172px,#16ffe1 176px,#8fff68 178px,#7fff78 199px,#8aff6d 210px,#09f0ee 212px,#00ceff 238px,#00c6ff 267px,#01e7f6 300px,#1affdd 323px,#50ffa7 345px,#94ff63 370px,#9cff5a 378px)"></i><i style="background:linear-gradient(90deg,#ffa200 71px,#fbf000 87px,#eaff0c 90px,#8bff6c 110px,#25ffd1 154px,#1affdc 174px,#92ff65 176px,#81ff76 199px,#8dff6a 212px,#0bf3ec 214px,#00cfff 240px,#00cdff 253px,#00ccff 274px,#01e6f6 293px,#1affdd 319px,#47ffb0 341px,#91ff66 367px,#9fff58 378px)"></i><i style="background:linear-gradient(90deg,#ff9e00 71px,#ffdd00 84px,#fbf100 87px,#e9ff0e 90px,#90ff66 110px,#27ffd0 154px,#1fffd8 172px,#95ff62 174px,#83ff74 199px,#90ff67 214px,#0df5ea 216px,#00d9ff 237px,#00ccff 249px,#00d1ff 259px,#00ccff 273px,#00e5f7 285px,#0bf4eb 305px,#1bffdb 316px,#47ffb0 340px,#85ff72 361px,#a2ff55 378px)"></i><i style="background:linear-gradient(90deg,#ff9e00 72px,#ffc000 80px,#faf200 87px,#e7ff10 90px,#8cff6a 113px,#23ffd4 157px,#22ffd5 170px,#97ff60 172px,#85ff72 198px,#93ff64 216px,#0ef7e8 218px,#00e1fa 235px,#00cbff 248px,#00d8ff 257px,#00cbff 272px,#00e5f7 283px,#06edf1 290px,#08f0ee 302px,#1affdd 312px,#4dffaa 341px,#81ff76 358px,#a4ff53 378px)"></i><i style="background:linear-gradient(90deg,#ff9300 72px,#ffa300 77px,#fbf100 87px,#e5ff12 90px,#83ff74 118px,#2affcd 156px,#25ffd2 168px,#99ff5e 170px,#87ff70 197px,#95ff62 218px,#10fae7 220px,#00e3f9 236px,#00caff 248px,#00d9ff 257px,#00c9ff 272px,#01e6f6 282px,#06ecf1 290px,#07eef0 301px,#1affdd 310px,#52ffa5 342px,#81ff76 356px,#a5ff51 377px)"></i><i style="background:linear-gradient(90deg,#ff8600 72px,#ff9000 76px,#fdee00 87px,#e9ff0d 90px,#87ff70 118px,#38ffbf 151px,#28ffcf 166px,#9bff5c 168px,#8fff68 185px,#89ff6e 198px,#97ff60 220px,#12fce5 221px,#00e2fa 238px,#00c8ff 248px,#00d8ff 258px,#00c7ff 272px,#00e5f7 280px,#04eaf3 290px,#00e3f9 297px,#19ffde 308px,#57ffa0 343px,#82ff75 355px,#9dff5a 371px,#a6ff50 377px)"></i><i style="background:linear-gradient(90deg,#ff7a00 72px,#ff8900 77px,#faf200 88px,#e9ff0d 91px,#8eff69 117px,#41ffb6 148px,#2cffca 164px,#9cff5b 166px,#97ff60 181px,#89ff6d 194px,#99ff5d 221px,#13fee3 223px,#00e0fb 240px,#00c5ff 247px,#00d9ff 258px,#00c5ff 272px,#00e6f6 279px,#02e8f5 290px,#00dbff 296px,#10f9e7 304px,#2cffcb 317px,#5bff9c 344px,#85ff72 356px,#9bff5b 371px,#a6ff51 377px)"></i><i style="background:linear-gradient(90deg,#ff6e00 72px,#ff7200 76px,#ff9a00 80px,#ffde00 86px,#f2fb04 90px,#b5ff41 106px,#5aff9c 137px,#32ffc5 162px,#9dff5a 164px,#9cff5b 179px,#8cff6b 193px,#9bff5b 223px,#14ffe2 225px,#00e1fb 241px,#00cfff 248px,#00daff 260px,#00ccff 272px,#01e6f6 279px,#03eaf3 289px,#00e2f9 297px,#18ffdf 306px,#3affbd 325px,#62ff95 345px,#89ff6e 358px,#a6ff51 377px)"></i><i style="background:linear-gradient(90deg,#ff6400 72px,#ff6400 76px,#ff8200 79px,#ffd200 85px,#faf100 89px,#e8ff0f 93px,#b6ff41 107px,#62ff95 135px,#37ffbf 160px,#9eff59 162px,#a0ff57 178px,#90ff67 193px,#9eff59 224px,#9eff59 225px,#15ffe2 227px,#00dbfe 246px,#00daff 264px,#00d7ff 273px,#06edf1 284px,#02e9f4 297px,#1affdd 306px,#65ff92 345px,#8eff69 360px,#a5ff52 377px)"></i><i style="background:linear-gradient(90deg,#ff5d00 73px,#ff5f00 76px,#ff7e00 79px,#ffd000 85px,#fcf000 89px,#e9ff0e 93px,#89ff6e 121px,#49ffae 149px,#3cffbb 158px,#9fff58 160px,#a0ff57 181px,#97ff60 195px,#a0ff57 227px,#16ffe1 229px,#00e3f9 250px,#00defd 273px,#08efef 286px,#09f1ee 298px,#1dffda 306px,#67ff90 345px,#91ff66 361px,#a5ff52 377px)"></i><i style="background:linear-gradient(90deg,#ff5f00 73px,#ff6300 76px,#ffa000 81px,#ffda00 86px,#f7f500 90px,#e5ff12 94px,#72ff85 130px,#41ffb6 156px,#a0ff57 158px,#a2ff55 185px,#a1ff56 206px,#a2ff54 229px,#17ffe0 231px,#01e6f7 263px,#03e9f4 276px,#0ff8e8 299px,#2bffcc 311px,#67ff90 344px,#94ff63 362px,#a5ff52 377px)"></i><i style="background:linear-gradient(90deg,#ff6600 73px,#ff7a00 77px,#ffdc00 86px,#f3fa04 91px,#97ff5f 117px,#57ffa0 144px,#46ffb1 154px,#a1ff56 156px,#a8ff4f 186px,#a5ff52 231px,#19ffde 233px,#05ecf2 273px,#15ffe1 300px,#6cff8b 345px,#97ff60 363px,#a5ff52 377px)"></i><i style="background:linear-gradient(90deg,#ff6d00 73px,#ff9800 79px,#ffde00 86px,#f3fa04 91px,#94ff62 118px,#57ffa0 145px,#4bffab 152px,#a2ff55 154px,#b1ff46 185px,#a8ff4f 233px,#1bffdc 235px,#0df6ea 258px,#0ef7e9 279px,#19ffdd 300px,#6dff89 345px,#99ff5e 364px,#a5ff52 377px)"></i><i style="background:linear-gradient(90deg,#ff6f00 73px,#ffae00 81px,#ffe900 88px,#eaff0c 93px,#86ff70 123px,#51ffa6 150px,#a3ff54 152px,#baff3d 184px,#aaff4c 235px,#1dffda 237px,#11fae6 276px,#1effd9 300px,#6cff8a 344px,#9aff5d 364px,#a6ff51 378px)"></i><i style="background:linear-gradient(90deg,#ff6d00 73px,#ffb600 82px,#f9f300 90px,#ebff0c 93px,#8cff6b 121px,#56ffa1 148px,#a4ff53 150px,#c5ff32 182px,#b9ff3e 213px,#adff4a 237px,#20ffd7 239px,#17ffe0 280px,#22ffd5 300px,#6eff89 344px,#9bff5c 364px,#a6ff51 378px)"></i><i style="background:linear-gradient(90deg,#ff6900 73px,#ffa800 81px,#faf200 90px,#e7ff10 94px,#89ff6e 122px,#5bff9c 146px,#a6ff51 148px,#b7ff40 163px,#cfff28 178px,#b0ff47 239px,#23ffd3 241px,#1bffdb 289px,#5cff9b 335px,#9bff5c 364px,#a6ff51 378px)"></i><i style="background:linear-gradient(90deg,#ff6200 73px,#ff8f00 79px,#ffe400 88px,#f0fd06 92px,#9aff5d 116px,#69ff8e 138px,#5fff97 144px,#a8ff4f 146px,#b7ff3f 161px,#d9ff1e 176px,#d5ff22 189px,#b2ff45 241px,#27ffd0 243px,#21ffd6 292px,#6cff8b 342px,#9bff5c 364px,#a6ff51 378px)"></i><i style="background:linear-gradient(90deg,#ff5a00 73px,#ff7b00 78px,#ffdc00 87px,#f6f701 91px,#dfff18 96px,#86ff71 123px,#62ff95 143px,#aaff4d 144px,#b6ff40 159px,#e3ff13 175px,#e4ff13 188px,#b5ff42 242px,#2affcd 244px,#25ffd2 292px,#6fff88 343px,#9cff5b 365px,#a6ff51 378px)"></i><i style="background:linear-gradient(90deg,#ff4f00 73px,#ff6100 77px,#ffa000 82px,#ffdd00 87px,#f6f701 91px,#e3ff13 95px,#8bff6c 121px,#66ff91 141px,#adff4a 143px,#baff3d 159px,#edfe0a 174px,#f2fb04 187px,#b7ff3f 244px,#2dffc9 246px,#29ffce 292px,#70ff87 343px,#9dff5a 366px,#a6ff51 378px)"></i><i style="background:linear-gradient(90deg,#ff4200 73px,#ff4a00 77px,#ff7100 80px,#ffd400 86px,#f7f600 91px,#e4ff13 95px,#8dff69 120px,#6aff8d 139px,#afff47 141px,#beff39 159px,#f3f903 172px,#feea00 184px,#eaff0d 205px,#c9ff2e 230px,#baff3d 246px,#31ffc6 248px,#2dffca 292px,#73ff84 344px,#9eff59 368px,#a6ff51 379px)"></i><i style="background:linear-gradient(90deg,#ff3200 74px,#ff3400 77px,#ff4e00 79px,#ffbf00 85px,#feee00 90px,#e9ff0e 94px,#99ff5e 116px,#74ff82 132px,#6dff89 137px,#b2ff45 139px,#c5ff32 159px,#f1fc06 168px,#ffe500 175px,#ffdf00 190px,#eefe08 209px,#d1ff26 227px,#bcff3a 248px,#34ffc3 250px,#30ffc7 271px,#31ffc6 292px,#74ff83 344px,#9eff59 369px,#a6ff51 379px)"></i><i style="background:linear-gradient(90deg,#ff2c00 74px,#ff3000 77px,#ff5b00 80px,#ffb800 85px,#ffeb00 90px,#eaff0d 94px,#9dff5a 115px,#74ff83 133px,#71ff86 135px,#b5ff42 137px,#d2ff24 159px,#f3fa04 166px,#ffe100 172px,#ffd200 184px,#ffd800 193px,#f8f501 209px,#e3ff13 218px,#bfff38 250px,#38ffbf 252px,#35ffc2 291px,#76ff81 345px,#9fff58 371px,#a6ff51 379px)"></i><i style="background:linear-gradient(90deg,#ff3000 74px,#ff3800 77px,#ff5f00 80px,#ffb500 85px,#ffe900 90px,#ebff0c 94px,#a0ff57 114px,#75ff82 133px,#b8ff3e 135px,#c5ff32 147px,#e9ff0e 161px,#fded00 166px,#ffcd00 176px,#ffcd00 192px,#fbf100 211px,#eaff0c 218px,#c2ff35 252px,#3bffbb 254px,#39ffbd 291px,#77ff80 345px,#9fff58 372px,#a6ff51 379px)"></i><i style="background:linear-gradient(90deg,#ff3a00 74px,#ff4700 77px,#ff7a00 81px,#ffcd00 87px,#fcf000 91px,#ebff0c 94px,#a4ff53 113px,#7aff7d 131px,#bcff3a 133px,#c5ff32 144px,#f3fa04 160px,#ffe000 166px,#ffc300 176px,#ffca00 193px,#ffe100 209px,#effe07 219px,#c6ff31 252px,#c4ff32 254px,#3fffb8 256px,#3dffba 290px,#78ff7f 345px,#a3ff54 376px,#a6ff50 379px)"></i><i style="background:linear-gradient(90deg,#ff4500 74px,#ff5f00 78px,#ffd800 88px,#f6f601 92px,#e2ff15 96px,#99ff5d 117px,#7fff78 129px,#c0ff37 131px,#cdff2a 144px,#f3f903 156px,#ffdc00 164px,#ffbb00 175px,#ffcc00 196px,#ffd600 208px,#f8f400 217px,#e1ff15 235px,#ceff29 249px,#c7ff30 256px,#42ffb5 258px,#41ffb6 289px,#77ff80 344px,#a9ff4e 380px)"></i><i style="background:linear-gradient(90deg,#ff4c00 74px,#ff7100 79px,#ffd400 87px,#fbf100 91px,#e7ff10 95px,#a0ff57 115px,#84ff73 127px,#c2ff34 129px,#dbff1c 145px,#f3fa04 152px,#ffe000 159px,#ffb400 174px,#ffd700 209px,#fcf000 219px,#eefe09 233px,#d3ff24 249px,#c9ff2e 258px,#45ffb2 260px,#49ffae 295px,#7fff78 348px,#aaff4d 380px)"></i><i style="background:linear-gradient(90deg,#ff4e00 74px,#ff7d00 80px,#ffd600 87px,#fbf100 91px,#e7ff10 95px,#a1ff56 115px,#8aff6d 125px,#c4ff33 127px,#eaff0c 146px,#ffe800 153px,#ffc700 164px,#ffb200 175px,#ffdc00 211px,#feed00 226px,#effe08 236px,#cbff2c 260px,#47ffb0 262px,#50ffa7 303px,#86ff71 352px,#acff4b 380px)"></i><i style="background:linear-gradient(90deg,#ff4d00 74px,#ff6e00 79px,#ffd200 87px,#fcf000 91px,#e8ff0f 95px,#a2ff54 115px,#90ff67 123px,#c5ff32 125px,#f3fa04 145px,#ffdb00 153px,#ffc300 160px,#ffb600 177px,#ffe700 225px,#feed00 233px,#eaff0d 241px,#ccff2b 262px,#4affad 264px,#52ffa5 302px,#87ff70 352px,#aeff49 380px)"></i><i style="background:linear-gradient(90deg,#ff4b00 74px,#ff6700 79px,#ffce00 87px,#f7f500 92px,#e8ff0e 95px,#a6ff51 114px,#95ff61 121px,#c7ff30 123px,#d8ff1f 132px,#f4f903 141px,#ffdc00 150px,#ffbb00 159px,#ffbe00 180px,#ffe200 221px,#ffe200 232px,#ecff0b 243px,#cdff2a 264px,#4effa9 265px,#54ffa3 301px,#89ff6e 352px,#b2ff45 381px)"></i><i style="background:linear-gradient(90deg,#ff4800 74px,#ff6900 79px,#ffd500 88px,#f8f400 92px,#e9ff0e 95px,#a7ff4f 114px,#9bff5b 119px,#ccff2b 121px,#ccff2a 127px,#f3fa04 137px,#ffe000 145px,#ffbb00 160px,#ffc900 184px,#ffdb00 207px,#ffe400 233px,#ebff0b 247px,#cfff28 265px,#51ffa6 267px,#5aff9d 304px,#8aff6d 351px,#b5ff42 381px)"></i><i style="background:linear-gradient(90deg,#ff4400 74px,#ff6600 79px,#ffd600 88px,#f8f400 92px,#eaff0d 95px,#a9ff4e 114px,#9fff57 118px,#d3ff24 120px,#ccff2b 126px,#f2fc05 134px,#ffe100 140px,#ffbf00 160px,#ffd700 190px,#ffdf00 208px,#ffe600 234px,#ecff0a 250px,#d0ff27 267px,#55ffa2 269px,#60ff97 307px,#8bff6c 350px,#b8ff3f 381px)"></i><i style="background:linear-gradient(90deg,#ff3c00 74px,#ff5200 78px,#ffce00 87px,#f8f400 92px,#eaff0d 95px,#aaff4c 114px,#a6ff51 116px,#ddff1a 118px,#d6ff21 126px,#f3fa04 132px,#ffe000 137px,#ffc900 145px,#ffc600 163px,#ffe700 202px,#ffe200 221px,#ffec00 238px,#eaff0d 255px,#d3ff23 267px,#d3ff24 269px,#59ff9e 271px,#67ff90 311px,#8bff6c 348px,#b5ff41 375px,#bbff3b 381px)"></i><i style="background:linear-gradient(90deg,#ff3100 74px,#ff3900 77px,#ff5c00 80px,#ffc400 86px,#ffe800 90px,#ebff0c 95px,#acff4b 114px,#e6ff11 116px,#e8ff0e 127px,#ffe900 133px,#ffbf00 142px,#ffdb00 177px,#fcf000 201px,#ffe400 218px,#f9f300 246px,#e9ff0e 258px,#d8ff1f 265px,#d6ff20 271px,#5dff9a 273px,#6eff88 317px,#8eff69 348px,#baff3c 373px,#c1ff36 382px)"></i><i style="background:linear-gradient(90deg,#ff2700 74px,#ff2a00 77px,#ff4f00 80px,#ffc300 86px,#ffe800 90px,#ebff0c 95px,#b3ff44 112px,#edff09 114px,#f7f602 127px,#ffce00 136px,#ffb200 142px,#ffe900 179px,#f4f903 201px,#ffe900 218px,#f8f400 254px,#e1ff16 263px,#daff1d 273px,#61ff96 275px,#75ff82 322px,#96ff61 351px,#c3ff34 372px,#c3ff34 380px,#c6ff31 382px)"></i><i style="background:linear-gradient(90deg,#ff2200 75px,#ff2d00 78px,#ff5e00 81px,#ffbd00 86px,#ffe600 90px,#ecff0b 95px,#b9ff3d 110px,#f3f903 112px,#ffe300 128px,#ffad00 142px,#ffe300 165px,#f3f903 186px,#ecff0a 201px,#fcef00 218px,#fbf000 256px,#e7ff10 264px,#ddff1a 275px,#65ff92 277px,#7aff7d 324px,#9cff5b 352px,#cdff29 372px,#c9ff2d 380px,#ccff2b 382px)"></i><i style="background:linear-gradient(90deg,#ff2a00 75px,#ff3600 78px,#ff6300 81px,#ffbb00 86px,#ffeb00 91px,#ecff0b 95px,#c0ff36 108px,#f8f400 110px,#ffc900 133px,#ffb300 142px,#f9f300 167px,#ecff0b 180px,#e6ff11 201px,#f6f601 220px,#ffe800 256px,#ebff0b 265px,#dfff18 277px,#69ff8e 279px,#7eff79 325px,#9eff59 351px,#dbff1c 373px,#d2ff24 382px,#d3ff24 383px)"></i><i style="background:linear-gradient(90deg,#ff3600 75px,#ff4f00 79px,#ffc700 87px,#fbf000 92px,#e9ff0e 96px,#c7ff2f 106px,#fcf000 108px,#ffda00 120px,#ffb900 140px,#ffce00 149px,#faf200 162px,#e6ff10 171px,#dfff18 199px,#f1fd06 221px,#ffe200 256px,#edff09 267px,#e1ff16 279px,#6dff8a 281px,#81ff76 324px,#a2ff55 351px,#e9ff0e 373px,#d9ff1e 381px,#d9ff1e 383px)"></i><i style="background:linear-gradient(90deg,#ff4000 75px,#ff5d00 79px,#ffc800 87px,#fcf000 92px,#eaff0d 96px,#cfff28 104px,#ffe900 106px,#ffe500 113px,#ffbd00 127px,#ffc400 143px,#f9f300 158px,#e5ff12 167px,#d6ff21 176px,#e3ff14 207px,#f4f903 231px,#ffe300 256px,#edff0a 271px,#e3ff14 281px,#71ff86 283px,#83ff74 323px,#a6ff51 351px,#eaff0d 373px,#dfff18 384px)"></i><i style="background:linear-gradient(90deg,#ff4600 75px,#ff7100 80px,#ffd500 88px,#f7f500 93px,#e7ff10 97px,#d3ff23 103px,#ffdf00 104px,#ffe800 110px,#ffb100 126px,#ffd300 145px,#f7f501 154px,#e2ff15 163px,#ceff28 176px,#e2ff15 211px,#f4f903 235px,#ffe800 257px,#ecff0b 276px,#e5ff12 283px,#75ff82 285px,#85ff72 321px,#a9ff4e 351px,#e5ff12 370px,#e4ff13 384px)"></i><i style="background:linear-gradient(90deg,#ff4900 75px,#ff6700 79px,#ffd800 88px,#f8f400 93px,#e8ff0f 97px,#dbff1c 101px,#ffd600 103px,#ffdf00 110px,#ffa500 126px,#ffe600 147px,#ebff0b 154px,#ccff2b 171px,#d7ff20 205px,#f3f903 238px,#ffeb00 257px,#eaff0d 281px,#e7ff0f 284px,#78ff7e 286px,#86ff71 319px,#acff4b 351px,#e3ff14 367px,#e8ff0e 385px)"></i><i style="background:linear-gradient(90deg,#ff4a00 75px,#ff6800 79px,#ffd600 88px,#f9f300 93px,#e6ff10 98px,#e3ff14 99px,#ffcb00 101px,#ffcf00 111px,#ffa600 126px,#faf200 147px,#e7ff10 152px,#d0ff27 160px,#c5ff32 180px,#ebff0c 233px,#fcef00 257px,#effe07 278px,#e9ff0e 286px,#7cff7b 288px,#86ff70 316px,#afff48 351px,#e6ff11 365px,#edff0a 385px)"></i><i style="background:linear-gradient(90deg,#ff4b00 75px,#ff7400 80px,#ffd000 88px,#fbf000 93px,#ecff0b 97px,#ffc300 99px,#ffbd00 115px,#ffae00 126px,#fcf000 144px,#e7ff10 149px,#c7ff30 160px,#c1ff36 183px,#f3fa04 246px,#f6f601 261px,#f6f701 275px,#ecff0b 288px,#7fff77 290px,#8bff6b 318px,#b4ff43 351px,#edff0a 365px,#e4ff13 375px,#f1fc05 386px)"></i><i style="background:linear-gradient(90deg,#ff4a00 75px,#ff7100 80px,#ffcc00 88px,#f9f200 94px,#f5f701 95px,#ffbc00 97px,#ffb600 126px,#f9f300 142px,#e4ff13 147px,#c1ff36 158px,#bdff3a 184px,#f3fa04 250px,#f8f400 268px,#f9f300 274px,#effe08 287px,#eeff09 290px,#83ff74 292px,#92ff64 322px,#b6ff41 350px,#f0fd07 363px,#f2fa04 367px,#e4ff12 374px,#f5f802 384px,#f6f701 386px)"></i><i style="background:linear-gradient(90deg,#ff4500 75px,#ff5d00 79px,#ffca00 88px,#ffeb00 93px,#ffb600 95px,#ffae00 113px,#ffc100 127px,#faf200 139px,#e1ff16 145px,#bdff3a 155px,#b7ff40 181px,#f1fc06 259px,#faf200 273px,#f1fc06 284px,#f0fd06 292px,#86ff71 294px,#9bff5c 327px,#baff3c 350px,#f2fb04 363px,#f5f802 368px,#f4f803 376px,#faf200 386px)"></i><i style="background:linear-gradient(90deg,#ff3c00 75px,#ff4e00 79px,#ffbf00 87px,#ffe000 91px,#ffae00 93px,#ffb000 100px,#ffa100 110px,#ffce00 128px,#f9f300 136px,#e4ff13 142px,#b4ff43 154px,#b5ff42 185px,#edff0a 259px,#f3f903 275px,#f3fa04 285px,#f2fb05 294px,#89ff6e 296px,#a5ff52 334px,#c4ff33 352px,#f4f903 364px,#ffeb00 381px,#feed00 386px)"></i><i style="background:linear-gradient(90deg,#ff3400 75px,#ff3400 78px,#ff5b00 81px,#ffc000 87px,#ffd400 89px,#ffa400 91px,#ffb100 97px,#ff9a00 110px,#ffde00 129px,#f1fc05 135px,#acff4b 153px,#b6ff41 192px,#e9ff0d 259px,#f4f903 284px,#f2fb05 296px,#8cff6a 298px,#aeff49 339px,#d0ff27 355px,#f2fb05 364px,#ffe000 375px,#ffe100 380px,#ffea00 387px)"></i><i style="background:linear-gradient(90deg,#ff3400 75px,#ff3200 78px,#ff5700 81px,#ffc100 87px,#ff9900 89px,#ffa900 97px,#ff9f00 110px,#ffdf00 127px,#edfe09 133px,#a7ff4f 153px,#b3ff44 192px,#e6ff11 260px,#f3f903 283px,#f7f500 293px,#f1fc06 298px,#90ff67 300px,#b6ff41 343px,#dfff18 359px,#f3f903 365px,#ffe300 372px,#ffce00 377px,#ffe700 385px,#ffe600 387px)"></i><i style="background:linear-gradient(90deg,#ff3c00 75px,#ff3e00 78px,#ff5d00 81px,#ffae00 86px,#ff8f00 87px,#ffa600 110px,#ffe600 126px,#eaff0d 131px,#b1ff46 147px,#a1ff55 158px,#c0ff37 214px,#e1ff15 260px,#f1fc06 282px,#fbf000 290px,#eeff09 300px,#94ff63 302px,#beff39 346px,#f2fb04 365px,#ffe400 371px,#ffd100 377px,#ffe300 385px,#ffe200 388px)"></i><i style="background:linear-gradient(90deg,#ff4b00 75px,#ff5500 79px,#ff8f00 84px,#ff9100 85px,#ff8800 86px,#ff9700 100px,#ffbd00 114px,#fcef00 125px,#ecff0b 128px,#b3ff44 143px,#9eff59 158px,#c0ff37 218px,#ddff19 261px,#eaff0d 280px,#fdee00 288px,#ebff0c 302px,#98ff5f 304px,#c3ff34 348px,#f2fb05 365px,#ffe300 371px,#ffd700 378px,#ffde00 388px)"></i><i style="background:linear-gradient(90deg,#ff5b00 75px,#ff7200 81px,#ff8200 83px,#ff9a00 101px,#ffd600 118px,#f7f501 124px,#e2ff14 128px,#bdff3a 137px,#9cff5b 155px,#b0ff47 200px,#d9ff1e 260px,#e4ff12 280px,#f5f802 285px,#fcef00 289px,#eaff0d 301px,#e8ff0f 304px,#9cff5b 306px,#cbff2c 351px,#f2fc05 365px,#ffe200 371px,#ffd800 378px,#ffda00 389px)"></i><i style="background:linear-gradient(90deg,#ff6500 75px,#ff7000 77px,#ff6e00 80px,#ff7c00 83px,#ffa000 102px,#fcf000 121px,#e9ff0e 125px,#b8ff3f 136px,#99ff5e 155px,#adff4a 199px,#d5ff22 260px,#dcff1a 280px,#f6f601 288px,#e5ff11 305px,#e5ff11 306px,#a0ff56 308px,#ceff29 352px,#f2fb05 365px,#ffde00 371px,#ffd400 376px,#ffd600 389px)"></i><i style="background:linear-gradient(90deg,#ff6500 75px,#ff6300 79px,#ff7600 80px,#ff9300 96px,#ffdc00 115px,#f7f501 120px,#e5ff12 124px,#b2ff45 136px,#97ff60 155px,#aaff4c 199px,#d1ff26 260px,#d5ff22 280px,#effe08 289px,#e5ff12 308px,#a5ff52 310px,#d2ff25 353px,#f1fc06 364px,#ffe800 369px,#ffcc00 373px,#ffd300 387px,#ffd100 390px)"></i><i style="background:linear-gradient(90deg,#ff6200 75px,#ff6b00 78px,#ff7400 81px,#ff8a00 92px,#ffcb00 109px,#fcf000 117px,#e5ff11 122px,#aeff49 136px,#94ff63 156px,#afff48 208px,#cdff29 261px,#d5ff22 281px,#e8ff0f 290px,#e5ff11 309px,#e6ff11 310px,#aaff4d 312px,#d5ff22 353px,#f1fc06 363px,#ffdd00 369px,#ffc100 372px,#ffd200 384px,#ffcd00 390px)"></i><i style="background:linear-gradient(90deg,#ff6000 75px,#ff7100 78px,#ff8100 89px,#ffd000 108px,#f7f501 116px,#e1ff16 121px,#acff4b 135px,#93ff64 155px,#a8ff4f 201px,#caff2d 260px,#d3ff24 281px,#e2ff15 291px,#e5ff12 308px,#e8ff0f 312px,#aeff48 314px,#d6ff21 352px,#f1fc06 362px,#ffde00 368px,#ffc100 373px,#ffce00 384px,#ffc800 390px)"></i><i style="background:linear-gradient(90deg,#ff6500 74px,#ff6f00 77px,#ff8000 88px,#fdee00 112px,#eaff0d 117px,#aaff4d 134px,#91ff66 154px,#a3ff54 196px,#c7ff30 260px,#d1ff26 281px,#ddff1a 294px,#eaff0c 314px,#b3ff44 316px,#daff1d 352px,#f1fc06 361px,#ffe100 367px,#ffc300 374px,#ffc400 389px,#ffc200 391px)"></i><i style="background:linear-gradient(90deg,#ff6c00 74px,#ff8800 88px,#fbf000 110px,#e7ff10 115px,#a6ff51 134px,#8fff68 155px,#a6ff51 203px,#c5ff32 262px,#d2ff25 283px,#edff09 316px,#b8ff3f 318px,#dcff1b 351px,#f4f903 361px,#ffe000 367px,#ffc200 375px,#ffbd00 391px)"></i><i style="background:linear-gradient(90deg,#ff6c00 74px,#ff8c00 87px,#fdee00 107px,#e8ff0f 112px,#a3ff54 134px,#8eff69 156px,#acff4b 214px,#c4ff33 268px,#f1fc06 318px,#bdff3a 320px,#deff19 350px,#f4f903 360px,#ffdf00 367px,#ffbd00 377px,#ffb800 391px)"></i><i style="background:linear-gradient(90deg,#ff6c00 74px,#ff9000 86px,#fcf000 105px,#e6ff11 110px,#a8ff4f 130px,#8eff69 151px,#99ff5d 188px,#c1ff36 260px,#d2ff25 287px,#f3f903 319px,#f4f802 320px,#c2ff35 322px,#dcff1b 345px,#f2fb05 358px,#ffe200 366px,#ffb600 378px,#ffb200 392px)"></i><i style="background:linear-gradient(90deg,#ff6b00 73px,#ff8500 82px,#faf200 103px,#e4ff13 108px,#baff3d 120px,#91ff65 143px,#8eff68 171px,#bfff38 260px,#d5ff21 292px,#f4f903 318px,#f8f500 322px,#c7ff30 324px,#daff1d 341px,#f4f903 357px,#ffe000 366px,#ffaf00 378px,#ffad00 392px)"></i><i style="background:linear-gradient(90deg,#ff6d00 73px,#ff8200 80px,#fdee00 100px,#e7ff10 105px,#b8ff3f 117px,#8eff69 145px,#90ff67 176px,#beff38 261px,#d9ff1d 297px,#f3fa04 317px,#faf200 324px,#ccff2b 326px,#e1ff16 342px,#f6f601 356px,#ffd900 367px,#ffa500 378px,#ffa600 393px)"></i><i style="background:linear-gradient(90deg,#ff6f00 72px,#ff7800 77px,#fdee00 98px,#e7ff10 103px,#b2ff45 116px,#8cff6b 147px,#93ff64 182px,#beff38 264px,#e2ff15 304px,#f5f802 318px,#fcef00 326px,#e7f713 327px,#e7f613 328px,#d2ff24 329px,#f4f903 348px,#ffdf00 363px,#ffb800 372px,#ff9700 379px,#ffa600 387px,#ffa100 393px)"></i><i style="background:linear-gradient(90deg,#ff7400 71px,#ff8500 78px,#faf200 97px,#e8ff0e 101px,#acff4b 117px,#8aff6d 149px,#96ff61 188px,#d0ff27 289px,#f3fa04 316px,#ffeb00 329px,#d9ff1e 331px,#f2fc05 344px,#feed00 352px,#ffd600 364px,#ffa400 374px,#ff8700 380px,#ffa000 386px,#ff9b00 393px)"></i><i style="background:linear-gradient(90deg,#ff7900 71px,#ff9700 80px,#fcef00 95px,#eaff0c 99px,#a9ff4e 117px,#89ff6d 148px,#95ff62 188px,#d0ff27 289px,#f3fa04 316px,#ffe700 331px,#e0ff17 333px,#f4f903 343px,#ffe600 350px,#ffdc00 360px,#ffb000 371px,#ff7700 380px,#ff9500 386px,#ff9300 394px)"></i><i style="background:linear-gradient(90deg,#ff7e00 70px,#ffa000 80px,#fbf100 94px,#e9ff0e 98px,#a8ff4e 116px,#89ff6e 146px,#93ff64 185px,#d2ff25 290px,#f2fb04 315px,#ffe300 333px,#e8ff0f 335px,#f8f400 343px,#ffe400 352px,#ffcb00 364px,#ff8d00 376px,#ff7b00 380px,#ff8f00 389px,#ff8d00 394px)"></i><i style="background:linear-gradient(90deg,#ff8400 70px,#ffae00 81px,#f9f300 93px,#e7ff10 97px,#a8ff4e 115px,#8aff6d 143px,#8fff68 180px,#d2ff25 290px,#f3fa04 315px,#ffe200 332px,#ffdd00 335px,#f0fe07 337px,#ffe600 349px,#ffcd00 362px,#ff9700 374px,#ff8000 380px,#ff8800 392px,#ff8500 395px)"></i><i style="background:linear-gradient(90deg,#ff8800 69px,#ffb700 81px,#fcef00 91px,#eaff0d 95px,#a8ff4f 114px,#8bff6c 139px,#8cff6b 175px,#d3ff24 290px,#f3fa04 314px,#ffe300 330px,#ffd800 337px,#f7f500 339px,#ffe200 353px,#ffab00 370px,#ff8400 379px,#ff7f00 395px)"></i><i style="background:linear-gradient(90deg,#ff8d00 69px,#ffca00 83px,#faf100 90px,#e8ff0f 94px,#a8ff4f 113px,#8bff6c 137px,#8bff6c 173px,#d3ff24 289px,#f2fa04 313px,#ffe400 328px,#ffd300 339px,#feee00 341px,#ffdb00 355px,#ffa300 371px,#ff8400 379px,#ff7800 395px)"></i><i style="background:linear-gradient(90deg,#ff9000 68px,#ffce00 82px,#f8f400 89px,#e6ff11 93px,#aaff4c 111px,#8cff6b 134px,#8aff6d 170px,#d4ff23 289px,#f4f903 313px,#ffe200 328px,#ffcd00 341px,#ffe600 343px,#ffd900 354px,#ff9500 373px,#ff8000 381px,#ff7b00 387px,#ff7000 396px)"></i><i style="background:linear-gradient(90deg,#ff9100 67px,#ffd600 82px,#faf100 87px,#e8ff0f 91px,#afff48 108px,#8eff69 130px,#88ff6f 166px,#d4ff23 288px,#f3f903 312px,#ffe300 326px,#ffc800 343px,#ffdf00 345px,#ffcb00 356px,#ff7b00 380px,#ff6800 396px)"></i><i style="background:linear-gradient(90deg,#ff9600 67px,#ffe900 84px,#eaff0d 89px,#b5ff42 104px,#90ff67 127px,#87ff6f 163px,#d4ff23 287px,#f3fa04 311px,#ffe200 325px,#ffc300 345px,#ffd900 346px,#ffb900 359px,#ff6b00 384px,#ff6000 395px,#ff6000 397px)"></i><i style="background:linear-gradient(90deg,#ff9700 66px,#ffd100 78px,#faf200 84px,#e7ff0f 88px,#b8ff3f 101px,#91ff66 125px,#87ff70 161px,#d4ff23 286px,#f3fa04 310px,#ffe200 324px,#ffbf00 346px,#ffcf00 348px,#ff7900 376px,#ff5500 389px,#ff5900 397px)"></i><i style="background:linear-gradient(90deg,#ff9a00 66px,#ffc800 75px,#fcf000 82px,#eaff0d 86px,#baff3c 98px,#90ff67 125px,#87ff6f 162px,#d4ff23 285px,#f3fa04 309px,#ffe200 323px,#ffba00 348px,#ffc500 350px,#ff5a00 382px,#ff4500 388px,#ff5200 398px)"></i><i style="background:linear-gradient(90deg,#ff9c00 65px,#ffb500 71px,#fdee00 80px,#e7ff0f 85px,#b7ff3f 97px,#8eff69 127px,#88ff6e 165px,#d5ff21 285px,#f3fa04 308px,#ffe300 322px,#ffb500 350px,#ffb300 354px,#ff5500 381px,#ff3900 388px,#ff4c00 395px,#ff4b00 398px)"></i><i style="background:linear-gradient(90deg,#ffa200 65px,#ffbd00 71px,#faf200 79px,#e8ff0f 83px,#b3ff43 97px,#8cff6b 129px,#8aff6d 169px,#d7ff20 285px,#f4f903 308px,#ffe100 322px,#ffb300 350px,#ff9800 361px,#ff4d00 381px,#ff3700 388px,#ff4600 394px,#ff4400 399px)"></i><i style="background:linear-gradient(90deg,#ffa500 64px,#ffce00 72px,#fcf000 77px,#e9ff0e 81px,#afff48 98px,#8bff6c 131px,#8cff6b 173px,#d7ff20 284px,#f3f903 307px,#ffe200 321px,#ffb000 350px,#ffac00 354px,#ff9a00 358px,#ff3200 387px,#ff3c00 399px)"></i><i style="background:linear-gradient(90deg,#ffab00 64px,#ffe600 74px,#eefe09 78px,#afff48 97px,#8cff6b 130px,#8dff6a 173px,#d7ff20 283px,#f3fa04 306px,#ffe200 320px,#ffaf00 350px,#ffb100 355px,#ff9700 357px,#ff2c00 387px,#ff3400 400px)"></i><i style="background:linear-gradient(90deg,#ffad00 63px,#ffe200 72px,#effd08 76px,#c3ff34 88px,#9dff59 108px,#88ff6f 144px,#9aff5c 198px,#ddff19 288px,#f4f903 306px,#ffe100 320px,#ffb000 350px,#ffb100 357px,#ff8900 359px,#ff2700 386px,#ff2d00 401px)"></i><i style="background:linear-gradient(90deg,#ffad00 62px,#ffdb00 70px,#f9f300 73px,#e6ff11 76px,#c5ff31 85px,#9dff5a 108px,#88ff6f 145px,#9dff5a 201px,#deff18 288px,#f4f903 305px,#ffe200 319px,#ffb100 350px,#ffb100 359px,#ff8000 360px,#ff2000 386px,#ff2100 399px,#ff2900 402px)"></i><i style="background:linear-gradient(90deg,#ffb100 62px,#ffda00 69px,#f8f400 72px,#e3ff13 75px,#caff2d 80px,#9aff5d 110px,#89ff6e 149px,#a4ff53 212px,#e2ff15 290px,#f5f802 305px,#ffe000 320px,#ffb100 351px,#ffb200 360px,#ff7200 362px,#ff1b00 387px,#ff1700 398px,#ff2400 402px)"></i><i style="background:linear-gradient(90deg,#ffb100 61px,#ffc600 66px,#faf200 71px,#e4ff13 74px,#c7ff30 79px,#97ff60 114px,#8aff6d 155px,#b2ff45 232px,#ebff0c 297px,#ffec00 312px,#ffb300 350px,#ffb200 362px,#ff6600 364px,#ff1700 388px,#fe1200 398px,#ff2500 403px)"></i><i style="background:linear-gradient(90deg,#ffb500 61px,#ffc900 66px,#fdee00 70px,#edff0a 72px,#c5ff32 80px,#97ff60 114px,#8aff6c 155px,#b2ff45 231px,#ecff0b 297px,#ffea00 313px,#ffb400 350px,#ffb300 364px,#ff5a00 366px,#ff1400 389px,#fa0f00 396px,#ff2900 404px)"></i><i style="background:linear-gradient(90deg,#ffb800 60px,#ffd000 66px,#fbf100 70px,#e6ff11 73px,#c1ff35 82px,#96ff60 115px,#8cff6b 157px,#b6ff40 237px,#f2fb05 301px,#ffe300 317px,#ffb500 351px,#ffb300 366px,#ff5000 368px,#fe1200 390px,#fe1200 396px,#ff2d00 405px)"></i><i style="background:linear-gradient(90deg,#ffc100 61px,#ffe500 68px,#f2fb05 71px,#c5ff32 81px,#9bff5c 110px,#8cff6b 151px,#aaff4d 218px,#e9ff0e 293px,#feed00 310px,#ffb600 351px,#ffb400 368px,#ff4700 370px,#ff1400 390px,#ff1900 397px,#ff3000 406px)"></i><i style="background:linear-gradient(90deg,#ff1600 393px,#ff3100 406px,#ff3100 407px)"></i><i style="background:linear-gradient(90deg,#ff2c00 402px,#ff3100 407px)"></i><i></i><i></i><i></i><i></i><i></i><i></i><i></i><i></i><i></i><i></i><i></i><i></i></div>
<svg width="1850" height="587" viewBox="0 0 1850 587">
<defs><clipPath id="c0"><rect x="83.4" y="43.8" width="450.3" height="451.0"/></clipPath><clipPath id="c1"><rect x="540.6" y="43.8" width="450.3" height="451.0"/></clipPath><linearGradient id="jet" x1="0" y1="1" x2="0" y2="0"><stop offset="0.000" stop-color="#000080"/><stop offset="0.025" stop-color="#00009c"/><stop offset="0.050" stop-color="#0000b9"/><stop offset="0.075" stop-color="#0000d6"/><stop offset="0.100" stop-color="#0000f3"/><stop offset="0.125" stop-color="#0000ff"/><stop offset="0.150" stop-color="#0019ff"/><stop offset="0.175" stop-color="#0033ff"/><stop offset="0.200" stop-color="#004dff"/><stop offset="0.225" stop-color="#0066ff"/><stop offset="0.250" stop-color="#0080ff"/><stop offset="0.275" stop-color="#0099ff"/><stop offset="0.300" stop-color="#00b2ff"/><stop offset="0.325" stop-color="#00ccff"/><stop offset="0.350" stop-color="#00e5f7"/><stop offset="0.375" stop-color="#15ffe2"/><stop offset="0.400" stop-color="#29ffce"/><stop offset="0.425" stop-color="#3effb9"/><stop offset="0.450" stop-color="#52ffa5"/><stop offset="0.475" stop-color="#67ff90"/><stop offset="0.500" stop-color="#7bff7b"/><stop offset="0.525" stop-color="#90ff67"/><stop offset="0.550" stop-color="#a5ff52"/><stop offset="0.575" stop-color="#b9ff3e"/><stop offset="0.600" stop-color="#ceff29"/><stop offset="0.625" stop-color="#e2ff15"/><stop offset="0.650" stop-color="#f7f600"/><stop offset="0.675" stop-color="#ffde00"/><stop offset="0.700" stop-color="#ffc600"/><stop offset="0.725" stop-color="#ffaf00"/><stop offset="0.750" stop-color="#ff9700"/><stop offset="0.775" stop-color="#ff8000"/><stop offset="0.800" stop-color="#ff6800"/><stop offset="0.825" stop-color="#ff5000"/><stop offset="0.850" stop-color="#ff3900"/><stop offset="0.875" stop-color="#ff2100"/><stop offset="0.900" stop-color="#f30900"/><stop offset="0.925" stop-color="#d60000"/><stop offset="0.950" stop-color="#b90000"/><stop offset="0.975" stop-color="#9c0000"/><stop offset="1.000" stop-color="#800000"/></linearGradient></defs>
<polyline points="82.0,207.3 119.3,207.3 134.5,222.7 145.4,236.8 150.3,249.0 153.0,264.0 154.4,282.6 154.9,299.0 153.0,312.6 150.3,322.2 144.3,330.5 157.7,375.1 160.2,387.7 159.7,405.2 156.5,427.0 150.2,447.0 87.6,480.6 115.2,480.6 128.9,478.1 162.7,464.6 175.3,460.6 229.1,460.6 230.3,455.1 253.4,423.8 247.9,415.2 251.1,410.2 262.4,388.2 301.7,399.7 370.6,419.0 425.2,435.5 425.2,461.3" fill="none" stroke="#000" stroke-width="3.8" stroke-linejoin="miter" clip-path="url(#c0)"/>
<polyline points="417.7,462.0 452.7,462.0 465.2,465.0 487.8,473.8 507.8,482.6 520.3,485.6 536.0,486.3" fill="none" stroke="#000" stroke-width="3.8" stroke-linejoin="miter" clip-path="url(#c0)"/>
<polyline points="536.0,207.3 527.5,207.5 519.0,212.5 510.6,218.6 500.5,226.0 491.5,233.6 485.5,241.0 480.6,249.9 476.3,260.0 473.8,271.7 473.0,286.0 473.8,300.0 476.5,315.3 483.6,325.5 472.8,372.6 470.3,385.2 476.5,427.0 481.5,443.8 536.0,481.2" fill="none" stroke="#000" stroke-width="3.8" stroke-linejoin="miter" clip-path="url(#c0)"/>
<polyline points="83.8,43.8 100.1,70.0 119.5,100.0 139.9,130.0 159.5,157.6 183.5,190.0 206.6,220.0 230.6,250.0 256.6,281.2 279.3,310.0 320.0,358.0 360.4,405.2 368.0,415.0 371.0,419.5" fill="none" stroke="#000" stroke-width="2.5"/>
<polyline points="534.1,74.5 452.7,132.0 379.8,186.5 337.7,220.0 256.6,281.2 225.9,310.0 190.0,345.0 159.5,374.9" fill="none" stroke="#000" stroke-width="2.5"/>
<polyline points="159.5,157.6 172.4,143.5 185.4,130.0 197.3,114.0 210.5,96.5 223.0,77.5 233.5,59.0 241.8,43.8" fill="none" stroke="#000" stroke-width="3.3" stroke-dasharray="9.5 4.3"/>
<rect x="83.4" y="43.8" width="450.3" height="451.0" fill="none" stroke="#111" stroke-width="1.5"/>
<text class="tk" x="146.0" y="516.6" text-anchor="middle">2.4</text><text class="tk" x="213.4" y="516.6" text-anchor="middle">2.5</text><text class="tk" x="280.8" y="516.6" text-anchor="middle">2.6</text><text class="tk" x="348.2" y="516.6" text-anchor="middle">2.7</text><text class="tk" x="415.6" y="516.6" text-anchor="middle">2.8</text><text class="tk" x="483.0" y="516.6" text-anchor="middle">2.9</text><text class="tk" x="74.2" y="56.9" text-anchor="end">−1.1</text><text class="tk" x="74.2" y="124.3" text-anchor="end">−1.2</text><text class="tk" x="74.2" y="191.7" text-anchor="end">−1.3</text><text class="tk" x="74.2" y="259.1" text-anchor="end">−1.4</text><text class="tk" x="74.2" y="326.5" text-anchor="end">−1.5</text><text class="tk" x="74.2" y="393.9" text-anchor="end">−1.6</text><text class="tk" x="74.2" y="461.3" text-anchor="end">−1.7</text>
<path d="M146.0 494.8v-10.2M146.0 43.8v10.2M213.4 494.8v-10.2M213.4 43.8v10.2M280.8 494.8v-10.2M280.8 43.8v10.2M348.2 494.8v-10.2M348.2 43.8v10.2M415.6 494.8v-10.2M415.6 43.8v10.2M483.0 494.8v-10.2M483.0 43.8v10.2M83.4 49.6h10.2M533.7 49.6h-10.2M83.4 117.0h10.2M533.7 117.0h-10.2M83.4 184.4h10.2M533.7 184.4h-10.2M83.4 251.8h10.2M533.7 251.8h-10.2M83.4 319.2h10.2M533.7 319.2h-10.2M83.4 386.6h10.2M533.7 386.6h-10.2M83.4 454.0h10.2M533.7 454.0h-10.2" stroke="#111" stroke-width="1.3" fill="none" opacity="0.7"/>
<text class="lb" x="308.1" y="543.3" text-anchor="middle">R (m)</text>
<text class="tt" x="308.1" y="31.6" text-anchor="middle">inner</text>
<polyline points="539.2,207.3 576.5,207.3 591.7,222.7 602.6,236.8 607.5,249.0 610.2,264.0 611.6,282.6 612.1,299.0 610.2,312.6 607.5,322.2 601.5,330.5 614.9,375.1 617.4,387.7 616.9,405.2 613.7,427.0 607.4,447.0 544.8,480.6 572.4,480.6 586.1,478.1 619.9,464.6 632.5,460.6 686.3,460.6 687.5,455.1 710.6,423.8 705.1,415.2 708.3,410.2 719.6,388.2 758.9,399.7 827.8,419.0 882.4,435.5 882.4,461.3" fill="none" stroke="#000" stroke-width="3.8" stroke-linejoin="miter" clip-path="url(#c1)"/>
<polyline points="874.9,462.0 909.9,462.0 922.4,465.0 945.0,473.8 965.0,482.6 977.5,485.6 993.2,486.3" fill="none" stroke="#000" stroke-width="3.8" stroke-linejoin="miter" clip-path="url(#c1)"/>
<polyline points="993.2,207.3 984.7,207.5 976.2,212.5 967.8,218.6 957.7,226.0 948.7,233.6 942.7,241.0 937.8,249.9 933.5,260.0 931.0,271.7 930.2,286.0 931.0,300.0 933.7,315.3 940.8,325.5 930.0,372.6 927.5,385.2 933.7,427.0 938.7,443.8 993.2,481.2" fill="none" stroke="#000" stroke-width="3.8" stroke-linejoin="miter" clip-path="url(#c1)"/>
<polyline points="550.2,44.0 566.0,70.0 585.0,100.0 605.3,130.0 627.5,160.0 651.0,190.0 675.8,220.0 702.5,250.0 736.3,284.9 758.9,310.0 802.0,355.0 844.8,400.0 882.1,435.7 904.8,461.6" fill="none" stroke="#000" stroke-width="2.5"/>
<polyline points="990.8,83.0 929.2,130.0 870.0,175.5 812.6,220.0 736.3,284.9 710.5,310.0 667.0,355.0 624.6,400.0 616.5,409.7" fill="none" stroke="#000" stroke-width="2.5"/>
<rect x="540.6" y="43.8" width="450.3" height="451.0" fill="none" stroke="#111" stroke-width="1.5"/>
<text class="tk" x="603.2" y="516.6" text-anchor="middle">2.4</text><text class="tk" x="670.6" y="516.6" text-anchor="middle">2.5</text><text class="tk" x="738.0" y="516.6" text-anchor="middle">2.6</text><text class="tk" x="805.4" y="516.6" text-anchor="middle">2.7</text><text class="tk" x="872.8" y="516.6" text-anchor="middle">2.8</text><text class="tk" x="940.2" y="516.6" text-anchor="middle">2.9</text>
<path d="M603.2 494.8v-10.2M603.2 43.8v10.2M670.6 494.8v-10.2M670.6 43.8v10.2M738.0 494.8v-10.2M738.0 43.8v10.2M805.4 494.8v-10.2M805.4 43.8v10.2M872.8 494.8v-10.2M872.8 43.8v10.2M940.2 494.8v-10.2M940.2 43.8v10.2M540.6 49.6h10.2M990.9 49.6h-10.2M540.6 117.0h10.2M990.9 117.0h-10.2M540.6 184.4h10.2M990.9 184.4h-10.2M540.6 251.8h10.2M990.9 251.8h-10.2M540.6 319.2h10.2M990.9 319.2h-10.2M540.6 386.6h10.2M990.9 386.6h-10.2M540.6 454.0h10.2M990.9 454.0h-10.2" stroke="#111" stroke-width="1.3" fill="none" opacity="0.7"/>
<text class="lb" x="765.2" y="543.3" text-anchor="middle">R (m)</text>
<text class="tt" x="765.2" y="31.6" text-anchor="middle">outer</text>
<text class="lb" transform="translate(21.3 268.5) rotate(-90)" text-anchor="middle">Z (m)</text>
<rect x="1013.7" y="43.8" width="24.6" height="451.2" fill="url(#jet)" stroke="#222" stroke-opacity="0.55" stroke-width="1"/>
<path d="M1038.3 459.3h5" stroke="#111" stroke-width="1.3"/><text class="tk" x="1050.5" y="466.5">17</text><path d="M1038.3 386.6h5" stroke="#111" stroke-width="1.3"/><text class="tk" x="1050.5" y="393.8">18</text><path d="M1038.3 313.9h5" stroke="#111" stroke-width="1.3"/><text class="tk" x="1050.5" y="321.1">19</text><path d="M1038.3 241.2h5" stroke="#111" stroke-width="1.3"/><text class="tk" x="1050.5" y="248.4">20</text><path d="M1038.3 168.5h5" stroke="#111" stroke-width="1.3"/><text class="tk" x="1050.5" y="175.7">21</text><path d="M1038.3 95.8h5" stroke="#111" stroke-width="1.3"/><text class="tk" x="1050.5" y="103.0">22</text>
<text class="sf" x="1002" y="32.5" font-size="25">log<tspan font-size="17.5" dy="5.5">10</tspan></text>
<text transform="translate(1104.5 266.7) rotate(-90)" text-anchor="middle" style="font-family:'Liberation Serif', serif;font-style:italic" stroke="#111" stroke-width="0.35" font-size="19.8">D<tspan font-size="12" dy="4">α</tspan><tspan dy="-4">(ph/m</tspan><tspan font-size="12.5" dy="-11.5">3</tspan><tspan dy="11.5">s)</tspan></text>
<rect x="1223.1" y="26.8" width="622.4" height="497.9" fill="none" stroke="#111" stroke-width="1.7"/>
<text class="lc" style="font-size:21.8px" x="1237.7" y="548.2" text-anchor="middle">−3</text><text class="lc" style="font-size:21.8px" x="1336.6" y="548.2" text-anchor="middle">−2</text><text class="lc" style="font-size:21.8px" x="1435.5" y="548.2" text-anchor="middle">−1</text><text class="lc" style="font-size:21.8px" x="1534.4" y="548.2" text-anchor="middle">0</text><text class="lc" style="font-size:21.8px" x="1633.3" y="548.2" text-anchor="middle">1</text><text class="lc" style="font-size:21.8px" x="1732.2" y="548.2" text-anchor="middle">2</text><text class="lc" style="font-size:21.8px" x="1831.1" y="548.2" text-anchor="middle">3</text><text class="lc" style="font-size:21.8px" x="1214.5" y="529.6" text-anchor="end">0.0</text><text class="lc" style="font-size:21.8px" x="1214.5" y="443.2" text-anchor="end">0.5</text><text class="lc" style="font-size:21.8px" x="1214.5" y="356.8" text-anchor="end">1.0</text><text class="lc" style="font-size:21.8px" x="1214.5" y="270.4" text-anchor="end">1.5</text><text class="lc" style="font-size:21.8px" x="1214.5" y="184.0" text-anchor="end">2.0</text><text class="lc" style="font-size:21.8px" x="1214.5" y="97.6" text-anchor="end">2.5</text>
<path d="M1237.7 524.7v-11.5M1237.7 26.8v11.5M1336.6 524.7v-11.5M1336.6 26.8v11.5M1435.5 524.7v-11.5M1435.5 26.8v11.5M1534.4 524.7v-11.5M1534.4 26.8v11.5M1633.3 524.7v-11.5M1633.3 26.8v11.5M1732.2 524.7v-11.5M1732.2 26.8v11.5M1831.1 524.7v-11.5M1831.1 26.8v11.5M1223.1 521.6h11.5M1845.5 521.6h-11.5M1223.1 435.2h11.5M1845.5 435.2h-11.5M1223.1 348.8h11.5M1845.5 348.8h-11.5M1223.1 262.4h11.5M1845.5 262.4h-11.5M1223.1 176.0h11.5M1845.5 176.0h-11.5M1223.1 89.6h11.5M1845.5 89.6h-11.5" stroke="#111" stroke-width="1.6" fill="none"/>
<text class="lc" x="1224.3" y="21">1e20</text>
<text class="lc" style="font-size:22.6px" x="1534.3" y="577" text-anchor="middle">Poloidal angle (rad)</text>
<text class="lc" style="font-size:22.6px" transform="translate(1170.5 276.8) rotate(-90)" text-anchor="middle">src (1/s)</text>
<polyline points="1223.9,444.2 1245.2,464.7 1255.2,457.6 1272.2,465.5 1283.6,467.8 1289.3,479.2 1303.5,488.3 1312.6,501.7 1316.3,494.5 1321.2,496.2 1329.1,448.4 1334.0,420.0 1342.8,315.0 1346.0,200.0 1346.5,130.0 1349.2,200.0 1350.6,380.0 1352.8,460.0 1353.8,380.0 1356.7,435.0 1359.0,433.0 1362.0,452.0 1367.6,432.8 1371.3,448.4 1374.0,430.0 1382.9,386.4 1387.9,390.2 1397.9,415.2 1402.9,403.9 1409.2,398.9 1423.8,351.4 1432.5,347.6 1441.2,305.0 1450.0,292.5 1460.9,242.7 1472.1,224.6 1483.4,218.1 1497.2,200.1 1512.2,165.8 1526.7,182.6 1542.2,146.3 1558.5,152.5 1573.5,170.0 1589.3,178.1 1603.6,163.0 1618.6,166.3 1631.1,220.1 1642.4,246.4 1648.6,280.0 1654.9,318.8 1664.9,340.1 1686.2,358.4 1705.6,420.0 1718.4,462.7 1729.8,483.2 1736.9,482.0 1746.0,474.1 1762.5,464.1 1783.9,440.5 1795.3,438.5 1808.1,444.2 1820.9,446.2 1835.1,451.3" fill="none" stroke="#ff7f0e" stroke-width="2.7" stroke-linejoin="round"/>
<polyline points="1227.5,424.0 1238.8,417.5 1249.5,432.8 1260.9,432.8 1269.4,459.8 1277.1,443.3 1285.0,464.1 1292.2,460.7 1299.3,468.4 1309.2,474.1 1314.9,469.8 1320.0,475.5 1326.3,449.9 1332.0,439.9 1334.3,420.0 1339.4,315.0 1343.5,200.0 1345.0,106.6 1350.5,195.0 1351.0,320.0 1352.0,430.0 1352.8,469.8 1354.5,430.0 1357.6,454.1 1361.0,446.0 1364.7,453.6 1371.8,432.8 1375.4,409.7 1380.4,434.2 1384.1,410.2 1390.4,414.0 1397.9,409.0 1405.6,369.2 1411.5,383.9 1425.0,322.1 1432.8,313.8 1440.8,287.0 1442.6,279.0 1452.1,265.2 1462.1,208.1 1473.4,215.9 1487.2,177.6 1493.4,140.0 1500.4,93.1 1515.4,113.9 1529.3,131.4 1544.5,92.1 1560.6,87.1 1576.8,48.1 1592.5,102.7 1607.3,102.2 1616.1,147.0 1621.9,170.0 1633.6,153.8 1646.1,224.6 1658.7,232.1 1668.7,287.0 1669.9,293.8 1679.9,318.8 1688.7,318.3 1698.7,341.3 1716.2,427.0 1732.7,454.7 1739.8,449.9 1748.9,451.9 1759.7,441.3 1769.6,435.6 1781.0,427.1 1790.4,425.1 1801.8,437.1 1813.7,425.7 1826.4,405.2 1839.3,427.0" fill="none" stroke="#1f77b4" stroke-width="2.7" stroke-linejoin="round"/>
<path d="M1709.2 54.6h46.5" stroke="#ff7f0e" stroke-width="3"/><path d="M1709.2 86.6h46.5" stroke="#1f77b4" stroke-width="3"/>
<text class="sf" x="1773.5" y="62.5" font-size="22">outer</text><text class="sf" x="1773.5" y="94" font-size="22">inner</text>
</svg>
</body></html>
